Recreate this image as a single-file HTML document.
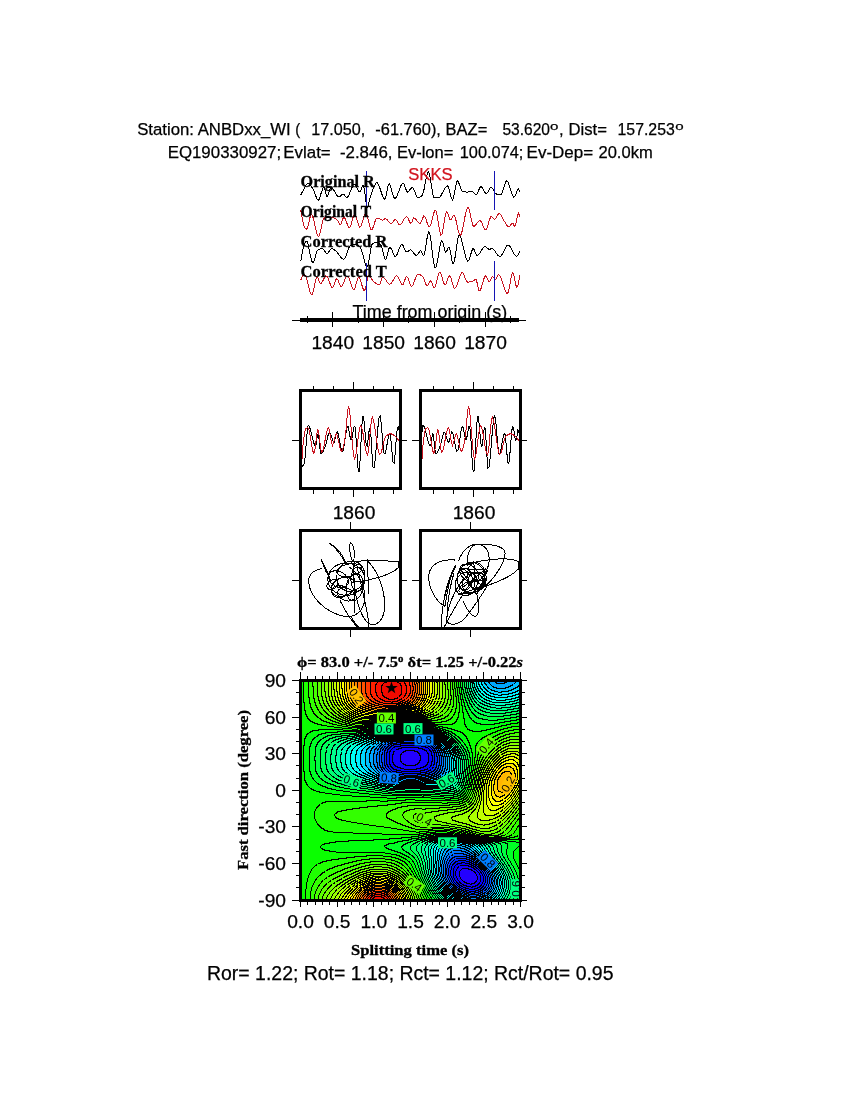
<!DOCTYPE html>
<html><head><meta charset="utf-8"><title>Shear-wave splitting ANBDxx_WI</title>
<style>html,body{margin:0;padding:0;background:#fff}body{width:850px;height:1100px;overflow:hidden}svg{display:block}</style></head>
<body>
<svg width="850" height="1100" viewBox="0 0 850 1100">
<rect width="850" height="1100" fill="#fff"/>
<g font-family="'Liberation Sans',Arial,Helvetica,sans-serif" fill="#000" stroke="#000" stroke-width="0.25">
<text xml:space="preserve" x="137.15" y="134.6" font-size="16.67" textLength="153.56" lengthAdjust="spacingAndGlyphs">Station: ANBDxx_WI</text>
<text xml:space="preserve" x="295.31" y="134.6" font-size="16.67" textLength="4.93" lengthAdjust="spacingAndGlyphs">(</text>
<text xml:space="preserve" x="311.19" y="134.6" font-size="16.67" textLength="54.01" lengthAdjust="spacingAndGlyphs">17.050,</text>
<text xml:space="preserve" x="375.34" y="134.6" font-size="16.67" textLength="65.59" lengthAdjust="spacingAndGlyphs">-61.760),</text>
<text xml:space="preserve" x="445.58" y="134.6" font-size="16.67" textLength="41.73" lengthAdjust="spacingAndGlyphs">BAZ=</text>
<text xml:space="preserve" x="502.38" y="134.6" font-size="16.67" textLength="47.65" lengthAdjust="spacingAndGlyphs">53.620</text>
<text xml:space="preserve" x="568.46" y="134.6" font-size="16.67" textLength="38.49" lengthAdjust="spacingAndGlyphs">Dist=</text>
<text xml:space="preserve" x="617.51" y="134.6" font-size="16.67" textLength="57.32" lengthAdjust="spacingAndGlyphs">157.253</text>
<text x="559" y="134.6" font-size="16.67">,</text>
<text xml:space="preserve" x="549.99" y="129.8" font-size="11.70" textLength="8.43" lengthAdjust="spacingAndGlyphs">o</text>
<text xml:space="preserve" x="675.19" y="129.8" font-size="11.70" textLength="8.43" lengthAdjust="spacingAndGlyphs">o</text>
<text xml:space="preserve" x="167.65" y="157.8" font-size="16.67" textLength="113.44" lengthAdjust="spacingAndGlyphs">EQ190330927;</text>
<text xml:space="preserve" x="283.35" y="157.8" font-size="16.67" textLength="47.35" lengthAdjust="spacingAndGlyphs">Evlat=</text>
<text xml:space="preserve" x="339.92" y="157.8" font-size="16.67" textLength="52.57" lengthAdjust="spacingAndGlyphs">-2.846,</text>
<text xml:space="preserve" x="396.88" y="157.8" font-size="16.67" textLength="56.53" lengthAdjust="spacingAndGlyphs">Ev-lon=</text>
<text xml:space="preserve" x="459.77" y="157.8" font-size="16.67" textLength="63.66" lengthAdjust="spacingAndGlyphs">100.074;</text>
<text xml:space="preserve" x="526.54" y="157.8" font-size="16.67" textLength="66.69" lengthAdjust="spacingAndGlyphs">Ev-Dep=</text>
<text xml:space="preserve" x="598.47" y="157.8" font-size="16.67" textLength="54.19" lengthAdjust="spacingAndGlyphs">20.0km</text>
</g>
<g fill="none" stroke-width="1" shape-rendering="crispEdges">
<polyline stroke="#000" points="300.5,195.5 301.5,193.5 302.5,191.6 303.5,189.8 304.5,188.1 305.5,186.1 306.5,184.3 307.5,183.2 308.5,183.1 309.5,183.8 310.5,185.1 311.5,186.6 312.5,188.2 313.5,189.9 314.5,192.3 315.5,195.1 316.5,197.7 317.5,199.7 318.5,200.5 319.5,198.8 320.5,195.2 321.5,192.0 322.5,189.4 323.5,187.3 324.5,187.7 325.5,192.0 326.5,196.3 327.5,196.6 328.5,194.0 329.5,190.5 330.5,187.9 331.5,187.6 332.5,188.4 333.5,189.7 334.5,191.4 335.5,193.1 336.5,194.8 337.5,196.1 338.5,196.9 339.5,196.9 340.5,196.1 341.5,194.9 342.5,194.1 343.5,194.2 344.5,195.1 345.5,196.4 346.5,197.3 347.5,197.3 348.5,195.8 349.5,193.5 350.5,191.1 351.5,188.9 352.5,186.3 353.5,184.3 354.5,184.2 355.5,185.2 356.5,187.0 357.5,189.0 358.5,190.8 359.5,191.8 360.5,191.5 361.5,188.5 362.5,185.5 363.5,185.8 364.5,190.0 365.5,197.9 366.5,206.5 367.5,207.5 368.5,204.1 369.5,199.8 370.5,196.5 371.5,193.4 372.5,190.6 373.5,188.1 374.5,185.9 375.5,183.9 376.5,182.6 377.5,182.9 378.5,184.4 379.5,186.9 380.5,189.9 381.5,193.0 382.5,195.9 383.5,198.0 384.5,199.1 385.5,198.0 386.5,193.6 387.5,188.1 388.5,184.2 389.5,183.9 390.5,186.2 391.5,189.7 392.5,193.6 393.5,196.8 394.5,198.4 395.5,198.1 396.5,196.7 397.5,194.6 398.5,192.0 399.5,189.3 400.5,186.7 401.5,184.6 402.5,183.3 403.5,183.1 404.5,185.1 405.5,188.1 406.5,190.9 407.5,192.0 408.5,191.4 409.5,190.2 410.5,188.9 411.5,187.8 412.5,187.5 413.5,188.7 414.5,191.0 415.5,193.7 416.5,196.2 417.5,197.6 418.5,197.7 419.5,197.4 420.5,196.9 421.5,196.1 422.5,195.0 423.5,191.9 424.5,187.2 425.5,181.8 426.5,176.8 427.5,173.1 428.5,171.6 429.5,173.8 430.5,179.2 431.5,186.1 432.5,192.6 433.5,197.0 434.5,197.8 435.5,197.8 436.5,197.8 437.5,197.8 438.5,197.8 439.5,197.3 440.5,196.2 441.5,194.6 442.5,192.7 443.5,190.7 444.5,188.9 445.5,187.3 446.5,186.2 447.5,185.8 448.5,187.3 449.5,190.8 450.5,194.9 451.5,198.4 452.5,199.9 453.5,197.8 454.5,193.0 455.5,187.2 456.5,182.5 457.5,180.8 458.5,182.1 459.5,184.7 460.5,187.8 461.5,190.3 462.5,191.4 463.5,191.7 464.5,191.9 465.5,192.0 466.5,192.1 467.5,192.1 468.5,192.0 469.5,191.7 470.5,191.5 471.5,191.4 472.5,191.8 473.5,192.6 474.5,193.7 475.5,194.5 476.5,194.9 477.5,193.7 478.5,191.0 479.5,188.2 480.5,186.6 481.5,186.9 482.5,188.2 483.5,189.9 484.5,191.7 485.5,193.0 486.5,193.5 487.5,192.7 488.5,191.0 489.5,189.1 490.5,187.6 491.5,187.2 492.5,188.3 493.5,190.3 494.5,192.3 495.5,193.5 496.5,194.0 497.5,194.3 498.5,194.6 499.5,194.8 500.5,194.9 501.5,193.9 502.5,191.5 503.5,188.4 504.5,185.1 505.5,182.4 506.5,180.9 507.5,181.2 508.5,183.2 509.5,186.1 510.5,189.5 511.5,192.8 512.5,195.4 513.5,197.0 514.5,196.7 515.5,195.0 516.5,192.5 517.5,190.1 518.5,188.7 519.5,190.6 519.8,192.0"/>
<polyline stroke="#c81420" points="300.8,210.2 301.8,216.4 302.8,221.3 303.8,225.1 304.8,227.6 305.8,229.0 306.8,229.1 307.8,226.7 308.8,222.6 309.8,218.2 310.8,215.1 311.8,214.7 312.8,216.7 313.8,220.3 314.8,224.8 315.8,229.3 316.8,233.2 317.8,235.8 318.8,236.2 319.8,233.9 320.8,229.7 321.8,224.9 322.8,220.6 323.8,218.2 324.8,217.9 325.8,217.8 326.8,217.6 327.8,217.6 328.8,217.5 329.8,217.5 330.8,217.5 331.8,217.6 332.8,217.8 333.8,218.0 334.8,218.3 335.8,218.6 336.8,219.4 337.8,221.0 338.8,222.8 339.8,224.1 340.8,224.1 341.8,221.9 342.8,219.0 343.8,217.3 344.8,218.0 345.8,220.1 346.8,222.9 347.8,225.6 348.8,227.4 349.8,227.8 350.8,225.7 351.8,222.0 352.8,218.1 353.8,215.2 354.8,214.6 355.8,216.2 356.8,219.2 357.8,222.5 358.8,225.5 359.8,227.1 360.8,226.6 361.8,224.2 362.8,220.7 363.8,217.0 364.8,214.2 365.8,213.0 366.8,214.4 367.8,218.0 368.8,222.4 369.8,226.6 370.8,229.5 371.8,229.8 372.8,228.1 373.8,225.3 374.8,222.1 375.8,219.4 376.8,218.0 377.8,218.1 378.8,218.5 379.8,219.0 380.8,219.6 381.8,220.0 382.8,220.1 383.8,219.6 384.8,218.9 385.8,218.7 386.8,219.3 387.8,220.4 388.8,221.7 389.8,222.9 390.8,223.5 391.8,223.4 392.8,222.2 393.8,220.8 394.8,219.6 395.8,219.5 396.8,220.9 397.8,222.8 398.8,224.5 399.8,225.0 400.8,224.4 401.8,223.1 402.8,221.4 403.8,219.7 404.8,218.1 405.8,217.0 406.8,216.6 407.8,217.7 408.8,220.0 409.8,222.3 410.8,223.6 411.8,222.3 412.8,219.2 413.8,217.9 414.8,218.4 415.8,219.4 416.8,220.7 417.8,222.0 418.8,223.0 419.8,223.5 420.8,222.8 421.8,220.5 422.8,217.8 423.8,216.0 424.8,216.2 425.8,218.5 426.8,221.8 427.8,224.9 428.8,226.9 429.8,226.7 430.8,224.4 431.8,220.8 432.8,216.8 433.8,213.1 434.8,210.7 435.8,210.3 436.8,213.5 437.8,219.2 438.8,225.8 439.8,231.7 440.8,235.1 441.8,234.7 442.8,230.7 443.8,224.8 444.8,218.5 445.8,213.5 446.8,211.5 447.8,213.1 448.8,216.5 449.8,219.4 450.8,219.8 451.8,218.3 452.8,216.2 453.8,215.1 454.8,216.2 455.8,219.5 456.8,224.1 457.8,228.9 458.8,232.9 459.8,235.3 460.8,235.0 461.8,232.4 462.8,228.2 463.8,223.0 464.8,217.6 465.8,212.8 466.8,209.1 467.8,207.4 468.8,208.3 469.8,211.8 470.8,216.6 471.8,221.4 472.8,225.1 473.8,226.4 474.8,225.9 475.8,224.9 476.8,223.6 477.8,222.3 478.8,221.2 479.8,220.7 480.8,221.2 481.8,222.9 482.8,225.2 483.8,227.5 484.8,229.3 485.8,229.9 486.8,228.6 487.8,225.7 488.8,222.1 489.8,218.9 490.8,216.8 491.8,216.7 492.8,217.6 493.8,218.7 494.8,219.3 495.8,218.5 496.8,216.7 497.8,214.8 498.8,213.7 499.8,213.9 500.8,215.0 501.8,216.8 502.8,218.7 503.8,220.4 504.8,221.9 505.8,223.6 506.8,225.3 507.8,226.5 508.8,227.1 509.8,226.4 510.8,224.8 511.8,223.2 512.8,223.0 513.8,225.2 514.8,226.3 515.8,223.7 516.8,219.2 517.8,214.8 518.8,212.9 519.8,216.5"/>
<polyline stroke="#000" points="300.8,261.3 301.8,255.1 302.8,250.0 303.8,246.1 304.8,243.5 305.8,241.5 306.8,241.1 307.8,243.4 308.8,247.6 309.8,252.6 310.8,257.5 311.8,261.2 312.8,262.7 313.8,261.5 314.8,258.5 315.8,254.8 316.8,251.6 317.8,250.0 318.8,249.5 319.8,249.1 320.8,248.8 321.8,248.7 322.8,248.6 323.8,249.4 324.8,251.1 325.8,252.7 326.8,253.5 327.8,253.1 328.8,251.9 329.8,250.5 330.8,249.2 331.8,248.6 332.8,248.8 333.8,249.4 334.8,250.2 335.8,251.0 336.8,252.0 337.8,253.2 338.8,254.6 339.8,255.9 340.8,257.2 341.8,258.2 342.8,258.9 343.8,259.2 344.8,258.5 345.8,256.5 346.8,253.6 347.8,250.6 348.8,247.9 349.8,246.1 350.8,245.5 351.8,245.1 352.8,244.8 353.8,244.6 354.8,244.5 355.8,244.6 356.8,244.9 357.8,245.5 358.8,246.1 359.8,246.9 360.8,248.2 361.8,250.9 362.8,254.5 363.8,258.4 364.8,262.1 365.8,265.1 366.8,266.7 367.8,266.0 368.8,261.5 369.8,255.1 370.8,248.9 371.8,244.8 372.8,243.9 373.8,243.3 374.8,242.8 375.8,242.6 376.8,242.5 377.8,242.8 378.8,243.4 379.8,244.2 380.8,245.2 381.8,246.8 382.8,250.6 383.8,255.3 384.8,259.0 385.8,259.7 386.8,257.1 387.8,252.9 388.8,248.9 389.8,247.2 390.8,248.0 391.8,249.9 392.8,252.3 393.8,254.6 394.8,256.1 395.8,256.3 396.8,254.9 397.8,252.6 398.8,249.8 399.8,247.2 400.8,245.2 401.8,244.4 402.8,245.2 403.8,247.2 404.8,249.5 405.8,251.4 406.8,252.1 407.8,251.6 408.8,250.8 409.8,250.0 410.8,249.8 411.8,250.5 412.8,251.7 413.8,253.1 414.8,254.5 415.8,255.4 416.8,255.5 417.8,254.5 418.8,252.8 419.8,251.3 420.8,250.7 421.8,252.4 422.8,254.8 423.8,255.4 424.8,252.1 425.8,246.2 426.8,239.7 427.8,234.2 428.8,231.6 429.8,233.6 430.8,239.6 431.8,247.7 432.8,256.2 433.8,263.5 434.8,267.7 435.8,267.5 436.8,264.2 437.8,259.0 438.8,252.9 439.8,247.2 440.8,242.8 441.8,240.8 442.8,242.3 443.8,246.2 444.8,250.3 445.8,252.1 446.8,250.9 447.8,248.6 448.8,247.2 449.8,249.1 450.8,254.2 451.8,259.9 452.8,263.7 453.8,263.3 454.8,258.9 455.8,252.2 456.8,245.0 457.8,238.8 458.8,235.4 459.8,235.7 460.8,237.7 461.8,240.9 462.8,245.0 463.8,249.3 464.8,253.6 465.8,257.3 466.8,260.0 467.8,261.3 468.8,260.5 469.8,257.8 470.8,254.2 471.8,250.9 472.8,248.8 473.8,249.0 474.8,251.1 475.8,253.6 476.8,255.4 477.8,255.4 478.8,254.6 479.8,253.2 480.8,251.5 481.8,249.7 482.8,248.2 483.8,247.0 484.8,246.5 485.8,246.8 486.8,247.7 487.8,248.6 488.8,249.2 489.8,249.2 490.8,248.9 491.8,248.6 492.8,248.8 493.8,249.7 494.8,250.9 495.8,252.4 496.8,253.8 497.8,255.1 498.8,256.0 499.8,256.4 500.8,256.0 501.8,254.8 502.8,253.1 503.8,251.2 504.8,249.2 505.8,247.3 506.8,245.9 507.8,245.2 508.8,245.3 509.8,246.2 510.8,247.6 511.8,249.5 512.8,251.4 513.8,253.4 514.8,255.0 515.8,256.0 516.8,256.4 517.8,255.6 518.8,253.7 519.8,251.4"/>
<polyline stroke="#c81420" points="300.8,280.0 301.8,277.4 302.8,275.6 303.8,274.6 304.8,274.6 305.8,276.3 306.8,279.4 307.8,283.4 308.8,287.5 309.8,291.1 310.8,293.8 311.8,294.8 312.8,293.2 313.8,289.2 314.8,284.3 315.8,279.9 316.8,277.4 317.8,277.9 318.8,280.2 319.8,282.7 320.8,283.5 321.8,282.6 322.8,280.9 323.8,278.8 324.8,277.0 325.8,275.9 326.8,276.1 327.8,277.7 328.8,280.1 329.8,282.9 330.8,285.5 331.8,287.3 332.8,287.7 333.8,286.0 334.8,282.9 335.8,279.9 336.8,278.6 337.8,279.7 338.8,282.1 339.8,284.7 340.8,286.3 341.8,286.0 342.8,284.5 343.8,282.2 344.8,279.7 345.8,277.5 346.8,276.1 347.8,276.0 348.8,277.5 349.8,280.3 350.8,283.5 351.8,286.6 352.8,289.0 353.8,289.9 354.8,288.5 355.8,285.3 356.8,281.4 357.8,278.3 358.8,277.2 359.8,278.5 360.8,281.3 361.8,284.8 362.8,288.0 363.8,290.2 364.8,290.2 365.8,286.8 366.8,281.6 367.8,277.2 368.8,275.8 369.8,276.5 370.8,277.7 371.8,279.3 372.8,280.7 373.8,281.6 374.8,282.5 375.8,283.3 376.8,284.0 377.8,284.6 378.8,284.9 379.8,284.3 380.8,281.5 381.8,278.5 382.8,277.2 383.8,277.7 384.8,278.7 385.8,280.0 386.8,281.5 387.8,282.8 388.8,283.8 389.8,284.2 390.8,283.7 391.8,282.5 392.8,280.9 393.8,279.1 394.8,277.5 395.8,276.3 396.8,275.8 397.8,276.5 398.8,278.4 399.8,280.7 400.8,283.0 401.8,284.5 402.8,284.8 403.8,283.0 404.8,280.1 405.8,277.5 406.8,276.5 407.8,277.8 408.8,280.5 409.8,283.6 410.8,285.8 411.8,286.3 412.8,285.1 413.8,282.9 414.8,280.1 415.8,277.4 416.8,275.3 417.8,274.4 418.8,274.5 419.8,274.7 420.8,275.1 421.8,275.6 422.8,276.6 423.8,278.8 424.8,281.6 425.8,284.1 426.8,285.5 427.8,285.1 428.8,283.3 429.8,281.4 430.8,280.8 431.8,282.6 432.8,285.6 433.8,287.7 434.8,287.2 435.8,284.5 436.8,280.6 437.8,276.6 438.8,273.5 439.8,272.2 440.8,273.4 441.8,276.4 442.8,280.0 443.8,283.2 444.8,284.8 445.8,284.2 446.8,281.8 447.8,278.9 448.8,276.5 449.8,275.9 450.8,277.6 451.8,281.0 452.8,284.7 453.8,287.6 454.8,288.5 455.8,287.5 456.8,285.3 457.8,282.5 458.8,279.4 459.8,276.4 460.8,274.0 461.8,272.5 462.8,272.4 463.8,274.2 464.8,277.0 465.8,279.9 466.8,281.8 467.8,282.1 468.8,282.0 469.8,281.9 470.8,281.6 471.8,281.4 472.8,281.0 473.8,280.7 474.8,279.7 475.8,279.0 476.8,281.4 477.8,286.5 478.8,290.6 479.8,291.0 480.8,289.1 481.8,286.1 482.8,282.5 483.8,279.1 484.8,276.6 485.8,275.8 486.8,277.3 487.8,279.9 488.8,281.9 489.8,281.7 490.8,279.7 491.8,277.4 492.8,276.5 493.8,277.7 494.8,279.5 495.8,279.8 496.8,277.6 497.8,275.0 498.8,274.5 499.8,275.6 500.8,277.7 501.8,280.4 502.8,283.4 503.8,286.5 504.8,289.4 505.8,291.7 506.8,293.1 507.8,293.2 508.8,290.2 509.8,284.9 510.8,279.0 511.8,274.2 512.8,272.2 513.8,274.6 514.8,279.9 515.8,285.1 516.8,287.1 517.8,285.5 518.8,281.4 519.8,275.1"/>
<path stroke="#1414b4" d="M366.5,171V208M494.5,171V210M366.5,262.5V300.5M494.5,261V300.5"/>
</g>
<g font-family="'Liberation Serif','Times New Roman',Times,serif" font-weight="bold" font-size="16" fill="#000" stroke="#000" stroke-width="0.3">
<text x="300.6" y="187.0" textLength="74.2" lengthAdjust="spacingAndGlyphs">Original R</text>
<text x="300.6" y="217.0" textLength="70.6" lengthAdjust="spacingAndGlyphs">Original T</text>
<text x="300.6" y="247.0" textLength="86.8" lengthAdjust="spacingAndGlyphs">Corrected R</text>
<text x="300.6" y="277.0" textLength="86.2" lengthAdjust="spacingAndGlyphs">Corrected T</text>
</g>
<text x="408.3" y="179.6" font-family="'Liberation Sans',Arial,Helvetica,sans-serif" font-size="16.67" fill="#d2141e" stroke="#d2141e" stroke-width="0.25" textLength="44.2" lengthAdjust="spacingAndGlyphs">SKKS</text>
<text x="352.6" y="317.6" font-family="'Liberation Sans',Arial,Helvetica,sans-serif" font-size="18.2" fill="#000" stroke="#000" stroke-width="0.25" textLength="154.5" lengthAdjust="spacingAndGlyphs">Time from origin (s)</text>
<g stroke="#000" shape-rendering="crispEdges">
<line x1="292" y1="320.5" x2="526" y2="320.5" stroke-width="1"/>
<rect x="300" y="318" width="219" height="4" fill="#000" stroke="none"/>
<path d="M307.5,316V323M332.5,312V327M358.5,316V323M383.5,312V327M408.5,316V323M434.5,312V327M459.5,316V323M485.5,312V327M510.5,316V323" stroke-width="1" fill="none"/>
</g>
<g font-family="'Liberation Sans',Arial,Helvetica,sans-serif" font-size="19.2" fill="#000" stroke="#000" stroke-width="0.25" text-anchor="middle">
<text x="332.8" y="349">1840</text>
<text x="383.7" y="349">1850</text>
<text x="434.6" y="349">1860</text>
<text x="485.5" y="349">1870</text>
<text x="354" y="518.5">1860</text><text x="474" y="518.5">1860</text>
</g>
<defs><clipPath id="c1"><rect x="300.5" y="390.5" width="100" height="98"/></clipPath><clipPath id="c2"><rect x="420.5" y="390.5" width="100" height="98"/></clipPath></defs>
<g fill="none" stroke-width="1" shape-rendering="crispEdges">
<g clip-path="url(#c1)"><polyline stroke="#000" points="301.1,466.8 302.1,466.4 303.1,465.3 304.1,463.8 305.1,457.7 306.1,445.4 307.1,432.7 308.1,425.7 309.1,426.2 310.1,428.6 311.1,432.2 312.1,436.4 313.1,440.5 314.1,443.8 315.1,445.8 316.1,444.7 317.1,437.0 318.1,433.3 319.1,439.9 320.1,449.6 321.1,453.8 322.1,453.0 323.1,451.3 324.1,449.0 325.1,446.5 326.1,443.7 327.1,439.5 328.1,435.1 329.1,432.5 330.1,433.0 331.1,435.5 332.1,438.6 333.1,441.3 334.1,442.3 335.1,439.1 336.1,434.0 337.1,431.6 338.1,433.6 339.1,438.1 340.1,443.6 341.1,448.5 342.1,451.3 343.1,450.3 344.1,445.4 345.1,438.7 346.1,432.0 347.1,427.3 348.1,426.7 349.1,431.1 350.1,437.0 351.1,440.0 352.1,437.2 353.1,431.3 354.1,426.4 355.1,427.2 356.1,439.2 357.1,456.0 358.1,469.6 359.1,471.9 360.1,459.6 361.1,440.3 362.1,422.7 363.1,415.6 364.1,421.4 365.1,433.0 366.1,443.6 367.1,446.6 368.1,439.8 369.1,430.6 370.1,427.3 371.1,437.9 372.1,455.3 373.1,467.9 374.1,467.5 375.1,460.2 376.1,449.2 377.1,436.8 378.1,425.5 379.1,417.7 380.1,415.8 381.1,422.4 382.1,434.2 383.1,446.3 384.1,453.9 385.1,453.7 386.1,449.7 387.1,444.0 388.1,438.3 389.1,434.2 390.1,433.6 391.1,441.4 392.1,453.4 393.1,462.8 394.1,463.2 395.1,454.1 396.1,441.1 397.1,429.9 398.1,426.4 399.1,430.7 400.1,437.2 401.1,440.8 402.1,436.4 403.1,429.9 404.1,431.9 404.9,440.8"/><polyline stroke="#c81420" points="301.5,467.1 302.5,450.9 303.5,440.4 304.5,433.2 305.5,428.7 306.5,428.1 307.5,427.8 308.5,428.4 309.5,432.1 310.5,437.7 311.5,444.0 312.5,449.6 313.5,453.2 314.5,452.8 315.5,445.8 316.5,436.4 317.5,429.9 318.5,431.0 319.5,438.3 320.5,447.0 321.5,452.1 322.5,451.3 323.5,448.1 324.5,443.3 325.5,438.0 326.5,433.1 327.5,429.4 328.5,427.8 329.5,430.4 330.5,436.7 331.5,442.9 332.5,445.3 333.5,443.0 334.5,438.8 335.5,435.0 336.5,434.0 337.5,436.4 338.5,440.7 339.5,445.6 340.5,449.6 341.5,451.5 342.5,450.2 343.5,446.5 344.5,441.3 345.5,435.5 346.5,424.7 347.5,412.1 348.5,406.4 349.5,410.4 350.5,420.1 351.5,432.5 352.5,445.0 353.5,454.8 354.5,459.1 355.5,457.0 356.5,451.2 357.5,443.4 358.5,435.3 359.5,428.8 360.5,425.6 361.5,426.6 362.5,430.6 363.5,436.3 364.5,442.8 365.5,448.8 366.5,453.3 367.5,455.3 368.5,451.3 369.5,440.8 370.5,428.5 371.5,419.2 372.5,417.3 373.5,420.1 374.5,425.4 375.5,432.2 376.5,439.5 377.5,446.3 378.5,451.6 379.5,454.4 380.5,453.9 381.5,451.4 382.5,447.6 383.5,443.3 384.5,439.4 385.5,436.7 386.5,435.7 387.5,435.0 388.5,434.4 389.5,434.0 390.5,433.9 391.5,434.0 392.5,434.4 393.5,435.0 394.5,435.7 395.5,436.5 396.5,437.5 397.5,438.8 398.5,440.3 399.5,442.0 399.7,442.3"/></g>
<g clip-path="url(#c2)"><polyline stroke="#000" points="415.9,466.8 416.9,466.4 417.9,465.3 418.9,463.8 419.9,457.7 420.9,445.4 421.9,432.7 422.9,425.7 423.9,426.2 424.9,428.6 425.9,432.2 426.9,436.4 427.9,440.5 428.9,443.8 429.9,445.8 430.9,444.7 431.9,437.0 432.9,433.3 433.9,439.9 434.9,449.6 435.9,453.8 436.9,453.0 437.9,451.3 438.9,449.0 439.9,446.5 440.9,443.7 441.9,439.5 442.9,435.1 443.9,432.5 444.9,433.0 445.9,435.5 446.9,438.6 447.9,441.3 448.9,442.3 449.9,439.1 450.9,434.0 451.9,431.6 452.9,433.6 453.9,438.1 454.9,443.6 455.9,448.5 456.9,451.3 457.9,450.3 458.9,445.4 459.9,438.7 460.9,432.0 461.9,427.3 462.9,426.7 463.9,431.1 464.9,437.0 465.9,440.0 466.9,437.2 467.9,431.3 468.9,426.4 469.9,427.2 470.9,439.2 471.9,456.0 472.9,469.6 473.9,471.9 474.9,459.6 475.9,440.3 476.9,422.7 477.9,415.6 478.9,421.4 479.9,433.0 480.9,443.6 481.9,446.6 482.9,439.8 483.9,430.6 484.9,427.3 485.9,437.9 486.9,455.3 487.9,467.9 488.9,467.5 489.9,460.2 490.9,449.2 491.9,436.8 492.9,425.5 493.9,417.7 494.9,415.8 495.9,422.4 496.9,434.2 497.9,446.3 498.9,453.9 499.9,453.7 500.9,449.7 501.9,444.0 502.9,438.3 503.9,434.2 504.9,433.6 505.9,441.4 506.9,453.4 507.9,462.8 508.9,463.2 509.9,454.1 510.9,441.1 511.9,429.9 512.9,426.4 513.9,430.7 514.9,437.2 515.9,440.8 516.9,436.4 517.9,429.9 518.9,431.9 519.7,440.8"/><polyline stroke="#c81420" points="421.5,467.1 422.5,450.9 423.5,440.4 424.5,433.2 425.5,428.7 426.5,428.1 427.5,427.8 428.5,428.4 429.5,432.1 430.5,437.7 431.5,444.0 432.5,449.6 433.5,453.2 434.5,452.8 435.5,445.8 436.5,436.4 437.5,429.9 438.5,431.0 439.5,438.3 440.5,447.0 441.5,452.1 442.5,451.3 443.5,448.1 444.5,443.3 445.5,438.0 446.5,433.1 447.5,429.4 448.5,427.8 449.5,430.4 450.5,436.7 451.5,442.9 452.5,445.3 453.5,443.0 454.5,438.8 455.5,435.0 456.5,434.0 457.5,436.4 458.5,440.7 459.5,445.6 460.5,449.6 461.5,451.5 462.5,450.2 463.5,446.5 464.5,441.3 465.5,435.5 466.5,424.7 467.5,412.1 468.5,406.4 469.5,410.4 470.5,420.1 471.5,432.5 472.5,445.0 473.5,454.8 474.5,459.1 475.5,457.0 476.5,451.2 477.5,443.4 478.5,435.3 479.5,428.8 480.5,425.6 481.5,426.6 482.5,430.6 483.5,436.3 484.5,442.8 485.5,448.8 486.5,453.3 487.5,455.3 488.5,451.3 489.5,440.8 490.5,428.5 491.5,419.2 492.5,417.3 493.5,420.1 494.5,425.4 495.5,432.2 496.5,439.5 497.5,446.3 498.5,451.6 499.5,454.4 500.5,453.9 501.5,451.4 502.5,447.6 503.5,443.3 504.5,439.4 505.5,436.7 506.5,435.7 507.5,435.0 508.5,434.4 509.5,434.0 510.5,433.9 511.5,434.0 512.5,434.4 513.5,435.0 514.5,435.7 515.5,436.5 516.5,437.5 517.5,438.8 518.5,440.3 519.5,442.0 519.7,442.3"/></g>
</g>
<g shape-rendering="crispEdges">
<rect x="300.5" y="390.5" width="100.2" height="98.3" fill="none" stroke="#000" stroke-width="3"/>
<rect x="300.5" y="530.5" width="100.2" height="98.3" fill="none" stroke="#000" stroke-width="3"/>
<rect x="420.5" y="390.5" width="100.2" height="98.3" fill="none" stroke="#000" stroke-width="3"/>
<rect x="420.5" y="530.5" width="100.2" height="98.3" fill="none" stroke="#000" stroke-width="3"/>
<path d="M313.5,385.5V389M313.5,490V493.5M333.5,385.5V389M333.5,490V493.5M353.5,382V389M353.5,490V497M373.5,385.5V389M373.5,490V493.5M393.5,385.5V389M393.5,490V493.5M292.0,440.5H299.0M402.0,440.5H407.0M350.5,522V529M350.5,630V637M292.0,580.5H299.0M402.0,580.5H407.0M433.5,385.5V389M433.5,490V493.5M453.5,385.5V389M453.5,490V493.5M473.5,382V389M473.5,490V497M493.5,385.5V389M493.5,490V493.5M513.5,385.5V389M513.5,490V493.5M412.0,440.5H419.0M522.0,440.5H527.0M470.5,522V529M470.5,630V637M412.0,580.5H419.0M522.0,580.5H527.0" stroke="#000" stroke-width="1" fill="none"/>
</g>
<g fill="none" stroke="#000" stroke-width="1" shape-rendering="crispEdges">
<path d="M 321.7,568.5 C 312.5,570.1 307.9,576.2 308.7,582.3 C 309.5,594.5 323.2,612.9 346.2,616.7 C 358.4,617.5 366.1,606.8 364.5,594.5 C 363.8,583.8 358.4,573.1 349.2,567.0"/>
<path d="M 367.6,560.9 C 379.8,573.1 385.9,594.5 384.4,609.8 C 382.9,622.1 375.2,626.7 369.1,623.6 C 361.5,619.0 355.4,600.7 353.8,579.2 C 353.1,573.1 353.8,565.5 355.4,560.9"/>
<path d="M 352.3,582.3 C 370.7,580.8 392.1,574.7 398.9,567.0 L 398.9,561.7 C 389.0,560.9 376.8,560.6 367.6,560.9 C 358.4,560.9 352.3,561.7 350.8,562.4"/>
<path d="M 328.6,542.5 C 337.0,547.1 344.7,556.3 346.2,565.5 C 343.1,557.8 337.0,548.6 328.6,542.5"/>
<path d="M 350.8,542.5 C 348.5,545.6 350.0,554.8 352.3,560.9 C 354.6,560.9 356.1,548.6 350.8,542.5"/>
<path d="M 320.9,558.6 C 323.2,565.5 326.3,573.1 330.9,580.8 C 327.8,573.1 324.8,565.5 320.9,558.6"/>
<path d="M 353.8,565.5 L 354.6,612.9 M 350.8,615.9 C 353.8,622.1 358.4,627.4 361.5,628.9 M 356.9,565.5 C 361.5,588.4 369.1,614.4 369.1,628.9 M 367.6,559.4 L 368.4,594.5 M 340.1,600.7 C 346.2,612.9 350.8,620.5 358.4,628.2"/>
<ellipse cx="346.2" cy="579.2" rx="18.4" ry="16.1" transform="rotate(0 346.2 579.2)"/>
<ellipse cx="350.8" cy="576.2" rx="13.8" ry="15.3" transform="rotate(20 350.8 576.2)"/>
<ellipse cx="343.1" cy="586.9" rx="12.2" ry="9.2" transform="rotate(-20 343.1 586.9)"/>
<ellipse cx="354.6" cy="586.9" rx="8.4" ry="13.8" transform="rotate(10 354.6 586.9)"/>
<ellipse cx="338.5" cy="579.2" rx="10.7" ry="7.6" transform="rotate(30 338.5 579.2)"/>
<ellipse cx="349.2" cy="570.1" rx="13.0" ry="6.1" transform="rotate(-10 349.2 570.1)"/>
<ellipse cx="357.7" cy="579.2" rx="6.9" ry="12.2" transform="rotate(0 357.7 579.2)"/>
<ellipse cx="339.3" cy="591.5" rx="7.6" ry="6.1" transform="rotate(0 339.3 591.5)"/>
<ellipse cx="346.2" cy="594.5" rx="9.2" ry="6.1" transform="rotate(20 346.2 594.5)"/>
<ellipse cx="332.4" cy="584.6" rx="6.1" ry="4.3" transform="rotate(-35 332.4 584.6)"/>
<path d="M 455.5,560.1 C 443.2,558.6 431.0,562.4 428.7,574.7 C 427.9,586.9 435.6,600.7 443.2,605.2 C 444.8,591.5 449.4,576.2 455.5,565.5"/>
<path d="M 458.5,560.9 C 463.1,548.6 470.8,544.1 478.4,544.1 C 490.7,544.1 504.4,545.6 505.2,553.2 C 504.4,563.9 493.7,579.2 484.5,586.9"/>
<path d="M 467.7,565.5 C 466.2,553.2 470.8,544.8 478.4,544.1 C 487.6,545.6 490.7,554.8 488.4,565.5 C 486.1,573.1 481.5,579.2 476.9,582.3"/>
<path d="M 463.1,565.5 C 481.5,559.4 509.0,556.3 518.9,561.7 L 518.9,568.5 C 512.1,576.2 496.8,582.3 487.6,585.4 C 476.9,588.4 466.2,591.5 458.5,594.5"/>
<path d="M 455.5,567.0 C 446.3,583.8 441.7,606.8 440.9,628.9 M 443.2,628.9 C 450.9,614.4 463.1,591.5 473.8,579.2 M 446.3,620.5 C 449.4,626.7 461.6,625.1 467.7,614.4 C 473.8,606.8 478.4,600.7 487.6,585.4 M 446.3,620.5 C 447.8,606.8 453.9,591.5 463.1,579.2 M 463.1,600.7 C 466.2,609.8 472.3,617.5 476.1,615.9 C 479.9,612.9 479.2,603.7 476.9,594.5"/>
<path d="M 450.9,576.2 C 447.8,588.4 446.3,597.6 444.8,606.8 M 453.9,573.1 C 449.4,588.4 447.8,600.7 447.1,612.9 M 463.1,568.5 L 484.5,588.4 M 461.6,588.4 L 486.1,568.5 M 473.8,560.9 L 475.4,594.5 M 460.1,568.5 L 476.9,594.5 L 487.6,570.1 Z"/>
<ellipse cx="470.8" cy="577.7" rx="13.8" ry="15.3" transform="rotate(15 470.8 577.7)"/>
<ellipse cx="473.8" cy="582.3" rx="12.2" ry="9.2" transform="rotate(-30 473.8 582.3)"/>
<ellipse cx="466.2" cy="583.8" rx="10.7" ry="12.2" transform="rotate(30 466.2 583.8)"/>
<ellipse cx="476.9" cy="576.2" rx="9.2" ry="13.8" transform="rotate(-10 476.9 576.2)"/>
<ellipse cx="469.2" cy="573.1" rx="10.7" ry="7.6" transform="rotate(40 469.2 573.1)"/>
<ellipse cx="472.3" cy="586.9" rx="13.8" ry="6.1" transform="rotate(-15 472.3 586.9)"/>
<ellipse cx="464.7" cy="579.2" rx="7.6" ry="10.7" transform="rotate(0 464.7 579.2)"/>
<ellipse cx="475.4" cy="580.8" rx="7.6" ry="7.6" transform="rotate(0 475.4 580.8)"/>
</g>
<defs><clipPath id="cc"><rect x="300.5" y="680.5" width="220.0" height="219.5"/></clipPath></defs>
<g clip-path="url(#cc)" stroke="#000" stroke-width="1" stroke-linejoin="round" shape-rendering="crispEdges">
<rect x="300.5" y="680.5" width="220.0" height="219.5" fill="#e30100" stroke="none"/>
<path d="M300.5,680.5 302.5,680.5 304.5,680.5 306.5,680.5 308.5,680.5 310.5,680.5 312.5,680.5 314.5,680.5 316.5,680.5 318.5,680.5 320.5,680.5 322.5,680.5 324.5,680.5 326.5,680.5 328.5,680.5 330.5,680.5 332.5,680.5 334.5,680.5 336.5,680.5 338.5,680.5 340.5,680.5 342.5,680.5 344.5,680.5 346.5,680.5 348.5,680.5 350.5,680.5 352.5,680.5 354.5,680.5 356.5,680.5 358.5,680.5 360.5,680.5 362.5,680.5 364.5,680.5 366.5,680.5 368.5,680.5 370.5,680.5 372.5,680.5 374.5,680.5 376.5,680.5 378.5,680.5 380.5,680.5 382.5,680.5 384.5,680.5 386.5,680.5 388.5,680.5 390.5,680.5 392.5,680.5 394.5,680.5 396.5,680.5 398.5,680.5 400.5,680.5 402.5,680.5 404.5,680.5 406.5,680.5 408.5,680.5 410.5,680.5 412.5,680.5 414.5,680.5 416.5,680.5 418.5,680.5 420.5,680.5 422.5,680.5 424.5,680.5 426.5,680.5 428.5,680.5 430.5,680.5 432.5,680.5 434.5,680.5 436.5,680.5 438.5,680.5 440.5,680.5 442.5,680.5 444.5,680.5 446.5,680.5 448.5,680.5 450.5,680.5 452.5,680.5 454.5,680.5 456.5,680.5 458.5,680.5 460.5,680.5 462.5,680.5 464.5,680.5 466.5,680.5 468.5,680.5 470.5,680.5 472.5,680.5 474.5,680.5 476.5,680.5 478.5,680.5 480.5,680.5 482.5,680.5 484.5,680.5 486.5,680.5 488.5,680.5 490.5,680.5 492.5,680.5 494.5,680.5 496.5,680.5 498.5,680.5 500.5,680.5 502.5,680.5 504.5,680.5 506.5,680.5 508.5,680.5 510.5,680.5 512.5,680.5 514.5,680.5 516.5,680.5 518.5,680.5 520.5,680.5 520.5,682.5 520.5,684.5 520.5,686.5 520.5,688.5 520.5,690.5 520.5,692.5 520.5,694.5 520.5,696.5 520.5,698.5 520.5,700.5 520.5,702.5 520.5,704.5 520.5,706.5 520.5,708.5 520.5,710.5 520.5,712.5 520.5,714.5 520.5,716.5 520.5,718.5 520.5,720.5 520.5,722.5 520.5,724.5 520.5,726.5 520.5,728.5 520.5,730.5 520.5,732.5 520.5,734.5 520.5,736.5 520.5,738.5 520.5,740.5 520.5,742.5 520.5,744.5 520.5,746.5 520.5,748.5 520.5,750.5 520.5,752.5 520.5,754.5 520.5,756.5 520.5,758.5 520.5,760.5 520.5,762.5 520.5,764.5 520.5,766.5 520.5,768.5 520.5,770.5 520.5,772.5 520.5,774.5 520.5,776.5 520.5,778.5 520.5,780.5 520.5,782.5 520.5,784.5 520.5,786.5 520.5,788.5 520.5,790 520.5,792 520.5,794 520.5,796 520.5,798 520.5,800 520.5,802 520.5,804 520.5,806 520.5,808 520.5,810 520.5,812 520.5,814 520.5,816 520.5,818 520.5,820 520.5,822 520.5,824 520.5,826 520.5,828 520.5,830 520.5,832 520.5,834 520.5,836 520.5,838 520.5,840 520.5,842 520.5,844 520.5,846 520.5,848 520.5,850 520.5,852 520.5,854 520.5,856 520.5,858 520.5,860 520.5,862 520.5,864 520.5,866 520.5,868 520.5,870 520.5,872 520.5,874 520.5,876 520.5,878 520.5,880 520.5,882 520.5,884 520.5,886 520.5,888 520.5,890 520.5,892 520.5,894 520.5,896 520.5,898 520.5,900 518.5,900 516.5,900 514.5,900 512.5,900 510.5,900 508.5,900 506.5,900 504.5,900 502.5,900 500.5,900 498.5,900 496.5,900 494.5,900 492.5,900 490.5,900 488.5,900 486.5,900 484.5,900 482.5,900 480.5,900 478.5,900 476.5,900 474.5,900 472.5,900 470.5,900 468.5,900 466.5,900 464.5,900 462.5,900 460.5,900 458.5,900 456.5,900 454.5,900 452.5,900 450.5,900 448.5,900 446.5,900 444.5,900 442.5,900 440.5,900 438.5,900 436.5,900 434.5,900 432.5,900 430.5,900 428.5,900 426.5,900 424.5,900 422.5,900 420.5,900 418.5,900 416.5,900 414.5,900 412.5,900 410.5,900 408.5,900 406.5,900 404.5,900 402.5,900 400.5,900 398.5,900 396.5,900 394.5,900 392.5,900 390.5,900 388.5,900 386.5,900 384.5,900 382.5,900 381,900 379.5,899.5 378.5,899 377,899 375.5,899.5 374.5,900 372.5,900 370.5,900 368.5,900 366.5,900 364.5,900 362.5,900 360.5,900 358.5,900 356.5,900 354.5,900 352.5,900 350.5,900 348.5,900 346.5,900 344.5,900 342.5,900 340.5,900 338.5,900 336.5,900 334.5,900 332.5,900 330.5,900 328.5,900 326.5,900 324.5,900 322.5,900 320.5,900 318.5,900 316.5,900 314.5,900 312.5,900 310.5,900 308.5,900 306.5,900 304.5,900 302.5,900 300.5,900 300.5,898 300.5,896 300.5,894 300.5,892 300.5,890 300.5,888 300.5,886 300.5,884 300.5,882 300.5,880 300.5,878 300.5,876 300.5,874 300.5,872 300.5,870 300.5,868 300.5,866 300.5,864 300.5,862 300.5,860 300.5,858 300.5,856 300.5,854 300.5,852 300.5,850 300.5,848 300.5,846 300.5,844 300.5,842 300.5,840 300.5,838 300.5,836 300.5,834 300.5,832 300.5,830 300.5,828 300.5,826 300.5,824 300.5,822 300.5,820 300.5,818 300.5,816 300.5,814 300.5,812 300.5,810 300.5,808 300.5,806 300.5,804 300.5,802 300.5,800 300.5,798 300.5,796 300.5,794 300.5,792 300.5,790 300.5,788.5 300.5,786.5 300.5,784.5 300.5,782.5 300.5,780.5 300.5,778.5 300.5,776.5 300.5,774.5 300.5,772.5 300.5,770.5 300.5,768.5 300.5,766.5 300.5,764.5 300.5,762.5 300.5,760.5 300.5,758.5 300.5,756.5 300.5,754.5 300.5,752.5 300.5,750.5 300.5,748.5 300.5,746.5 300.5,744.5 300.5,742.5 300.5,740.5 300.5,738.5 300.5,736.5 300.5,734.5 300.5,732.5 300.5,730.5 300.5,728.5 300.5,726.5 300.5,724.5 300.5,722.5 300.5,720.5 300.5,718.5 300.5,716.5 300.5,714.5 300.5,712.5 300.5,710.5 300.5,708.5 300.5,706.5 300.5,704.5 300.5,702.5 300.5,700.5 300.5,698.5 300.5,696.5 300.5,694.5 300.5,692.5 300.5,690.5 300.5,688.5 300.5,686.5 300.5,684.5 300.5,682.5 300.5,680.5Z" fill="#f00a00"/>
<path d="M300.5,680.5 302.5,680.5 304.5,680.5 306.5,680.5 308.5,680.5 310.5,680.5 312.5,680.5 314.5,680.5 316.5,680.5 318.5,680.5 320.5,680.5 322.5,680.5 324.5,680.5 326.5,680.5 328.5,680.5 330.5,680.5 332.5,680.5 334.5,680.5 336.5,680.5 338.5,680.5 340.5,680.5 342.5,680.5 344.5,680.5 346.5,680.5 348.5,680.5 350.5,680.5 352.5,680.5 354.5,680.5 356.5,680.5 358.5,680.5 360.5,680.5 362.5,680.5 364.5,680.5 366.5,680.5 368.5,680.5 370.5,680.5 372.5,680.5 374.5,680.5 376.5,680.5 378.5,680.5 380.5,680.5 382.5,680.5 384.5,680.5 386.5,680.5 388.5,680.5 390.5,680.5 392.5,680.5 394.5,680.5 396.5,680.5 398.5,680.5 400.5,680.5 402.5,680.5 404.5,680.5 406.5,680.5 408.5,680.5 410.5,680.5 412.5,680.5 414.5,680.5 416.5,680.5 418.5,680.5 420.5,680.5 422.5,680.5 424.5,680.5 426.5,680.5 428.5,680.5 430.5,680.5 432.5,680.5 434.5,680.5 436.5,680.5 438.5,680.5 440.5,680.5 442.5,680.5 444.5,680.5 446.5,680.5 448.5,680.5 450.5,680.5 452.5,680.5 454.5,680.5 456.5,680.5 458.5,680.5 460.5,680.5 462.5,680.5 464.5,680.5 466.5,680.5 468.5,680.5 470.5,680.5 472.5,680.5 474.5,680.5 476.5,680.5 478.5,680.5 480.5,680.5 482.5,680.5 484.5,680.5 486.5,680.5 488.5,680.5 490.5,680.5 492.5,680.5 494.5,680.5 496.5,680.5 498.5,680.5 500.5,680.5 502.5,680.5 504.5,680.5 506.5,680.5 508.5,680.5 510.5,680.5 512.5,680.5 514.5,680.5 516.5,680.5 518.5,680.5 520.5,680.5 520.5,682.5 520.5,684.5 520.5,686.5 520.5,688.5 520.5,690.5 520.5,692.5 520.5,694.5 520.5,696.5 520.5,698.5 520.5,700.5 520.5,702.5 520.5,704.5 520.5,706.5 520.5,708.5 520.5,710.5 520.5,712.5 520.5,714.5 520.5,716.5 520.5,718.5 520.5,720.5 520.5,722.5 520.5,724.5 520.5,726.5 520.5,728.5 520.5,730.5 520.5,732.5 520.5,734.5 520.5,736.5 520.5,738.5 520.5,740.5 520.5,742.5 520.5,744.5 520.5,746.5 520.5,748.5 520.5,750.5 520.5,752.5 520.5,754.5 520.5,756.5 520.5,758.5 520.5,760.5 520.5,762.5 520.5,764.5 520.5,766.5 520.5,768.5 520.5,770.5 520.5,772.5 520.5,774.5 520.5,776.5 520.5,778.5 520.5,780.5 520.5,782.5 520.5,784.5 520.5,786.5 520.5,788.5 520.5,790 520.5,792 520.5,794 520.5,796 520.5,798 520.5,800 520.5,802 520.5,804 520.5,806 520.5,808 520.5,810 520.5,812 520.5,814 520.5,816 520.5,818 520.5,820 520.5,822 520.5,824 520.5,826 520.5,828 520.5,830 520.5,832 520.5,834 520.5,836 520.5,838 520.5,840 520.5,842 520.5,844 520.5,846 520.5,848 520.5,850 520.5,852 520.5,854 520.5,856 520.5,858 520.5,860 520.5,862 520.5,864 520.5,866 520.5,868 520.5,870 520.5,872 520.5,874 520.5,876 520.5,878 520.5,880 520.5,882 520.5,884 520.5,886 520.5,888 520.5,890 520.5,892 520.5,894 520.5,896 520.5,898 520.5,900 518.5,900 516.5,900 514.5,900 512.5,900 510.5,900 508.5,900 506.5,900 504.5,900 502.5,900 500.5,900 498.5,900 496.5,900 494.5,900 492.5,900 490.5,900 488.5,900 486.5,900 484.5,900 482.5,900 480.5,900 478.5,900 476.5,900 474.5,900 472.5,900 470.5,900 468.5,900 466.5,900 464.5,900 462.5,900 460.5,900 458.5,900 456.5,900 454.5,900 452.5,900 450.5,900 448.5,900 446.5,900 444.5,900 442.5,900 440.5,900 438.5,900 436.5,900 434.5,900 432.5,900 430.5,900 428.5,900 426.5,900 424.5,900 422.5,900 420.5,900 418.5,900 416.5,900 414.5,900 412.5,900 410.5,900 408.5,900 406.5,900 404.5,900 402.5,900 400.5,900 398.5,900 396.5,900 394.5,900 392.5,900 390.5,900 388.5,900 386.5,900 385.5,899.5 384.5,899 383.5,898 382.5,897.5 381.5,897 379.5,896.5 377.5,896.5 375.5,896.5 374.5,897 373.5,898 372.5,899 371.5,900 369.5,900 367.5,900 365.5,900 363.5,900 361.5,900 359.5,900 357.5,900 355.5,900 353.5,900 351.5,900 349.5,900 347.5,900 345.5,900 343.5,900 341.5,900 339.5,900 337.5,900 335.5,900 333.5,900 331.5,900 329.5,900 327.5,900 325.5,900 323.5,900 321.5,900 319.5,900 317.5,900 315.5,900 313.5,900 311.5,900 309.5,900 307.5,900 305.5,900 303.5,900 301.5,900 300.5,899 300.5,897 300.5,895 300.5,893 300.5,891 300.5,889 300.5,887 300.5,885 300.5,883 300.5,881 300.5,879 300.5,877 300.5,875 300.5,873 300.5,871 300.5,869 300.5,867 300.5,865 300.5,863 300.5,861 300.5,859 300.5,857 300.5,855 300.5,853 300.5,851 300.5,849 300.5,847 300.5,845 300.5,843 300.5,841 300.5,839 300.5,837 300.5,835 300.5,833 300.5,831 300.5,829 300.5,827 300.5,825 300.5,823 300.5,821 300.5,819 300.5,817 300.5,815 300.5,813 300.5,811 300.5,809 300.5,807 300.5,805 300.5,803 300.5,801 300.5,799 300.5,797 300.5,795 300.5,793 300.5,791 300.5,789.5 300.5,787.5 300.5,785.5 300.5,783.5 300.5,781.5 300.5,779.5 300.5,777.5 300.5,775.5 300.5,773.5 300.5,771.5 300.5,769.5 300.5,767.5 300.5,765.5 300.5,763.5 300.5,761.5 300.5,759.5 300.5,757.5 300.5,755.5 300.5,753.5 300.5,751.5 300.5,749.5 300.5,747.5 300.5,745.5 300.5,743.5 300.5,741.5 300.5,739.5 300.5,737.5 300.5,735.5 300.5,733.5 300.5,731.5 300.5,729.5 300.5,727.5 300.5,725.5 300.5,723.5 300.5,721.5 300.5,719.5 300.5,717.5 300.5,715.5 300.5,713.5 300.5,711.5 300.5,709.5 300.5,707.5 300.5,705.5 300.5,703.5 300.5,701.5 300.5,699.5 300.5,697.5 300.5,695.5 300.5,693.5 300.5,691.5 300.5,689.5 300.5,687.5 300.5,685.5 300.5,683.5 300.5,681.5ZM387.5,681.5 386.5,682 385,682.5 383.5,683.5 382.5,684.5 382,685.5 381.5,687.5 381.5,689.5 381.5,691.5 382,692.5 382.5,694.5 383,695.5 384,696.5 385,697.5 386.5,698 387.5,698.5 388.5,699 390.5,699.5 392.5,699.5 394.5,699 396.5,698.5 397.5,698 398.5,697.5 399.5,696.5 400,695.5 401,694.5 401.5,692.5 401.5,690.5 401.5,688.5 401.5,686.5 401,685.5 400.5,684.5 400,683.5 398.5,682.5 397.5,682 396.5,681.5 395.5,681 393.5,681 391.5,681 389.5,681 387.5,681.5Z" fill="#fa1100"/>
<path d="M300.5,680.5 302.5,680.5 304.5,680.5 306.5,680.5 308.5,680.5 310.5,680.5 312.5,680.5 314.5,680.5 316.5,680.5 318.5,680.5 320.5,680.5 322.5,680.5 324.5,680.5 326.5,680.5 328.5,680.5 330.5,680.5 332.5,680.5 334.5,680.5 336.5,680.5 338.5,680.5 340.5,680.5 342.5,680.5 344.5,680.5 346.5,680.5 348.5,680.5 350.5,680.5 352.5,680.5 354.5,680.5 356.5,680.5 358.5,680.5 360.5,680.5 362.5,680.5 364.5,680.5 366.5,680.5 368.5,680.5 370.5,680.5 372.5,680.5 374.5,680.5 376.5,680.5 378.5,680.5 380.5,680.5 379.5,681 378.5,681.5 377.5,682.5 376.5,683.5 376,684.5 375.5,685.5 375.5,687.5 375.5,689.5 375.5,691.5 376,692.5 376.5,694.5 377,695.5 377.5,696.5 378.5,697.5 379.5,698.5 380.5,699 381.5,699.5 382.5,700 383.5,700.5 384.5,701 386.5,701.5 388.5,701.5 390.5,702 392.5,702 394.5,701.5 396,701.5 397.5,701 398.5,700.5 399.5,700 400.5,699.5 401.5,699 402.5,698.5 403.5,697.5 404.5,696.5 405,695.5 405.5,694.5 406,693.5 406,691.5 406,689.5 406,687.5 406,685.5 405.5,684.5 404.5,682.5 403.5,681.5 402.5,680.5 404.5,680.5 406.5,680.5 408.5,680.5 410.5,680.5 412.5,680.5 414.5,680.5 416.5,680.5 418.5,680.5 420.5,680.5 422.5,680.5 424.5,680.5 426.5,680.5 428.5,680.5 430.5,680.5 432.5,680.5 434.5,680.5 436.5,680.5 438.5,680.5 440.5,680.5 442.5,680.5 444.5,680.5 446.5,680.5 448.5,680.5 450.5,680.5 452.5,680.5 454.5,680.5 456.5,680.5 458.5,680.5 460.5,680.5 462.5,680.5 464.5,680.5 466.5,680.5 468.5,680.5 470.5,680.5 472.5,680.5 474.5,680.5 476.5,680.5 478.5,680.5 480.5,680.5 482.5,680.5 484.5,680.5 486.5,680.5 488.5,680.5 490.5,680.5 492.5,680.5 494.5,680.5 496.5,680.5 498.5,680.5 500.5,680.5 502.5,680.5 504.5,680.5 506.5,680.5 508.5,680.5 510.5,680.5 512.5,680.5 514.5,680.5 516.5,680.5 518.5,680.5 520.5,680.5 520.5,682.5 520.5,684.5 520.5,686.5 520.5,688.5 520.5,690.5 520.5,692.5 520.5,694.5 520.5,696.5 520.5,698.5 520.5,700.5 520.5,702.5 520.5,704.5 520.5,706.5 520.5,708.5 520.5,710.5 520.5,712.5 520.5,714.5 520.5,716.5 520.5,718.5 520.5,720.5 520.5,722.5 520.5,724.5 520.5,726.5 520.5,728.5 520.5,730.5 520.5,732.5 520.5,734.5 520.5,736.5 520.5,738.5 520.5,740.5 520.5,742.5 520.5,744.5 520.5,746.5 520.5,748.5 520.5,750.5 520.5,752.5 520.5,754.5 520.5,756.5 520.5,758.5 520.5,760.5 520.5,762.5 520.5,764.5 520.5,766.5 520.5,768.5 520.5,770.5 520.5,772.5 520.5,774.5 520.5,776.5 520.5,778.5 520.5,780.5 520.5,782.5 520.5,784.5 520.5,786.5 520.5,788.5 520.5,790 520.5,792 520.5,794 520.5,796 520.5,798 520.5,800 520.5,802 520.5,804 520.5,806 520.5,808 520.5,810 520.5,812 520.5,814 520.5,816 520.5,818 520.5,820 520.5,822 520.5,824 520.5,826 520.5,828 520.5,830 520.5,832 520.5,834 520.5,836 520.5,838 520.5,840 520.5,842 520.5,844 520.5,846 520.5,848 520.5,850 520.5,852 520.5,854 520.5,856 520.5,858 520.5,860 520.5,862 520.5,864 520.5,866 520.5,868 520.5,870 520.5,872 520.5,874 520.5,876 520.5,878 520.5,880 520.5,882 520.5,884 520.5,886 520.5,888 520.5,890 520.5,892 520.5,894 520.5,896 520.5,898 520.5,900 518.5,900 516.5,900 514.5,900 512.5,900 510.5,900 508.5,900 506.5,900 504.5,900 502.5,900 500.5,900 498.5,900 496.5,900 494.5,900 492.5,900 490.5,900 488.5,900 486.5,900 484.5,900 482.5,900 480.5,900 478.5,900 476.5,900 474.5,900 472.5,900 470.5,900 468.5,900 466.5,900 464.5,900 462.5,900 460.5,900 458.5,900 456.5,900 454.5,900 452.5,900 450.5,900 448.5,900 446.5,900 444.5,900 442.5,900 440.5,900 438.5,900 436.5,900 434.5,900 432.5,900 430.5,900 428.5,900 426.5,900 424.5,900 422.5,900 420.5,900 418.5,900 416.5,900 414.5,900 412.5,900 410.5,900 408.5,900 406.5,900 404.5,900 402.5,900 400.5,900 398.5,900 396.5,900 394.5,900 392.5,900 390.5,900 388.5,900 387.5,899 387,898 386,897 384.5,896 383.5,895.5 381.5,895 380.5,894.5 378.5,894.5 376.5,894.5 374.5,895 373.5,895.5 372.5,896 371.5,897 370.5,898 370,899 369,900 367.5,900 365.5,900 363.5,900 361.5,900 359.5,900 357.5,900 355.5,900 353.5,900 351.5,900 349.5,900 347.5,900 345.5,900 343.5,900 341.5,900 339.5,900 337.5,900 335.5,900 333.5,900 331.5,900 329.5,900 327.5,900 325.5,900 323.5,900 321.5,900 319.5,900 317.5,900 315.5,900 313.5,900 311.5,900 309.5,900 307.5,900 305.5,900 303.5,900 301.5,900 300.5,899 300.5,897 300.5,895 300.5,893 300.5,891 300.5,889 300.5,887 300.5,885 300.5,883 300.5,881 300.5,879 300.5,877 300.5,875 300.5,873 300.5,871 300.5,869 300.5,867 300.5,865 300.5,863 300.5,861 300.5,859 300.5,857 300.5,855 300.5,853 300.5,851 300.5,849 300.5,847 300.5,845 300.5,843 300.5,841 300.5,839 300.5,837 300.5,835 300.5,833 300.5,831 300.5,829 300.5,827 300.5,825 300.5,823 300.5,821 300.5,819 300.5,817 300.5,815 300.5,813 300.5,811 300.5,809 300.5,807 300.5,805 300.5,803 300.5,801 300.5,799 300.5,797 300.5,795 300.5,793 300.5,791 300.5,789.5 300.5,787.5 300.5,785.5 300.5,783.5 300.5,781.5 300.5,779.5 300.5,777.5 300.5,775.5 300.5,773.5 300.5,771.5 300.5,769.5 300.5,767.5 300.5,765.5 300.5,763.5 300.5,761.5 300.5,759.5 300.5,757.5 300.5,755.5 300.5,753.5 300.5,751.5 300.5,749.5 300.5,747.5 300.5,745.5 300.5,743.5 300.5,741.5 300.5,739.5 300.5,737.5 300.5,735.5 300.5,733.5 300.5,731.5 300.5,729.5 300.5,727.5 300.5,725.5 300.5,723.5 300.5,721.5 300.5,719.5 300.5,717.5 300.5,715.5 300.5,713.5 300.5,711.5 300.5,709.5 300.5,707.5 300.5,705.5 300.5,703.5 300.5,701.5 300.5,699.5 300.5,697.5 300.5,695.5 300.5,693.5 300.5,691.5 300.5,689.5 300.5,687.5 300.5,685.5 300.5,683.5 300.5,681.5Z" fill="#ff2000"/>
<path d="M300.5,680.5 302.5,680.5 304.5,680.5 306.5,680.5 308.5,680.5 310.5,680.5 312.5,680.5 314.5,680.5 316.5,680.5 318.5,680.5 320.5,680.5 322.5,680.5 324.5,680.5 326.5,680.5 328.5,680.5 330.5,680.5 332.5,680.5 334.5,680.5 336.5,680.5 338.5,680.5 340.5,680.5 342.5,680.5 344.5,680.5 346.5,680.5 348.5,680.5 350.5,680.5 352.5,680.5 354.5,680.5 356.5,680.5 358.5,680.5 360.5,680.5 362.5,680.5 364.5,680.5 366.5,680.5 368.5,680.5 370.5,680.5 372.5,680.5 371.5,681.5 370.5,682.5 370,684.5 370,686.5 370,688.5 370,690.5 370,692.5 370.5,693.5 371,694.5 371.5,695.5 372,696.5 372.5,697.5 373.5,698.5 374.5,699 375.5,700 376.5,700.5 377.5,701 378.5,701.5 379.5,702 380.5,702.5 382.5,703 384.5,703 385.5,703.5 387.5,703.5 389.5,703.5 391.5,703.5 393.5,703.5 395,703.5 396.5,703 398.5,703 399.5,702.5 400.5,702 401.5,701.5 402.5,701 403.5,700.5 404.5,700 405.5,699.5 406.5,698.5 407.5,697.5 408.5,696.5 409,695.5 409.5,694.5 410,693.5 410,691.5 410,689.5 410,687.5 410,685.5 409.5,683.5 409,681.5 408,680.5 409.5,680.5 411.5,680.5 413.5,680.5 415.5,680.5 417.5,680.5 419.5,680.5 421.5,680.5 423.5,680.5 425.5,680.5 427.5,680.5 429.5,680.5 431.5,680.5 433.5,680.5 435.5,680.5 437.5,680.5 439.5,680.5 441.5,680.5 443.5,680.5 445.5,680.5 447.5,680.5 449.5,680.5 451.5,680.5 453.5,680.5 455.5,680.5 457.5,680.5 459.5,680.5 461.5,680.5 463.5,680.5 465.5,680.5 467.5,680.5 469.5,680.5 471.5,680.5 473.5,680.5 475.5,680.5 477.5,680.5 479.5,680.5 481.5,680.5 483.5,680.5 485.5,680.5 487.5,680.5 489.5,680.5 491.5,680.5 493.5,680.5 495.5,680.5 497.5,680.5 499.5,680.5 501.5,680.5 503.5,680.5 505.5,680.5 507.5,680.5 509.5,680.5 511.5,680.5 513.5,680.5 515.5,680.5 517.5,680.5 519.5,680.5 520.5,681.5 520.5,683.5 520.5,685.5 520.5,687.5 520.5,689.5 520.5,691.5 520.5,693.5 520.5,695.5 520.5,697.5 520.5,699.5 520.5,701.5 520.5,703.5 520.5,705.5 520.5,707.5 520.5,709.5 520.5,711.5 520.5,713.5 520.5,715.5 520.5,717.5 520.5,719.5 520.5,721.5 520.5,723.5 520.5,725.5 520.5,727.5 520.5,729.5 520.5,731.5 520.5,733.5 520.5,735.5 520.5,737.5 520.5,739.5 520.5,741.5 520.5,743.5 520.5,745.5 520.5,747.5 520.5,749.5 520.5,751.5 520.5,753.5 520.5,755.5 520.5,757.5 520.5,759.5 520.5,761.5 520.5,763.5 520.5,765.5 520.5,767.5 520.5,769.5 520.5,771.5 520.5,773.5 520.5,775.5 520.5,777.5 520.5,779.5 520.5,781.5 520.5,783.5 520.5,785.5 520.5,787.5 520.5,789.5 520.5,791 520.5,793 520.5,795 520.5,797 520.5,799 520.5,801 520.5,803 520.5,805 520.5,807 520.5,809 520.5,811 520.5,813 520.5,815 520.5,817 520.5,819 520.5,821 520.5,823 520.5,825 520.5,827 520.5,829 520.5,831 520.5,833 520.5,835 520.5,837 520.5,839 520.5,841 520.5,843 520.5,845 520.5,847 520.5,849 520.5,851 520.5,853 520.5,855 520.5,857 520.5,859 520.5,861 520.5,863 520.5,865 520.5,867 520.5,869 520.5,871 520.5,873 520.5,875 520.5,877 520.5,879 520.5,881 520.5,883 520.5,885 520.5,887 520.5,889 520.5,891 520.5,893 520.5,895 520.5,897 520.5,899 519.5,900 517.5,900 515.5,900 513.5,900 511.5,900 509.5,900 507.5,900 505.5,900 503.5,900 501.5,900 499.5,900 497.5,900 495.5,900 493.5,900 491.5,900 489.5,900 487.5,900 485.5,900 483.5,900 481.5,900 479.5,900 477.5,900 475.5,900 473.5,900 471.5,900 469.5,900 467.5,900 465.5,900 463.5,900 461.5,900 459.5,900 457.5,900 455.5,900 453.5,900 451.5,900 449.5,900 447.5,900 445.5,900 443.5,900 441.5,900 439.5,900 437.5,900 435.5,900 433.5,900 431.5,900 429.5,900 427.5,900 425.5,900 423.5,900 421.5,900 419.5,900 417.5,900 415.5,900 413.5,900 411.5,900 409.5,900 407.5,900 405.5,900 403.5,900 401.5,900 399.5,900 397.5,900 395.5,900 393.5,900 391.5,900 390,899 389,898 388.5,897 387.5,896 386.5,895 385.5,894.5 384.5,894 383.5,893.5 381.5,893 379.5,892.5 377.5,892.5 375.5,893 373.5,893.5 372.5,894 371.5,895 370.5,895.5 369.5,896.5 368.5,897.5 367.5,899 367,900 365.5,900 363.5,900 361.5,900 359.5,900 357.5,900 355.5,900 353.5,900 351.5,900 349.5,900 347.5,900 345.5,900 343.5,900 341.5,900 339.5,900 337.5,900 335.5,900 333.5,900 331.5,900 329.5,900 327.5,900 325.5,900 323.5,900 321.5,900 319.5,900 317.5,900 315.5,900 313.5,900 311.5,900 309.5,900 307.5,900 305.5,900 303.5,900 301.5,900 300.5,899 300.5,897 300.5,895 300.5,893 300.5,891 300.5,889 300.5,887 300.5,885 300.5,883 300.5,881 300.5,879 300.5,877 300.5,875 300.5,873 300.5,871 300.5,869 300.5,867 300.5,865 300.5,863 300.5,861 300.5,859 300.5,857 300.5,855 300.5,853 300.5,851 300.5,849 300.5,847 300.5,845 300.5,843 300.5,841 300.5,839 300.5,837 300.5,835 300.5,833 300.5,831 300.5,829 300.5,827 300.5,825 300.5,823 300.5,821 300.5,819 300.5,817 300.5,815 300.5,813 300.5,811 300.5,809 300.5,807 300.5,805 300.5,803 300.5,801 300.5,799 300.5,797 300.5,795 300.5,793 300.5,791 300.5,789.5 300.5,787.5 300.5,785.5 300.5,783.5 300.5,781.5 300.5,779.5 300.5,777.5 300.5,775.5 300.5,773.5 300.5,771.5 300.5,769.5 300.5,767.5 300.5,765.5 300.5,763.5 300.5,761.5 300.5,759.5 300.5,757.5 300.5,755.5 300.5,753.5 300.5,751.5 300.5,749.5 300.5,747.5 300.5,745.5 300.5,743.5 300.5,741.5 300.5,739.5 300.5,737.5 300.5,735.5 300.5,733.5 300.5,731.5 300.5,729.5 300.5,727.5 300.5,725.5 300.5,723.5 300.5,721.5 300.5,719.5 300.5,717.5 300.5,715.5 300.5,713.5 300.5,711.5 300.5,709.5 300.5,707.5 300.5,705.5 300.5,703.5 300.5,701.5 300.5,699.5 300.5,697.5 300.5,695.5 300.5,693.5 300.5,691.5 300.5,689.5 300.5,687.5 300.5,685.5 300.5,683.5 300.5,681.5Z" fill="#ff3900"/>
<path d="M300.5,680.5 302.5,680.5 304.5,680.5 306.5,680.5 308.5,680.5 310.5,680.5 312.5,680.5 314.5,680.5 316.5,680.5 318.5,680.5 320.5,680.5 322.5,680.5 324.5,680.5 326.5,680.5 328.5,680.5 330.5,680.5 332.5,680.5 334.5,680.5 336.5,680.5 338.5,680.5 340.5,680.5 342.5,680.5 344.5,680.5 346.5,680.5 348.5,680.5 350.5,680.5 352.5,680.5 354.5,680.5 356.5,680.5 358.5,680.5 360.5,680.5 362.5,680.5 364.5,680.5 366.5,680.5 366,681.5 365.5,682.5 365.5,684.5 365.5,686.5 365.5,688.5 365.5,690.5 365.5,692.5 366,693.5 366.5,695 367,696.5 368,697.5 368.5,698.5 369.5,699.5 370.5,700 371.5,701 372.5,701.5 373.5,702 374.5,702.5 375.5,703 376.5,703.5 378.5,704 380.5,704.5 382.5,705 384.5,705 386.5,705 388.5,705 390.5,705 392.5,705 394.5,705 396.5,705 397.5,704.5 399.5,704 401.5,703.5 402.5,703 404.5,702.5 405.5,702 406.5,701.5 407.5,701 408.5,700 409.5,699.5 410.5,698.5 411,697.5 411.5,696.5 412,695.5 412.5,694.5 412.5,692.5 413,690.5 413,688.5 413,686.5 412.5,684.5 412.5,683 412,681.5 411.5,680.5 413.5,680.5 415.5,680.5 417.5,680.5 419.5,680.5 421.5,680.5 423.5,680.5 425.5,680.5 427.5,680.5 429.5,680.5 431.5,680.5 433.5,680.5 435.5,680.5 437.5,680.5 439.5,680.5 441.5,680.5 443.5,680.5 445.5,680.5 447.5,680.5 449.5,680.5 451.5,680.5 453.5,680.5 455.5,680.5 457.5,680.5 459.5,680.5 461.5,680.5 463.5,680.5 465.5,680.5 467.5,680.5 469.5,680.5 471.5,680.5 473.5,680.5 475.5,680.5 477.5,680.5 479.5,680.5 481.5,680.5 483.5,680.5 485.5,680.5 487.5,680.5 489.5,680.5 491.5,680.5 493.5,680.5 495.5,680.5 497.5,680.5 499.5,680.5 501.5,680.5 503.5,680.5 505.5,680.5 507.5,680.5 509.5,680.5 511.5,680.5 513.5,680.5 515.5,680.5 517.5,680.5 519.5,680.5 520.5,681.5 520.5,683.5 520.5,685.5 520.5,687.5 520.5,689.5 520.5,691.5 520.5,693.5 520.5,695.5 520.5,697.5 520.5,699.5 520.5,701.5 520.5,703.5 520.5,705.5 520.5,707.5 520.5,709.5 520.5,711.5 520.5,713.5 520.5,715.5 520.5,717.5 520.5,719.5 520.5,721.5 520.5,723.5 520.5,725.5 520.5,727.5 520.5,729.5 520.5,731.5 520.5,733.5 520.5,735.5 520.5,737.5 520.5,739.5 520.5,741.5 520.5,743.5 520.5,745.5 520.5,747.5 520.5,749.5 520.5,751.5 520.5,753.5 520.5,755.5 520.5,757.5 520.5,759.5 520.5,761.5 520.5,763.5 520.5,765.5 520.5,767.5 520.5,769.5 520.5,771.5 520.5,773.5 520.5,775.5 520.5,777.5 520.5,779.5 520.5,781.5 520.5,783.5 520.5,785.5 520.5,787.5 520.5,789.5 520.5,791 520.5,793 520.5,795 520.5,797 520.5,799 520.5,801 520.5,803 520.5,805 520.5,807 520.5,809 520.5,811 520.5,813 520.5,815 520.5,817 520.5,819 520.5,821 520.5,823 520.5,825 520.5,827 520.5,829 520.5,831 520.5,833 520.5,835 520.5,837 520.5,839 520.5,841 520.5,843 520.5,845 520.5,847 520.5,849 520.5,851 520.5,853 520.5,855 520.5,857 520.5,859 520.5,861 520.5,863 520.5,865 520.5,867 520.5,869 520.5,871 520.5,873 520.5,875 520.5,877 520.5,879 520.5,881 520.5,883 520.5,885 520.5,887 520.5,889 520.5,891 520.5,893 520.5,895 520.5,897 520.5,899 519.5,900 517.5,900 515.5,900 513.5,900 511.5,900 509.5,900 507.5,900 505.5,900 503.5,900 501.5,900 499.5,900 497.5,900 495.5,900 493.5,900 491.5,900 489.5,900 487.5,900 485.5,900 483.5,900 481.5,900 479.5,900 477.5,900 475.5,900 473.5,900 471.5,900 469.5,900 467.5,900 465.5,900 463.5,900 461.5,900 459.5,900 457.5,900 455.5,900 453.5,900 451.5,900 449.5,900 447.5,900 445.5,900 443.5,900 441.5,900 439.5,900 437.5,900 435.5,900 433.5,900 431.5,900 429.5,900 427.5,900 425.5,900 423.5,900 421.5,900 419.5,900 417.5,900 415.5,900 413.5,900 411.5,900 409.5,900 407.5,900 405.5,900 403.5,900 401.5,900 399.5,900 397.5,900 395.5,900 393.5,900 392,899 391,898 390.5,897 389.5,896 389,895 387.5,894 386.5,893 385.5,892.5 384.5,892 382.5,891.5 380.5,891 378.5,891 376.5,891 374.5,891.5 373,892 371.5,893 370.5,893.5 369.5,894 368.5,895 367.5,896 366.5,897 366,898 365,899 364.5,900 362.5,900 360.5,900 358.5,900 356.5,900 354.5,900 352.5,900 350.5,900 348.5,900 346.5,900 344.5,900 342.5,900 340.5,900 338.5,900 336.5,900 334.5,900 332.5,900 330.5,900 328.5,900 326.5,900 324.5,900 322.5,900 320.5,900 318.5,900 316.5,900 314.5,900 312.5,900 310.5,900 308.5,900 306.5,900 304.5,900 302.5,900 300.5,900 300.5,898 300.5,896 300.5,894 300.5,892 300.5,890 300.5,888 300.5,886 300.5,884 300.5,882 300.5,880 300.5,878 300.5,876 300.5,874 300.5,872 300.5,870 300.5,868 300.5,866 300.5,864 300.5,862 300.5,860 300.5,858 300.5,856 300.5,854 300.5,852 300.5,850 300.5,848 300.5,846 300.5,844 300.5,842 300.5,840 300.5,838 300.5,836 300.5,834 300.5,832 300.5,830 300.5,828 300.5,826 300.5,824 300.5,822 300.5,820 300.5,818 300.5,816 300.5,814 300.5,812 300.5,810 300.5,808 300.5,806 300.5,804 300.5,802 300.5,800 300.5,798 300.5,796 300.5,794 300.5,792 300.5,790 300.5,788.5 300.5,786.5 300.5,784.5 300.5,782.5 300.5,780.5 300.5,778.5 300.5,776.5 300.5,774.5 300.5,772.5 300.5,770.5 300.5,768.5 300.5,766.5 300.5,764.5 300.5,762.5 300.5,760.5 300.5,758.5 300.5,756.5 300.5,754.5 300.5,752.5 300.5,750.5 300.5,748.5 300.5,746.5 300.5,744.5 300.5,742.5 300.5,740.5 300.5,738.5 300.5,736.5 300.5,734.5 300.5,732.5 300.5,730.5 300.5,728.5 300.5,726.5 300.5,724.5 300.5,722.5 300.5,720.5 300.5,718.5 300.5,716.5 300.5,714.5 300.5,712.5 300.5,710.5 300.5,708.5 300.5,706.5 300.5,704.5 300.5,702.5 300.5,700.5 300.5,698.5 300.5,696.5 300.5,694.5 300.5,692.5 300.5,690.5 300.5,688.5 300.5,686.5 300.5,684.5 300.5,682.5 300.5,680.5Z" fill="#ff5200"/>
<path d="M300.5,680.5 302.5,680.5 304.5,680.5 306.5,680.5 308.5,680.5 310.5,680.5 312.5,680.5 314.5,680.5 316.5,680.5 318.5,680.5 320.5,680.5 322.5,680.5 324.5,680.5 326.5,680.5 328.5,680.5 330.5,680.5 332.5,680.5 334.5,680.5 336.5,680.5 338.5,680.5 340.5,680.5 342.5,680.5 344.5,680.5 346.5,680.5 348.5,680.5 350.5,680.5 352.5,680.5 354.5,680.5 356.5,680.5 358.5,680.5 360.5,680.5 362,680.5 361.5,681.5 361.5,683.5 361,684.5 361,686.5 361,688.5 361.5,689.5 361.5,691.5 362,693.5 362.5,695.5 363,696.5 363.5,697.5 364,698.5 365,699.5 366,700.5 367.5,701.5 368.5,702.5 369.5,703 370.5,703.5 371.5,704 373,704.5 374.5,705 376.5,705.5 378.5,706 380.5,706 381.5,706.5 383.5,706.5 385.5,706.5 387.5,706.5 389.5,706.5 391.5,706.5 393.5,706.5 395.5,706.5 396.5,706 398.5,706 399.5,705.5 401.5,705 403.5,704.5 404.5,704 406.5,703.5 407.5,703 408.5,702.5 409.5,702 410.5,701 411.5,700.5 412.5,699.5 413,698.5 413.5,697.5 414,696.5 414.5,695.5 414.5,693.5 415,692.5 415,690.5 415,688.5 415,686.5 415,684.5 414.5,682.5 414,680.5 415.5,680.5 417.5,680.5 419.5,680.5 421.5,680.5 423.5,680.5 425.5,680.5 427.5,680.5 429.5,680.5 431.5,680.5 433.5,680.5 435.5,680.5 437.5,680.5 439.5,680.5 441.5,680.5 443.5,680.5 445.5,680.5 447.5,680.5 449.5,680.5 451.5,680.5 453.5,680.5 455.5,680.5 457.5,680.5 459.5,680.5 461.5,680.5 463.5,680.5 465.5,680.5 467.5,680.5 469.5,680.5 471.5,680.5 473.5,680.5 475.5,680.5 477.5,680.5 479.5,680.5 481.5,680.5 483.5,680.5 485.5,680.5 487.5,680.5 489.5,680.5 491.5,680.5 493.5,680.5 495.5,680.5 497.5,680.5 499.5,680.5 501.5,680.5 503.5,680.5 505.5,680.5 507.5,680.5 509.5,680.5 511.5,680.5 513.5,680.5 515.5,680.5 517.5,680.5 519.5,680.5 520.5,681.5 520.5,683.5 520.5,685.5 520.5,687.5 520.5,689.5 520.5,691.5 520.5,693.5 520.5,695.5 520.5,697.5 520.5,699.5 520.5,701.5 520.5,703.5 520.5,705.5 520.5,707.5 520.5,709.5 520.5,711.5 520.5,713.5 520.5,715.5 520.5,717.5 520.5,719.5 520.5,721.5 520.5,723.5 520.5,725.5 520.5,727.5 520.5,729.5 520.5,731.5 520.5,733.5 520.5,735.5 520.5,737.5 520.5,739.5 520.5,741.5 520.5,743.5 520.5,745.5 520.5,747.5 520.5,749.5 520.5,751.5 520.5,753.5 520.5,755.5 520.5,757.5 520.5,759.5 520.5,761.5 520.5,763.5 520.5,765.5 520.5,767.5 520.5,769.5 520.5,771.5 520.5,773.5 520.5,775.5 520.5,777.5 520.5,779.5 520.5,781.5 520.5,783.5 520.5,785.5 520.5,787.5 520.5,789.5 520.5,791 520.5,793 520.5,795 520.5,797 520.5,799 520.5,801 520.5,803 520.5,805 520.5,807 520.5,809 520.5,811 520.5,813 520.5,815 520.5,817 520.5,819 520.5,821 520.5,823 520.5,825 520.5,827 520.5,829 520.5,831 520.5,833 520.5,835 520.5,837 520.5,839 520.5,841 520.5,843 520.5,845 520.5,847 520.5,849 520.5,851 520.5,853 520.5,855 520.5,857 520.5,859 520.5,861 520.5,863 520.5,865 520.5,867 520.5,869 520.5,871 520.5,873 520.5,875 520.5,877 520.5,879 520.5,881 520.5,883 520.5,885 520.5,887 520.5,889 520.5,891 520.5,893 520.5,895 520.5,897 520.5,899 519.5,900 517.5,900 515.5,900 513.5,900 511.5,900 509.5,900 507.5,900 505.5,900 503.5,900 501.5,900 499.5,900 497.5,900 495.5,900 493.5,900 491.5,900 489.5,900 487.5,900 485.5,900 483.5,900 481.5,900 479.5,900 477.5,900 475.5,900 473.5,900 471.5,900 469.5,900 467.5,900 465.5,900 463.5,900 461.5,900 459.5,900 457.5,900 455.5,900 453.5,900 451.5,900 449.5,900 447.5,900 445.5,900 443.5,900 441.5,900 439.5,900 437.5,900 435.5,900 433.5,900 431.5,900 429.5,900 427.5,900 425.5,900 423.5,900 421.5,900 419.5,900 417.5,900 415.5,900 413.5,900 411.5,900 409.5,900 407.5,900 405.5,900 403.5,900 401.5,900 399.5,900 397.5,900 395.5,900 394,900 393.5,899 393,898 392.5,897 392,896 391,895 390,894 389,893 387.5,892 386.5,891.5 385.5,891 384.5,890.5 383.5,890 381.5,890 380.5,889.5 378.5,889.5 376.5,889.5 374.5,890 372.5,890.5 371.5,891 370.5,891.5 369.5,892.5 368.5,893 367.5,894 366.5,894.5 365.5,895.5 364.5,896.5 363.5,898 363,899 362.5,900 360.5,900 358.5,900 356.5,900 354.5,900 352.5,900 350.5,900 348.5,900 346.5,900 344.5,900 342.5,900 340.5,900 338.5,900 336.5,900 334.5,900 332.5,900 330.5,900 328.5,900 326.5,900 324.5,900 322.5,900 320.5,900 318.5,900 316.5,900 314.5,900 312.5,900 310.5,900 308.5,900 306.5,900 304.5,900 302.5,900 300.5,900 300.5,898 300.5,896 300.5,894 300.5,892 300.5,890 300.5,888 300.5,886 300.5,884 300.5,882 300.5,880 300.5,878 300.5,876 300.5,874 300.5,872 300.5,870 300.5,868 300.5,866 300.5,864 300.5,862 300.5,860 300.5,858 300.5,856 300.5,854 300.5,852 300.5,850 300.5,848 300.5,846 300.5,844 300.5,842 300.5,840 300.5,838 300.5,836 300.5,834 300.5,832 300.5,830 300.5,828 300.5,826 300.5,824 300.5,822 300.5,820 300.5,818 300.5,816 300.5,814 300.5,812 300.5,810 300.5,808 300.5,806 300.5,804 300.5,802 300.5,800 300.5,798 300.5,796 300.5,794 300.5,792 300.5,790 300.5,788.5 300.5,786.5 300.5,784.5 300.5,782.5 300.5,780.5 300.5,778.5 300.5,776.5 300.5,774.5 300.5,772.5 300.5,770.5 300.5,768.5 300.5,766.5 300.5,764.5 300.5,762.5 300.5,760.5 300.5,758.5 300.5,756.5 300.5,754.5 300.5,752.5 300.5,750.5 300.5,748.5 300.5,746.5 300.5,744.5 300.5,742.5 300.5,740.5 300.5,738.5 300.5,736.5 300.5,734.5 300.5,732.5 300.5,730.5 300.5,728.5 300.5,726.5 300.5,724.5 300.5,722.5 300.5,720.5 300.5,718.5 300.5,716.5 300.5,714.5 300.5,712.5 300.5,710.5 300.5,708.5 300.5,706.5 300.5,704.5 300.5,702.5 300.5,700.5 300.5,698.5 300.5,696.5 300.5,694.5 300.5,692.5 300.5,690.5 300.5,688.5 300.5,686.5 300.5,684.5 300.5,682.5 300.5,680.5Z" fill="#ff6b00"/>
<path d="M300.5,680.5 302.5,680.5 304.5,680.5 306.5,680.5 308.5,680.5 310.5,680.5 312.5,680.5 314.5,680.5 316.5,680.5 318.5,680.5 320.5,680.5 322.5,680.5 324.5,680.5 326.5,680.5 328.5,680.5 330.5,680.5 332.5,680.5 334.5,680.5 336.5,680.5 338.5,680.5 340.5,680.5 342.5,680.5 344.5,680.5 346.5,680.5 348.5,680.5 350.5,680.5 352.5,680.5 354.5,680.5 356.5,680.5 358,680.5 357.5,681.5 357.5,683.5 357.5,685.5 357.5,687.5 357.5,689.5 358,691.5 358,693.5 358.5,694.5 359,695.5 359.5,697 360.5,698.5 361,699.5 362,700.5 363,701.5 364,702.5 365.5,703.5 366.5,704 367.5,704.5 368.5,705 369.5,705.5 371.5,706 372.5,706.5 374.5,707 376.5,707 377.5,707.5 379.5,707.5 381.5,708 383.5,708 385.5,708 387.5,707.5 389.5,707.5 391.5,707.5 393.5,707.5 395.5,707.5 397.5,707 399.5,707 400.5,706.5 402.5,706 404.5,705.5 406.5,705 407.5,704.5 408.5,704 410.5,703.5 411.5,702.5 412.5,702 413.5,701 414.5,700 415.5,698.5 416,697.5 416.5,695.5 417,693.5 417,691.5 417,689.5 417,687.5 417,685.5 417,683.5 416.5,681.5 417.5,680.5 419.5,680.5 421.5,680.5 423.5,680.5 425.5,680.5 427.5,680.5 429.5,680.5 431.5,680.5 433.5,680.5 435.5,680.5 437.5,680.5 439.5,680.5 441.5,680.5 443.5,680.5 445.5,680.5 447.5,680.5 449.5,680.5 451.5,680.5 453.5,680.5 455.5,680.5 457.5,680.5 459.5,680.5 461.5,680.5 463.5,680.5 465.5,680.5 467.5,680.5 469.5,680.5 471.5,680.5 473.5,680.5 475.5,680.5 477.5,680.5 479.5,680.5 481.5,680.5 483.5,680.5 485.5,680.5 487.5,680.5 489.5,680.5 491.5,680.5 493.5,680.5 495.5,680.5 497.5,680.5 499.5,680.5 501.5,680.5 503.5,680.5 505.5,680.5 507.5,680.5 509.5,680.5 511.5,680.5 513.5,680.5 515.5,680.5 517.5,680.5 519.5,680.5 520.5,681.5 520.5,683.5 520.5,685.5 520.5,687.5 520.5,689.5 520.5,691.5 520.5,693.5 520.5,695.5 520.5,697.5 520.5,699.5 520.5,701.5 520.5,703.5 520.5,705.5 520.5,707.5 520.5,709.5 520.5,711.5 520.5,713.5 520.5,715.5 520.5,717.5 520.5,719.5 520.5,721.5 520.5,723.5 520.5,725.5 520.5,727.5 520.5,729.5 520.5,731.5 520.5,733.5 520.5,735.5 520.5,737.5 520.5,739.5 520.5,741.5 520.5,743.5 520.5,745.5 520.5,747.5 520.5,749.5 520.5,751.5 520.5,753.5 520.5,755.5 520.5,757.5 520.5,759.5 520.5,761.5 520.5,763.5 520.5,765.5 520.5,767.5 520.5,769.5 520.5,771.5 520.5,773.5 520.5,775.5 520.5,777.5 520.5,779.5 520.5,781.5 520.5,783.5 520.5,785.5 520.5,787.5 520.5,789.5 520.5,791 520.5,793 520.5,795 520.5,797 520.5,799 520.5,801 520.5,803 520.5,805 520.5,807 520.5,809 520.5,811 520.5,813 520.5,815 520.5,817 520.5,819 520.5,821 520.5,823 520.5,825 520.5,827 520.5,829 520.5,831 520.5,833 520.5,835 520.5,837 520.5,839 520.5,841 520.5,843 520.5,845 520.5,847 520.5,849 520.5,851 520.5,853 520.5,855 520.5,857 520.5,859 520.5,861 520.5,863 520.5,865 520.5,867 520.5,869 520.5,871 520.5,873 520.5,875 520.5,877 520.5,879 520.5,881 520.5,883 520.5,885 520.5,887 520.5,889 520.5,891 520.5,893 520.5,895 520.5,897 520.5,899 519.5,900 517.5,900 515.5,900 513.5,900 511.5,900 509.5,900 507.5,900 505.5,900 503.5,900 501.5,900 499.5,900 497.5,900 495.5,900 493.5,900 491.5,900 489.5,900 487.5,900 485.5,900 483.5,900 481.5,900 479.5,900 477.5,900 475.5,900 473.5,900 471.5,900 469.5,900 467.5,900 465.5,900 463.5,900 461.5,900 459.5,900 457.5,900 455.5,900 453.5,900 451.5,900 449.5,900 447.5,900 445.5,900 443.5,900 441.5,900 439.5,900 437.5,900 435.5,900 433.5,900 431.5,900 429.5,900 427.5,900 425.5,900 423.5,900 421.5,900 419.5,900 417.5,900 415.5,900 413.5,900 411.5,900 409.5,900 407.5,900 405.5,900 403.5,900 401.5,900 399.5,900 397.5,900 395.5,900 395,898 394.5,897 394,896 393,895 392,894 391,893 390,892 388.5,891 387.5,890 386.5,889.5 385.5,889 383.5,888.5 381.5,888 379.5,888 377.5,888 375.5,888 373.5,888.5 372.5,889 371.5,889.5 370.5,890 369.5,890.5 368.5,891 367.5,892 366.5,892.5 365.5,893 364.5,894 363.5,895 362.5,896 362,897 361,898 360.5,899 359.5,900 357.5,900 355.5,900 353.5,900 351.5,900 349.5,900 347.5,900 345.5,900 343.5,900 341.5,900 339.5,900 337.5,900 335.5,900 333.5,900 331.5,900 329.5,900 327.5,900 325.5,900 323.5,900 321.5,900 319.5,900 317.5,900 315.5,900 313.5,900 311.5,900 309.5,900 307.5,900 305.5,900 303.5,900 301.5,900 300.5,899 300.5,897 300.5,895 300.5,893 300.5,891 300.5,889 300.5,887 300.5,885 300.5,883 300.5,881 300.5,879 300.5,877 300.5,875 300.5,873 300.5,871 300.5,869 300.5,867 300.5,865 300.5,863 300.5,861 300.5,859 300.5,857 300.5,855 300.5,853 300.5,851 300.5,849 300.5,847 300.5,845 300.5,843 300.5,841 300.5,839 300.5,837 300.5,835 300.5,833 300.5,831 300.5,829 300.5,827 300.5,825 300.5,823 300.5,821 300.5,819 300.5,817 300.5,815 300.5,813 300.5,811 300.5,809 300.5,807 300.5,805 300.5,803 300.5,801 300.5,799 300.5,797 300.5,795 300.5,793 300.5,791 300.5,789.5 300.5,787.5 300.5,785.5 300.5,783.5 300.5,781.5 300.5,779.5 300.5,777.5 300.5,775.5 300.5,773.5 300.5,771.5 300.5,769.5 300.5,767.5 300.5,765.5 300.5,763.5 300.5,761.5 300.5,759.5 300.5,757.5 300.5,755.5 300.5,753.5 300.5,751.5 300.5,749.5 300.5,747.5 300.5,745.5 300.5,743.5 300.5,741.5 300.5,739.5 300.5,737.5 300.5,735.5 300.5,733.5 300.5,731.5 300.5,729.5 300.5,727.5 300.5,725.5 300.5,723.5 300.5,721.5 300.5,719.5 300.5,717.5 300.5,715.5 300.5,713.5 300.5,711.5 300.5,709.5 300.5,707.5 300.5,705.5 300.5,703.5 300.5,701.5 300.5,699.5 300.5,697.5 300.5,695.5 300.5,693.5 300.5,691.5 300.5,689.5 300.5,687.5 300.5,685.5 300.5,683.5 300.5,681.5Z" fill="#ff8300"/>
<path d="M300.5,680.5 302.5,680.5 304.5,680.5 306.5,680.5 308.5,680.5 310.5,680.5 312.5,680.5 314.5,680.5 316.5,680.5 318.5,680.5 320.5,680.5 322.5,680.5 324.5,680.5 326.5,680.5 328.5,680.5 330.5,680.5 332.5,680.5 334.5,680.5 336.5,680.5 338.5,680.5 340.5,680.5 342.5,680.5 344.5,680.5 346.5,680.5 348.5,680.5 350.5,680.5 352.5,680.5 354.5,680.5 354.5,682.5 354.5,684.5 354.5,686.5 354.5,688.5 354.5,690.5 354.5,692.5 355,693.5 355.5,695.5 356,697.5 356.5,698.5 357.5,699.5 358,700.5 359,701.5 360,702.5 361,703.5 362.5,704.5 363.5,705 364.5,705.5 365.5,706 366.5,706.5 368.5,707 369.5,707.5 371.5,708 373.5,708.5 375.5,708.5 376.5,709 378.5,709 380.5,709 382.5,709 384.5,709 386.5,709 388.5,709 390.5,708.5 392.5,708.5 394.5,708.5 396.5,708.5 398.5,708 400.5,708 401.5,707.5 403.5,707 405.5,706.5 407.5,706 409.5,705.5 410.5,705 411.5,704.5 412.5,704 413.5,703.5 414.5,702.5 415.5,701.5 416.5,700.5 417,699.5 417.5,698.5 418,697.5 418.5,696.5 419,694.5 419,692.5 419,690.5 419,688.5 419,686.5 419,684.5 419,682.5 418.5,680.5 420.5,680.5 422.5,680.5 424.5,680.5 426.5,680.5 428.5,680.5 430.5,680.5 432.5,680.5 434.5,680.5 436.5,680.5 438.5,680.5 440.5,680.5 442.5,680.5 444.5,680.5 446.5,680.5 448.5,680.5 450.5,680.5 452.5,680.5 454.5,680.5 456.5,680.5 458.5,680.5 460.5,680.5 462.5,680.5 464.5,680.5 466.5,680.5 468.5,680.5 470.5,680.5 472.5,680.5 474.5,680.5 476.5,680.5 478.5,680.5 480.5,680.5 482.5,680.5 484.5,680.5 486.5,680.5 488.5,680.5 490.5,680.5 492.5,680.5 494.5,680.5 496.5,680.5 498.5,680.5 500.5,680.5 502.5,680.5 504.5,680.5 506.5,680.5 508.5,680.5 510.5,680.5 512.5,680.5 514.5,680.5 516.5,680.5 518.5,680.5 520.5,680.5 520.5,682.5 520.5,684.5 520.5,686.5 520.5,688.5 520.5,690.5 520.5,692.5 520.5,694.5 520.5,696.5 520.5,698.5 520.5,700.5 520.5,702.5 520.5,704.5 520.5,706.5 520.5,708.5 520.5,710.5 520.5,712.5 520.5,714.5 520.5,716.5 520.5,718.5 520.5,720.5 520.5,722.5 520.5,724.5 520.5,726.5 520.5,728.5 520.5,730.5 520.5,732.5 520.5,734.5 520.5,736.5 520.5,738.5 520.5,740.5 520.5,742.5 520.5,744.5 520.5,746.5 520.5,748.5 520.5,750.5 520.5,752.5 520.5,754.5 520.5,756.5 520.5,758.5 520.5,760.5 520.5,762.5 520.5,764.5 520.5,766.5 520.5,768.5 520.5,770.5 520.5,772.5 520.5,774.5 520.5,776.5 520.5,778.5 520.5,780.5 520.5,782.5 520.5,784.5 520.5,786.5 520.5,788.5 520.5,790 520.5,792 520.5,794 520.5,796 520.5,798 520.5,800 520.5,802 520.5,804 520.5,806 520.5,808 520.5,810 520.5,812 520.5,814 520.5,816 520.5,818 520.5,820 520.5,822 520.5,824 520.5,826 520.5,828 520.5,830 520.5,832 520.5,834 520.5,836 520.5,838 520.5,840 520.5,842 520.5,844 520.5,846 520.5,848 520.5,850 520.5,852 520.5,854 520.5,856 520.5,858 520.5,860 520.5,862 520.5,864 520.5,866 520.5,868 520.5,870 520.5,872 520.5,874 520.5,876 520.5,878 520.5,880 520.5,882 520.5,884 520.5,886 520.5,888 520.5,890 520.5,892 520.5,894 520.5,896 520.5,898 520.5,900 518.5,900 516.5,900 514.5,900 512.5,900 510.5,900 508.5,900 506.5,900 504.5,900 502.5,900 500.5,900 498.5,900 496.5,900 494.5,900 492.5,900 490.5,900 488.5,900 486.5,900 484.5,900 482.5,900 480.5,900 478.5,900 476.5,900 474.5,900 472.5,900 470.5,900 468.5,900 466.5,900 464.5,900 462.5,900 460.5,900 458.5,900 456.5,900 454.5,900 452.5,900 450.5,900 448.5,900 446.5,900 444.5,900 442.5,900 440.5,900 438.5,900 436.5,900 434.5,900 432.5,900 430.5,900 428.5,900 426.5,900 424.5,900 422.5,900 420.5,900 418.5,900 416.5,900 414.5,900 412.5,900 410.5,900 408.5,900 406.5,900 404.5,900 402.5,900 400.5,900 398.5,900 397,899 396.5,898 396,897 395.5,896 395,895 394,894 393.5,893 392.5,892 391.5,891.5 390.5,890.5 389.5,890 388.5,889 387.5,888.5 386.5,888 385.5,887.5 383.5,887 381.5,887 380.5,886.5 378.5,886.5 376.5,886.5 374.5,887 372.5,887.5 371.5,888 370.5,888.5 369.5,889 368.5,889.5 367.5,890 366.5,890.5 365.5,891 364.5,892 363.5,892.5 362.5,893.5 361.5,894.5 360.5,896 360,897 359.5,898 359,899 358.5,900 356.5,900 354.5,900 352.5,900 350.5,900 348.5,900 346.5,900 344.5,900 342.5,900 340.5,900 338.5,900 336.5,900 334.5,900 332.5,900 330.5,900 328.5,900 326.5,900 324.5,900 322.5,900 320.5,900 318.5,900 316.5,900 314.5,900 312.5,900 310.5,900 308.5,900 306.5,900 304.5,900 302.5,900 300.5,900 300.5,898 300.5,896 300.5,894 300.5,892 300.5,890 300.5,888 300.5,886 300.5,884 300.5,882 300.5,880 300.5,878 300.5,876 300.5,874 300.5,872 300.5,870 300.5,868 300.5,866 300.5,864 300.5,862 300.5,860 300.5,858 300.5,856 300.5,854 300.5,852 300.5,850 300.5,848 300.5,846 300.5,844 300.5,842 300.5,840 300.5,838 300.5,836 300.5,834 300.5,832 300.5,830 300.5,828 300.5,826 300.5,824 300.5,822 300.5,820 300.5,818 300.5,816 300.5,814 300.5,812 300.5,810 300.5,808 300.5,806 300.5,804 300.5,802 300.5,800 300.5,798 300.5,796 300.5,794 300.5,792 300.5,790 300.5,788.5 300.5,786.5 300.5,784.5 300.5,782.5 300.5,780.5 300.5,778.5 300.5,776.5 300.5,774.5 300.5,772.5 300.5,770.5 300.5,768.5 300.5,766.5 300.5,764.5 300.5,762.5 300.5,760.5 300.5,758.5 300.5,756.5 300.5,754.5 300.5,752.5 300.5,750.5 300.5,748.5 300.5,746.5 300.5,744.5 300.5,742.5 300.5,740.5 300.5,738.5 300.5,736.5 300.5,734.5 300.5,732.5 300.5,730.5 300.5,728.5 300.5,726.5 300.5,724.5 300.5,722.5 300.5,720.5 300.5,718.5 300.5,716.5 300.5,714.5 300.5,712.5 300.5,710.5 300.5,708.5 300.5,706.5 300.5,704.5 300.5,702.5 300.5,700.5 300.5,698.5 300.5,696.5 300.5,694.5 300.5,692.5 300.5,690.5 300.5,688.5 300.5,686.5 300.5,684.5 300.5,682.5 300.5,680.5Z" fill="#ff9c00"/>
<path d="M300.5,680.5 302.5,680.5 304.5,680.5 306.5,680.5 308.5,680.5 310.5,680.5 312.5,680.5 314.5,680.5 316.5,680.5 318.5,680.5 320.5,680.5 322.5,680.5 324.5,680.5 326.5,680.5 328.5,680.5 330.5,680.5 332.5,680.5 334.5,680.5 336.5,680.5 338.5,680.5 340.5,680.5 342.5,680.5 344.5,680.5 346.5,680.5 348.5,680.5 350.5,680.5 351.5,681.5 351.5,683.5 351.5,685.5 351.5,687.5 351.5,689.5 352,691.5 352,693.5 352.5,694.5 353,696.5 353.5,698.5 354,699.5 354.5,700.5 355.5,701.5 356,702.5 357.5,703.5 358.5,704.5 359.5,705 360.5,706 361.5,706.5 362.5,707 363.5,707.5 365.5,708 366.5,708.5 368.5,709 370.5,709.5 372.5,709.5 373.5,710 375.5,710 377.5,710.5 379.5,710.5 381.5,710.5 383.5,710 385.5,710 387.5,710 389.5,710 391.5,709.5 393.5,709.5 395.5,709.5 397.5,709.5 399.5,709 401.5,709 402.5,708.5 404.5,708 406.5,707.5 408.5,707 410.5,706.5 411.5,706 412.5,705.5 414.5,704.5 415.5,704 416.5,703 417.5,702 418.5,700.5 419,699.5 419.5,698.5 420,697.5 420.5,696.5 421,694.5 421,692.5 421.5,690.5 421.5,688.5 421.5,686.5 421.5,684.5 421,682.5 421,680.5 422.5,680.5 424.5,680.5 426.5,680.5 428.5,680.5 430.5,680.5 432.5,680.5 434.5,680.5 436.5,680.5 438.5,680.5 440.5,680.5 442.5,680.5 444.5,680.5 446.5,680.5 448.5,680.5 450.5,680.5 452.5,680.5 454.5,680.5 456.5,680.5 458.5,680.5 460.5,680.5 462.5,680.5 464.5,680.5 466.5,680.5 468.5,680.5 470.5,680.5 472.5,680.5 474.5,680.5 476.5,680.5 478.5,680.5 480.5,680.5 482.5,680.5 484.5,680.5 486.5,680.5 488.5,680.5 490.5,680.5 492.5,680.5 494.5,680.5 496.5,680.5 498.5,680.5 500.5,680.5 502.5,680.5 504.5,680.5 506.5,680.5 508.5,680.5 510.5,680.5 512.5,680.5 514.5,680.5 516.5,680.5 518.5,680.5 520.5,680.5 520.5,682.5 520.5,684.5 520.5,686.5 520.5,688.5 520.5,690.5 520.5,692.5 520.5,694.5 520.5,696.5 520.5,698.5 520.5,700.5 520.5,702.5 520.5,704.5 520.5,706.5 520.5,708.5 520.5,710.5 520.5,712.5 520.5,714.5 520.5,716.5 520.5,718.5 520.5,720.5 520.5,722.5 520.5,724.5 520.5,726.5 520.5,728.5 520.5,730.5 520.5,732.5 520.5,734.5 520.5,736.5 520.5,738.5 520.5,740.5 520.5,742.5 520.5,744.5 520.5,746.5 520.5,748.5 520.5,750.5 520.5,752.5 520.5,754.5 520.5,756.5 520.5,758.5 520.5,760.5 520.5,762.5 520.5,764.5 520.5,766.5 520.5,768.5 520.5,770.5 520.5,772.5 520.5,774.5 520.5,776.5 520.5,778.5 520.5,780.5 520.5,782.5 520.5,784.5 520.5,786.5 520.5,788.5 520.5,790 520.5,792 520.5,794 520.5,796 520.5,798 520.5,800 520.5,802 520.5,804 520.5,806 520.5,808 520.5,810 520.5,812 520.5,814 520.5,816 520.5,818 520.5,820 520.5,822 520.5,824 520.5,826 520.5,828 520.5,830 520.5,832 520.5,834 520.5,836 520.5,838 520.5,840 520.5,842 520.5,844 520.5,846 520.5,848 520.5,850 520.5,852 520.5,854 520.5,856 520.5,858 520.5,860 520.5,862 520.5,864 520.5,866 520.5,868 520.5,870 520.5,872 520.5,874 520.5,876 520.5,878 520.5,880 520.5,882 520.5,884 520.5,886 520.5,888 520.5,890 520.5,892 520.5,894 520.5,896 520.5,898 520.5,900 518.5,900 516.5,900 514.5,900 512.5,900 510.5,900 508.5,900 506.5,900 504.5,900 502.5,900 500.5,900 498.5,900 496.5,900 494.5,900 492.5,900 490.5,900 488.5,900 486.5,900 484.5,900 482.5,900 480.5,900 478.5,900 476.5,900 474.5,900 472.5,900 470.5,900 468.5,900 466.5,900 464.5,900 462.5,900 460.5,900 458.5,900 456.5,900 454.5,900 452.5,900 450.5,900 448.5,900 446.5,900 444.5,900 442.5,900 440.5,900 438.5,900 436.5,900 434.5,900 432.5,900 430.5,900 428.5,900 426.5,900 424.5,900 422.5,900 420.5,900 418.5,900 416.5,900 414.5,900 412.5,900 410.5,900 408.5,900 406.5,900 404.5,900 402.5,900 400.5,900 399,900 398.5,899 398,898 397.5,896.5 396.5,895 396,894 395.5,893 394.5,892 393.5,891 392.5,890 391.5,889.5 390.5,888.5 389.5,888 388.5,887.5 387.5,887 386.5,886.5 385.5,886 383.5,885.5 381.5,885.5 380.5,885 378.5,885 376.5,885 374.5,885.5 372.5,886 371.5,886.5 370,887 368.5,887.5 367.5,888 366.5,889 365.5,889.5 364.5,890 363.5,890.5 362.5,891.5 361.5,892.5 360.5,893.5 359.5,894.5 358.5,896 358,897 357.5,898 357,899 356.5,900 354.5,900 352.5,900 350.5,900 348.5,900 346.5,900 344.5,900 342.5,900 340.5,900 338.5,900 336.5,900 334.5,900 332.5,900 330.5,900 328.5,900 326.5,900 324.5,900 322.5,900 320.5,900 318.5,900 316.5,900 314.5,900 312.5,900 310.5,900 308.5,900 306.5,900 304.5,900 302.5,900 300.5,900 300.5,898 300.5,896 300.5,894 300.5,892 300.5,890 300.5,888 300.5,886 300.5,884 300.5,882 300.5,880 300.5,878 300.5,876 300.5,874 300.5,872 300.5,870 300.5,868 300.5,866 300.5,864 300.5,862 300.5,860 300.5,858 300.5,856 300.5,854 300.5,852 300.5,850 300.5,848 300.5,846 300.5,844 300.5,842 300.5,840 300.5,838 300.5,836 300.5,834 300.5,832 300.5,830 300.5,828 300.5,826 300.5,824 300.5,822 300.5,820 300.5,818 300.5,816 300.5,814 300.5,812 300.5,810 300.5,808 300.5,806 300.5,804 300.5,802 300.5,800 300.5,798 300.5,796 300.5,794 300.5,792 300.5,790 300.5,788.5 300.5,786.5 300.5,784.5 300.5,782.5 300.5,780.5 300.5,778.5 300.5,776.5 300.5,774.5 300.5,772.5 300.5,770.5 300.5,768.5 300.5,766.5 300.5,764.5 300.5,762.5 300.5,760.5 300.5,758.5 300.5,756.5 300.5,754.5 300.5,752.5 300.5,750.5 300.5,748.5 300.5,746.5 300.5,744.5 300.5,742.5 300.5,740.5 300.5,738.5 300.5,736.5 300.5,734.5 300.5,732.5 300.5,730.5 300.5,728.5 300.5,726.5 300.5,724.5 300.5,722.5 300.5,720.5 300.5,718.5 300.5,716.5 300.5,714.5 300.5,712.5 300.5,710.5 300.5,708.5 300.5,706.5 300.5,704.5 300.5,702.5 300.5,700.5 300.5,698.5 300.5,696.5 300.5,694.5 300.5,692.5 300.5,690.5 300.5,688.5 300.5,686.5 300.5,684.5 300.5,682.5 300.5,680.5Z" fill="#ffb500"/>
<path d="M300.5,680.5 302.5,680.5 304.5,680.5 306.5,680.5 308.5,680.5 310.5,680.5 312.5,680.5 314.5,680.5 316.5,680.5 318.5,680.5 320.5,680.5 322.5,680.5 324.5,680.5 326.5,680.5 328.5,680.5 330.5,680.5 332.5,680.5 334.5,680.5 336.5,680.5 338.5,680.5 340.5,680.5 342.5,680.5 344.5,680.5 346.5,680.5 348.5,680.5 349,681.5 349,683.5 349,685.5 349,687.5 349,689.5 349,691.5 349.5,692.5 349.5,694.5 350,695.5 350.5,697.5 351,698.5 351.5,699.5 352,700.5 352.5,701.5 353,702.5 354,703.5 355,704.5 356,705.5 357.5,706.5 358.5,707 359.5,707.5 360.5,708 361.5,708.5 362.5,709 363.5,709.5 365.5,710 367.5,710.5 369.5,710.5 370.5,711 372.5,711 374.5,711.5 376.5,711.5 378.5,711.5 380.5,711.5 382.5,711.5 384.5,711.5 385.5,711 387.5,711 389.5,711 390.5,710.5 392.5,710.5 394.5,710.5 396.5,710.5 398.5,710.5 399.5,710 401.5,710 402.5,709.5 404,709.5 405.5,709 407.5,708.5 409.5,708 411.5,707.5 413.5,707 414.5,706.5 415.5,706 416.5,705.5 417.5,704.5 418.5,703.5 419.5,702.5 420.5,701.5 421,700.5 421.5,699.5 422,698.5 422.5,696.5 423,694.5 423,692.5 423.5,690.5 423.5,688.5 423.5,686.5 423.5,684.5 423,683.5 423,681.5 423.5,680.5 425.5,680.5 427.5,680.5 429.5,680.5 431.5,680.5 433.5,680.5 435.5,680.5 437.5,680.5 439.5,680.5 441.5,680.5 443.5,680.5 445.5,680.5 447.5,680.5 449.5,680.5 451.5,680.5 453.5,680.5 455.5,680.5 457.5,680.5 459.5,680.5 461.5,680.5 463.5,680.5 465.5,680.5 467.5,680.5 469.5,680.5 471.5,680.5 473.5,680.5 475.5,680.5 477.5,680.5 479.5,680.5 481.5,680.5 483.5,680.5 485.5,680.5 487.5,680.5 489.5,680.5 491.5,680.5 493.5,680.5 495.5,680.5 497.5,680.5 499.5,680.5 501.5,680.5 503.5,680.5 505.5,680.5 507.5,680.5 509.5,680.5 511.5,680.5 513.5,680.5 515.5,680.5 517.5,680.5 519.5,680.5 520.5,681.5 520.5,683.5 520.5,685.5 520.5,687.5 520.5,689.5 520.5,691.5 520.5,693.5 520.5,695.5 520.5,697.5 520.5,699.5 520.5,701.5 520.5,703.5 520.5,705.5 520.5,707.5 520.5,709.5 520.5,711.5 520.5,713.5 520.5,715.5 520.5,717.5 520.5,719.5 520.5,721.5 520.5,723.5 520.5,725.5 520.5,727.5 520.5,729.5 520.5,731.5 520.5,733.5 520.5,735.5 520.5,737.5 520.5,739.5 520.5,741.5 520.5,743.5 520.5,745.5 520.5,747.5 520.5,749.5 520.5,751.5 520.5,753.5 520.5,755.5 520.5,757.5 520.5,759.5 520.5,761.5 520.5,763.5 520.5,765.5 520.5,767.5 520.5,769.5 520.5,771.5 520.5,773.5 520.5,775.5 520.5,777.5 520.5,779.5 520.5,781.5 520.5,783.5 520.5,785.5 520.5,787.5 520.5,789.5 520.5,791 520.5,793 520.5,795 520.5,797 520.5,799 520.5,801 520.5,803 520.5,805 520.5,807 520.5,809 520.5,811 520.5,813 520.5,815 520.5,817 520.5,819 520.5,821 520.5,823 520.5,825 520.5,827 520.5,829 520.5,831 520.5,833 520.5,835 520.5,837 520.5,839 520.5,841 520.5,843 520.5,845 520.5,847 520.5,849 520.5,851 520.5,853 520.5,855 520.5,857 520.5,859 520.5,861 520.5,863 520.5,865 520.5,867 520.5,869 520.5,871 520.5,873 520.5,875 520.5,877 520.5,879 520.5,881 520.5,883 520.5,885 520.5,887 520.5,889 520.5,891 520.5,893 520.5,895 520.5,897 520.5,899 519.5,900 517.5,900 515.5,900 513.5,900 511.5,900 509.5,900 507.5,900 505.5,900 503.5,900 501.5,900 499.5,900 497.5,900 495.5,900 493.5,900 491.5,900 489.5,900 487.5,900 485.5,900 483.5,900 481.5,900 479.5,900 477.5,900 475.5,900 473.5,900 471.5,900 469.5,900 467.5,900 465.5,900 463.5,900 461.5,900 459.5,900 457.5,900 455.5,900 453.5,900 451.5,900 449.5,900 447.5,900 445.5,900 443.5,900 441.5,900 439.5,900 437.5,900 435.5,900 433.5,900 431.5,900 429.5,900 427.5,900 425.5,900 423.5,900 421.5,900 419.5,900 417.5,900 415.5,900 413.5,900 411.5,900 409.5,900 407.5,900 405.5,900 403.5,900 401.5,900 400,899 399.5,897 399,896 398.5,895 398,894 397,893 396.5,892 395.5,891 394.5,890 393.5,889 392.5,888.5 391.5,887.5 390.5,887 389.5,886.5 388.5,886 387.5,885.5 386.5,885 385.5,884.5 383.5,884 381.5,884 380.5,883.5 378.5,883.5 376.5,883.5 374.5,884 372.5,884.5 371.5,885 369.5,885.5 368.5,886 367.5,886.5 366.5,887 365.5,887.5 364.5,888 363.5,888.5 362.5,889.5 361.5,890 360.5,891 359.5,892 358.5,893 358,894 357,895 356.5,896 356,897 355.5,898 355,899 354.5,900 352.5,900 350.5,900 348.5,900 346.5,900 344.5,900 342.5,900 340.5,900 338.5,900 336.5,900 334.5,900 332.5,900 330.5,900 328.5,900 326.5,900 324.5,900 322.5,900 320.5,900 318.5,900 316.5,900 314.5,900 312.5,900 310.5,900 308.5,900 306.5,900 304.5,900 302.5,900 300.5,900 300.5,898 300.5,896 300.5,894 300.5,892 300.5,890 300.5,888 300.5,886 300.5,884 300.5,882 300.5,880 300.5,878 300.5,876 300.5,874 300.5,872 300.5,870 300.5,868 300.5,866 300.5,864 300.5,862 300.5,860 300.5,858 300.5,856 300.5,854 300.5,852 300.5,850 300.5,848 300.5,846 300.5,844 300.5,842 300.5,840 300.5,838 300.5,836 300.5,834 300.5,832 300.5,830 300.5,828 300.5,826 300.5,824 300.5,822 300.5,820 300.5,818 300.5,816 300.5,814 300.5,812 300.5,810 300.5,808 300.5,806 300.5,804 300.5,802 300.5,800 300.5,798 300.5,796 300.5,794 300.5,792 300.5,790 300.5,788.5 300.5,786.5 300.5,784.5 300.5,782.5 300.5,780.5 300.5,778.5 300.5,776.5 300.5,774.5 300.5,772.5 300.5,770.5 300.5,768.5 300.5,766.5 300.5,764.5 300.5,762.5 300.5,760.5 300.5,758.5 300.5,756.5 300.5,754.5 300.5,752.5 300.5,750.5 300.5,748.5 300.5,746.5 300.5,744.5 300.5,742.5 300.5,740.5 300.5,738.5 300.5,736.5 300.5,734.5 300.5,732.5 300.5,730.5 300.5,728.5 300.5,726.5 300.5,724.5 300.5,722.5 300.5,720.5 300.5,718.5 300.5,716.5 300.5,714.5 300.5,712.5 300.5,710.5 300.5,708.5 300.5,706.5 300.5,704.5 300.5,702.5 300.5,700.5 300.5,698.5 300.5,696.5 300.5,694.5 300.5,692.5 300.5,690.5 300.5,688.5 300.5,686.5 300.5,684.5 300.5,682.5 300.5,680.5ZM506.5,771 505.5,771.5 504.5,772 503.5,772.5 502.5,773 501.5,774 500.5,775.5 500,776.5 499,777.5 498.5,778.5 498,779.5 497.5,781 497,782.5 497,784.5 497,786.5 497,788.5 497.5,789.5 498.5,791 499.5,791.5 500.5,792 502.5,792 503.5,791.5 504.5,791 505.5,790 506.5,789.5 507.5,788.5 508,787.5 509,786.5 509.5,785.5 510,784.5 510.5,783.5 511,782.5 511.5,780.5 511.5,778.5 512,777.5 511.5,776.5 511.5,774.5 511,773.5 510.5,772.5 509.5,771.5 508.5,771 506.5,771Z" fill="#ffce00"/>
<path d="M300.5,680.5 302.5,680.5 304.5,680.5 306.5,680.5 308.5,680.5 310.5,680.5 312.5,680.5 314.5,680.5 316.5,680.5 318.5,680.5 320.5,680.5 322.5,680.5 324.5,680.5 326.5,680.5 328.5,680.5 330.5,680.5 332.5,680.5 334.5,680.5 336.5,680.5 338.5,680.5 340.5,680.5 342.5,680.5 344.5,680.5 346.5,680.5 346.5,682.5 346.5,684.5 346.5,686.5 346.5,688.5 346.5,690.5 347,691.5 347,693.5 347.5,695.5 348,697.5 348.5,698.5 349,700.5 349.5,701.5 350.5,702.5 351,703.5 352,704.5 352.5,705.5 353.5,706 354.5,707 355.5,707.5 356.5,708.5 357.5,709 358.5,709.5 359.5,710 361.5,710.5 362.5,711 364.5,711.5 366.5,711.5 367.5,712 369.5,712 370.5,712.5 372,712.5 373.5,712.5 375.5,712.5 376.5,713 378.5,713 379.5,712.5 381.5,712.5 383.5,712.5 385.5,712 387.5,712 389.5,712 390.5,711.5 392.5,711.5 394.5,711.5 396.5,711.5 398.5,711.5 399.5,711 401.5,711 403.5,710.5 405.5,710 407.5,710 408.5,709.5 410.5,709 412.5,708.5 414.5,708 415.5,707.5 416.5,707 417.5,706.5 418.5,706 419.5,705 420.5,704 421.5,703 422.5,701.5 423,700.5 423.5,699.5 424,698.5 424.5,696.5 425,694.5 425,692.5 425,690.5 425,688.5 425,686.5 425,684.5 425,682.5 425,680.5 426.5,680.5 428.5,680.5 430.5,680.5 432.5,680.5 434.5,680.5 436.5,680.5 438.5,680.5 440.5,680.5 442.5,680.5 444.5,680.5 446.5,680.5 448.5,680.5 450.5,680.5 452.5,680.5 454.5,680.5 456.5,680.5 458.5,680.5 460.5,680.5 462.5,680.5 464.5,680.5 466.5,680.5 468.5,680.5 470.5,680.5 472.5,680.5 474.5,680.5 476.5,680.5 478.5,680.5 480.5,680.5 482.5,680.5 484.5,680.5 486.5,680.5 488.5,680.5 490.5,680.5 492.5,680.5 494.5,680.5 496.5,680.5 498.5,680.5 500.5,680.5 502.5,680.5 504.5,680.5 506.5,680.5 508.5,680.5 510.5,680.5 512.5,680.5 514.5,680.5 516.5,680.5 518.5,680.5 520.5,680.5 520.5,682.5 520.5,684.5 520.5,686.5 520.5,688.5 520.5,690.5 520.5,692.5 520.5,694.5 520.5,696.5 520.5,698.5 520.5,700.5 520.5,702.5 520.5,704.5 520.5,706.5 520.5,708.5 520.5,710.5 520.5,712.5 520.5,714.5 520.5,716.5 520.5,718.5 520.5,720.5 520.5,722.5 520.5,724.5 520.5,726.5 520.5,728.5 520.5,730.5 520.5,732.5 520.5,734.5 520.5,736.5 520.5,738.5 520.5,740.5 520.5,742.5 520.5,744.5 520.5,746.5 520.5,748.5 520.5,750.5 520.5,752.5 520.5,754.5 520.5,756.5 520.5,758.5 520.5,760.5 520.5,762.5 520.5,764.5 520.5,766.5 520.5,768.5 520.5,770.5 520.5,772.5 520.5,774.5 520.5,776.5 520.5,778.5 520.5,780.5 520.5,782.5 520.5,784.5 520.5,786.5 520.5,788.5 520.5,790 520.5,792 520.5,794 520.5,796 520.5,798 520.5,800 520.5,802 520.5,804 520.5,806 520.5,808 520.5,810 520.5,812 520.5,814 520.5,816 520.5,818 520.5,820 520.5,822 520.5,824 520.5,826 520.5,828 520.5,830 520.5,832 520.5,834 520.5,836 520.5,838 520.5,840 520.5,842 520.5,844 520.5,846 520.5,848 520.5,850 520.5,852 520.5,854 520.5,856 520.5,858 520.5,860 520.5,862 520.5,864 520.5,866 520.5,868 520.5,870 520.5,872 520.5,874 520.5,876 520.5,878 520.5,880 520.5,882 520.5,884 520.5,886 520.5,888 520.5,890 520.5,892 520.5,894 520.5,896 520.5,898 520.5,900 518.5,900 516.5,900 514.5,900 512.5,900 510.5,900 508.5,900 506.5,900 504.5,900 502.5,900 500.5,900 498.5,900 496.5,900 494.5,900 492.5,900 490.5,900 488.5,900 486.5,900 484.5,900 482.5,900 480.5,900 478.5,900 476.5,900 474.5,900 472.5,900 470.5,900 468.5,900 466.5,900 464.5,900 462.5,900 460.5,900 458.5,900 456.5,900 454.5,900 452.5,900 450.5,900 448.5,900 446.5,900 444.5,900 442.5,900 440.5,900 438.5,900 436.5,900 434.5,900 432.5,900 430.5,900 428.5,900 426.5,900 424.5,900 422.5,900 420.5,900 418.5,900 416.5,900 414.5,900 412.5,900 410.5,900 408.5,900 406.5,900 404.5,900 402.5,900 402,899 401.5,898 401,897 400.5,896 400,895 399.5,894 399,893 398,892 397.5,891 396.5,890 395.5,889 394.5,888 393.5,887.5 392.5,886.5 391.5,886 390.5,885.5 389.5,885 388.5,884.5 387.5,884 386.5,883.5 385.5,883 383.5,883 382.5,882.5 380.5,882.5 379.5,882 377.5,882 375.5,882.5 373.5,882.5 372.5,883 371.5,883.5 369.5,884 368.5,884.5 367.5,885 366.5,885.5 365.5,886 364.5,886.5 363.5,887 362.5,887.5 361.5,888 360.5,889 359.5,890 358.5,890.5 357.5,892 356.5,893 355.5,894 355,895 354,896 353.5,897 353,898 352.5,899 352,900 350.5,900 348.5,900 346.5,900 344.5,900 342.5,900 340.5,900 338.5,900 336.5,900 334.5,900 332.5,900 330.5,900 328.5,900 326.5,900 324.5,900 322.5,900 320.5,900 318.5,900 316.5,900 314.5,900 312.5,900 310.5,900 308.5,900 306.5,900 304.5,900 302.5,900 300.5,900 300.5,898 300.5,896 300.5,894 300.5,892 300.5,890 300.5,888 300.5,886 300.5,884 300.5,882 300.5,880 300.5,878 300.5,876 300.5,874 300.5,872 300.5,870 300.5,868 300.5,866 300.5,864 300.5,862 300.5,860 300.5,858 300.5,856 300.5,854 300.5,852 300.5,850 300.5,848 300.5,846 300.5,844 300.5,842 300.5,840 300.5,838 300.5,836 300.5,834 300.5,832 300.5,830 300.5,828 300.5,826 300.5,824 300.5,822 300.5,820 300.5,818 300.5,816 300.5,814 300.5,812 300.5,810 300.5,808 300.5,806 300.5,804 300.5,802 300.5,800 300.5,798 300.5,796 300.5,794 300.5,792 300.5,790 300.5,788.5 300.5,786.5 300.5,784.5 300.5,782.5 300.5,780.5 300.5,778.5 300.5,776.5 300.5,774.5 300.5,772.5 300.5,770.5 300.5,768.5 300.5,766.5 300.5,764.5 300.5,762.5 300.5,760.5 300.5,758.5 300.5,756.5 300.5,754.5 300.5,752.5 300.5,750.5 300.5,748.5 300.5,746.5 300.5,744.5 300.5,742.5 300.5,740.5 300.5,738.5 300.5,736.5 300.5,734.5 300.5,732.5 300.5,730.5 300.5,728.5 300.5,726.5 300.5,724.5 300.5,722.5 300.5,720.5 300.5,718.5 300.5,716.5 300.5,714.5 300.5,712.5 300.5,710.5 300.5,708.5 300.5,706.5 300.5,704.5 300.5,702.5 300.5,700.5 300.5,698.5 300.5,696.5 300.5,694.5 300.5,692.5 300.5,690.5 300.5,688.5 300.5,686.5 300.5,684.5 300.5,682.5 300.5,680.5ZM505.5,767 504.5,767.5 503.5,768 502.5,769 501.5,769.5 501,770.5 500,771.5 499,772.5 498.5,773.5 497.5,774.5 497,775.5 496.5,776.5 496,777.5 495.5,778.5 495,779.5 494.5,780.5 494,782.5 494,784.5 493.5,785.5 493.5,787 493.5,788.5 493.5,790 494,791 494.5,793 495,794 495.5,795 496.5,796 497.5,796.5 498.5,797 500.5,797 501.5,796.5 502.5,796 504.5,795 505.5,794.5 506.5,793.5 507.5,792.5 508.5,791.5 509.5,790.5 510,789.5 511,788.5 511.5,787.5 512,786.5 512.5,785.5 513,784.5 513.5,783.5 514,781.5 514.5,780.5 514.5,778.5 515,777.5 515,775.5 515,773.5 514.5,772.5 514,770.5 513.5,769.5 513,768.5 511.5,767.5 510.5,767 509.5,766.5 507.5,766.5 506.5,767Z" fill="#ffe600"/>
<path d="M300.5,680.5 302.5,680.5 304.5,680.5 306.5,680.5 308.5,680.5 310.5,680.5 312.5,680.5 314.5,680.5 316.5,680.5 318.5,680.5 320.5,680.5 322.5,680.5 324.5,680.5 326.5,680.5 328.5,680.5 330.5,680.5 332.5,680.5 334.5,680.5 336.5,680.5 338.5,680.5 340.5,680.5 342.5,680.5 344,680.5 344,682.5 344,684.5 344,686.5 344,688.5 344.5,690.5 344.5,692.5 345,694.5 345,696.5 345.5,697.5 346,698.5 346.5,700 347,701.5 347.5,702.5 348.5,703.5 349,704.5 350,705.5 351,706.5 352,707.5 353,708.5 354.5,709.5 355.5,710 356.5,710.5 357.5,711 358.5,711.5 360.5,712 361.5,712.5 363.5,712.5 364.5,713 366.5,713 367.5,713.5 369.5,713.5 371.5,713.5 372.5,714 374.5,714 376.5,714 378.5,714 380.5,714 381.5,713.5 383.5,713.5 385.5,713 387.5,713 389.5,712.5 391.5,712.5 393.5,712.5 395.5,712.5 397.5,712.5 399.5,712 401.5,712 403.5,711.5 405.5,711.5 406.5,711 408.5,710.5 410,710.5 411.5,710 413.5,709.5 415.5,709 417.5,708.5 418.5,708 419.5,707 420.5,706.5 421.5,705.5 422.5,704.5 423.5,703.5 424,702.5 424.5,701.5 425,700.5 425.5,699.5 426,698.5 426.5,697.5 426.5,695.5 427,694.5 427,692.5 427.5,690.5 427.5,688.5 427.5,686.5 427.5,684.5 427,682.5 427,680.5 428.5,680.5 430.5,680.5 432.5,680.5 434.5,680.5 436.5,680.5 438.5,680.5 440.5,680.5 442.5,680.5 444.5,680.5 446.5,680.5 448.5,680.5 450.5,680.5 452.5,680.5 454.5,680.5 456.5,680.5 458.5,680.5 460.5,680.5 462.5,680.5 464.5,680.5 466.5,680.5 468.5,680.5 470.5,680.5 472.5,680.5 474.5,680.5 476.5,680.5 478.5,680.5 480.5,680.5 482.5,680.5 484.5,680.5 486.5,680.5 488.5,680.5 490.5,680.5 492.5,680.5 494.5,680.5 496.5,680.5 498.5,680.5 500.5,680.5 502.5,680.5 504.5,680.5 506.5,680.5 508.5,680.5 510.5,680.5 512.5,680.5 514.5,680.5 516.5,680.5 518.5,680.5 520.5,680.5 520.5,682.5 520.5,684.5 520.5,686.5 520.5,688.5 520.5,690.5 520.5,692.5 520.5,694.5 520.5,696.5 520.5,698.5 520.5,700.5 520.5,702.5 520.5,704.5 520.5,706.5 520.5,708.5 520.5,710.5 520.5,712.5 520.5,714.5 520.5,716.5 520.5,718.5 520.5,720.5 520.5,722.5 520.5,724.5 520.5,726.5 520.5,728.5 520.5,730.5 520.5,732.5 520.5,734.5 520.5,736.5 520.5,738.5 520.5,740.5 520.5,742.5 520.5,744.5 520.5,746.5 520.5,748.5 520.5,750.5 520.5,752.5 520.5,754.5 520.5,756.5 520.5,758.5 520.5,760.5 520.5,762.5 520.5,764.5 520.5,766.5 520.5,768.5 520.5,770.5 520.5,772.5 520.5,774.5 520.5,776.5 520.5,778.5 520.5,780.5 520.5,782.5 520.5,784.5 520.5,786.5 520.5,788.5 520.5,790 520.5,792 520.5,794 520.5,796 520.5,798 520.5,800 520.5,802 520.5,804 520.5,806 520.5,808 520.5,810 520.5,812 520.5,814 520.5,816 520.5,818 520.5,820 520.5,822 520.5,824 520.5,826 520.5,828 520.5,830 520.5,832 520.5,834 520.5,836 520.5,838 520.5,840 520.5,842 520.5,844 520.5,846 520.5,848 520.5,850 520.5,852 520.5,854 520.5,856 520.5,858 520.5,860 520.5,862 520.5,864 520.5,866 520.5,868 520.5,870 520.5,872 520.5,874 520.5,876 520.5,878 520.5,880 520.5,882 520.5,884 520.5,886 520.5,888 520.5,890 520.5,892 520.5,894 520.5,896 520.5,898 520.5,900 518.5,900 516.5,900 514.5,900 512.5,900 510.5,900 508.5,900 506.5,900 504.5,900 502.5,900 500.5,900 498.5,900 496.5,900 494.5,900 492.5,900 490.5,900 488.5,900 486.5,900 484.5,900 482.5,900 480.5,900 478.5,900 476.5,900 474.5,900 472.5,900 470.5,900 468.5,900 466.5,900 464.5,900 462.5,900 460.5,900 458.5,900 456.5,900 454.5,900 452.5,900 450.5,900 448.5,900 446.5,900 444.5,900 442.5,900 440.5,900 438.5,900 436.5,900 434.5,900 432.5,900 430.5,900 428.5,900 426.5,900 424.5,900 422.5,900 420.5,900 418.5,900 416.5,900 414.5,900 412.5,900 410.5,900 408.5,900 406.5,900 404.5,900 403.5,899.5 403,898 402.5,897 402,895 401.5,894 400.5,893 400,892 399.5,891 398.5,890 397.5,889 396.5,888 395.5,887 394.5,886 393.5,885.5 392.5,885 391.5,884 390.5,883.5 389.5,883 387.5,882.5 386.5,882 385.5,881.5 383.5,881.5 382.5,881 380.5,881 378.5,880.5 376.5,880.5 375.5,881 374,881 372.5,881.5 371.5,882 369.5,882.5 368.5,883 367.5,883.5 366,884 364.5,884.5 363.5,885 362.5,885.5 361.5,886.5 360.5,887 359.5,887.5 358.5,888.5 357.5,889.5 356.5,890.5 355.5,891.5 354.5,892.5 353.5,893.5 352.5,895 352,896 351,897 350.5,898 350,899 349.5,900 347.5,900 345.5,900 343.5,900 341.5,900 339.5,900 337.5,900 335.5,900 333.5,900 331.5,900 329.5,900 327.5,900 325.5,900 323.5,900 321.5,900 319.5,900 317.5,900 315.5,900 313.5,900 311.5,900 309.5,900 307.5,900 305.5,900 303.5,900 301.5,900 300.5,899 300.5,897 300.5,895 300.5,893 300.5,891 300.5,889 300.5,887 300.5,885 300.5,883 300.5,881 300.5,879 300.5,877 300.5,875 300.5,873 300.5,871 300.5,869 300.5,867 300.5,865 300.5,863 300.5,861 300.5,859 300.5,857 300.5,855 300.5,853 300.5,851 300.5,849 300.5,847 300.5,845 300.5,843 300.5,841 300.5,839 300.5,837 300.5,835 300.5,833 300.5,831 300.5,829 300.5,827 300.5,825 300.5,823 300.5,821 300.5,819 300.5,817 300.5,815 300.5,813 300.5,811 300.5,809 300.5,807 300.5,805 300.5,803 300.5,801 300.5,799 300.5,797 300.5,795 300.5,793 300.5,791 300.5,789.5 300.5,787.5 300.5,785.5 300.5,783.5 300.5,781.5 300.5,779.5 300.5,777.5 300.5,775.5 300.5,773.5 300.5,771.5 300.5,769.5 300.5,767.5 300.5,765.5 300.5,763.5 300.5,761.5 300.5,759.5 300.5,757.5 300.5,755.5 300.5,753.5 300.5,751.5 300.5,749.5 300.5,747.5 300.5,745.5 300.5,743.5 300.5,741.5 300.5,739.5 300.5,737.5 300.5,735.5 300.5,733.5 300.5,731.5 300.5,729.5 300.5,727.5 300.5,725.5 300.5,723.5 300.5,721.5 300.5,719.5 300.5,717.5 300.5,715.5 300.5,713.5 300.5,711.5 300.5,709.5 300.5,707.5 300.5,705.5 300.5,703.5 300.5,701.5 300.5,699.5 300.5,697.5 300.5,695.5 300.5,693.5 300.5,691.5 300.5,689.5 300.5,687.5 300.5,685.5 300.5,683.5 300.5,681.5ZM507.5,763 506.5,763.5 505.5,764 504.5,764.5 503.5,765 502.5,765.5 501.5,766 500.5,767 499.5,768 498.5,769 497.5,770.5 496.5,771.5 496,772.5 495.5,773.5 495,774.5 494.5,775.5 494,776.5 493.5,777.5 493,778.5 492.5,779.5 492,780.5 491.5,782.5 491,784.5 491,786.5 491,788.5 491,790 491,792 491,794 491.5,795 492,796 492.5,798 493.5,799 494.5,800 495.5,801 497.5,801.5 499,801 500.5,801 501.5,800.5 502.5,800 503.5,799.5 504.5,798.5 505.5,798 506.5,797 507.5,796 508.5,795 509.5,794 510,793 511,792 511.5,791 512.5,790 513.5,788.5 514,787.5 514.5,786.5 515,785.5 515.5,784.5 516,782.5 516.5,781.5 517,779.5 517.5,777.5 517.5,775.5 517.5,773.5 517.5,772 517.5,770.5 517,769.5 516.5,768.5 516,766.5 515,765.5 514.5,764.5 513.5,764 512.5,763.5 511.5,763 509.5,763 507.5,763Z" fill="#ffff00"/>
<path d="M300.5,680.5 302.5,680.5 304.5,680.5 306.5,680.5 308.5,680.5 310.5,680.5 312.5,680.5 314.5,680.5 316.5,680.5 318.5,680.5 320.5,680.5 322.5,680.5 324.5,680.5 326.5,680.5 328.5,680.5 330.5,680.5 332.5,680.5 334.5,680.5 336.5,680.5 338.5,680.5 340.5,680.5 341.5,681.5 341.5,683.5 341.5,685.5 341.5,687.5 342,688.5 342,690.5 342,692.5 342.5,694.5 343,696.5 343.5,698.5 344,699.5 344.5,701 345,702.5 346,703.5 346.5,704.5 347,705.5 348,706.5 349,707.5 350,708.5 351,709.5 352.5,710.5 353.5,711 354.5,711.5 355.5,712 356.5,712.5 357.5,713 359.5,713.5 361.5,714 363.5,714.5 365.5,714.5 367.5,714.5 368.5,715 370.5,715 372.5,715 374.5,715 376.5,715 378.5,715 380.5,715 381.5,714.5 383.5,714.5 385.5,714 387.5,714 388.5,713.5 390.5,713.5 392.5,713.5 394.5,713.5 396.5,713.5 398.5,713 400.5,713 402.5,713 403.5,712.5 405,712.5 406.5,712 408.5,712 409.5,711.5 411,711.5 412.5,711 414.5,711 415.5,710.5 417.5,710 418.5,709.5 419.5,709 420.5,708.5 421.5,708 422.5,707 423.5,706 424.5,705 425.5,704 426.5,702.5 427,701.5 427.5,700.5 428,699.5 428.5,698.5 429,696.5 429,694.5 429.5,693.5 429.5,691.5 429.5,689.5 429.5,687.5 429.5,685.5 429.5,683.5 429.5,681.5 430.5,680.5 432.5,680.5 434.5,680.5 436.5,680.5 438.5,680.5 440.5,680.5 442.5,680.5 444.5,680.5 446.5,680.5 448.5,680.5 450.5,680.5 452.5,680.5 454.5,680.5 456.5,680.5 458.5,680.5 460.5,680.5 462.5,680.5 464.5,680.5 466.5,680.5 468.5,680.5 470.5,680.5 472.5,680.5 474.5,680.5 476.5,680.5 478.5,680.5 480.5,680.5 482.5,680.5 484.5,680.5 486.5,680.5 488.5,680.5 490.5,680.5 492.5,680.5 494.5,680.5 496.5,680.5 498.5,680.5 500.5,680.5 502.5,680.5 504.5,680.5 506.5,680.5 508.5,680.5 510.5,680.5 512.5,680.5 514.5,680.5 516.5,680.5 518.5,680.5 520.5,680.5 520.5,682.5 520.5,684.5 520.5,686.5 520.5,688.5 520.5,690.5 520.5,692.5 520.5,694.5 520.5,696.5 520.5,698.5 520.5,700.5 520.5,702.5 520.5,704.5 520.5,706.5 520.5,708.5 520.5,710.5 520.5,712.5 520.5,714.5 520.5,716.5 520.5,718.5 520.5,720.5 520.5,722.5 520.5,724.5 520.5,726.5 520.5,728.5 520.5,730.5 520.5,732.5 520.5,734.5 520.5,736.5 520.5,738.5 520.5,740.5 520.5,742.5 520.5,744.5 520.5,746.5 520.5,748.5 520.5,750.5 520.5,752.5 520.5,754.5 520.5,756.5 520.5,758.5 520.5,760.5 520.5,762.5 520.5,764.5 520.5,766.5 520.5,768.5 520.5,770.5 520.5,772.5 520.5,774.5 520.5,776.5 520.5,778.5 520.5,780.5 520.5,782.5 520.5,784.5 520.5,786.5 520.5,788.5 520.5,790 520.5,792 520.5,794 520.5,796 520.5,798 520.5,800 520.5,802 520.5,804 520.5,806 520.5,808 520.5,810 520.5,812 520.5,814 520.5,816 520.5,818 520.5,820 520.5,822 520.5,824 520.5,826 520.5,828 520.5,830 520.5,832 520.5,834 520.5,836 520.5,838 520.5,840 520.5,842 520.5,844 520.5,846 520.5,848 520.5,850 520.5,852 520.5,854 520.5,856 520.5,858 520.5,860 520.5,862 520.5,864 520.5,866 520.5,868 520.5,870 520.5,872 520.5,874 520.5,876 520.5,878 520.5,880 520.5,882 520.5,884 520.5,886 520.5,888 520.5,890 520.5,892 520.5,894 520.5,896 520.5,898 520.5,900 518.5,900 516.5,900 514.5,900 512.5,900 510.5,900 508.5,900 506.5,900 504.5,900 502.5,900 500.5,900 498.5,900 496.5,900 494.5,900 492.5,900 490.5,900 488.5,900 486.5,900 484.5,900 482.5,900 480.5,900 478.5,900 476.5,900 474.5,900 472.5,900 470.5,900 468.5,900 466.5,900 464.5,900 462.5,900 460.5,900 458.5,900 456.5,900 454.5,900 452.5,900 450.5,900 448.5,900 446.5,900 444.5,900 442.5,900 440.5,900 438.5,900 436.5,900 434.5,900 432.5,900 430.5,900 428.5,900 426.5,900 424.5,900 422.5,900 420.5,900 418.5,900 416.5,900 414.5,900 412.5,900 410.5,900 408.5,900 406.5,900 405,900 404.5,898 404,897 403.5,895 403,894 402.5,893 402,892 401,891 400.5,890 399.5,889 398.5,888 397.5,887 396.5,886 395.5,885 394.5,884.5 393.5,883.5 392.5,883 391.5,882.5 390.5,882 389.5,881.5 388.5,881 386.5,880.5 385.5,880 383.5,880 382.5,879.5 380.5,879.5 378.5,879 376.5,879.5 374.5,879.5 372.5,880 370.5,880.5 369.5,881 368.5,881.5 366.5,882 365.5,882.5 364.5,883 363.5,883.5 362.5,884 361.5,884.5 360.5,885 359.5,885.5 358.5,886.5 357.5,887 356.5,888 355.5,889 354.5,890 353.5,891 352.5,892 351.5,893 350.5,894 350,895 349,896 348.5,897 348,898 347.5,899 347,900 345.5,900 343.5,900 341.5,900 339.5,900 337.5,900 335.5,900 333.5,900 331.5,900 329.5,900 327.5,900 325.5,900 323.5,900 321.5,900 319.5,900 317.5,900 315.5,900 313.5,900 311.5,900 309.5,900 307.5,900 305.5,900 303.5,900 301.5,900 300.5,899 300.5,897 300.5,895 300.5,893 300.5,891 300.5,889 300.5,887 300.5,885 300.5,883 300.5,881 300.5,879 300.5,877 300.5,875 300.5,873 300.5,871 300.5,869 300.5,867 300.5,865 300.5,863 300.5,861 300.5,859 300.5,857 300.5,855 300.5,853 300.5,851 300.5,849 300.5,847 300.5,845 300.5,843 300.5,841 300.5,839 300.5,837 300.5,835 300.5,833 300.5,831 300.5,829 300.5,827 300.5,825 300.5,823 300.5,821 300.5,819 300.5,817 300.5,815 300.5,813 300.5,811 300.5,809 300.5,807 300.5,805 300.5,803 300.5,801 300.5,799 300.5,797 300.5,795 300.5,793 300.5,791 300.5,789.5 300.5,787.5 300.5,785.5 300.5,783.5 300.5,781.5 300.5,779.5 300.5,777.5 300.5,775.5 300.5,773.5 300.5,771.5 300.5,769.5 300.5,767.5 300.5,765.5 300.5,763.5 300.5,761.5 300.5,759.5 300.5,757.5 300.5,755.5 300.5,753.5 300.5,751.5 300.5,749.5 300.5,747.5 300.5,745.5 300.5,743.5 300.5,741.5 300.5,739.5 300.5,737.5 300.5,735.5 300.5,733.5 300.5,731.5 300.5,729.5 300.5,727.5 300.5,725.5 300.5,723.5 300.5,721.5 300.5,719.5 300.5,717.5 300.5,715.5 300.5,713.5 300.5,711.5 300.5,709.5 300.5,707.5 300.5,705.5 300.5,703.5 300.5,701.5 300.5,699.5 300.5,697.5 300.5,695.5 300.5,693.5 300.5,691.5 300.5,689.5 300.5,687.5 300.5,685.5 300.5,683.5 300.5,681.5ZM507.5,760 506.5,760.5 505.5,761 504.5,761.5 503.5,762 502.5,762.5 501.5,763 500.5,764 499.5,765 498.5,766 497.5,767 496.5,768 495.5,769.5 495,770.5 494,771.5 493.5,772.5 493,773.5 492.5,774.5 492,775.5 491.5,776.5 491,777.5 490.5,778.5 490,780.5 489.5,781.5 489,783.5 489,785.5 488.5,786.5 488.5,788.5 488.5,790 488,791 488.5,792 488.5,794 488.5,795.5 488.5,797 489,798 489.5,800 490,801 490.5,802 491,803 491.5,804 492.5,805 493.5,805.5 495.5,806 497.5,805.5 499,805 500.5,804.5 501.5,804 502.5,803.5 503.5,803 504,802 505.5,801 506.5,800.5 507.5,799.5 508.5,798.5 509.5,797.5 510.5,796 511.5,795 512,794 512.5,793 513.5,792 514,791 514.5,790 515.5,788.5 516,787.5 516.5,786.5 517,785.5 517.5,784.5 518,783.5 518.5,781.5 519,780.5 519.5,778.5 519.5,777 519.5,775.5 520,774.5 520,772.5 520,770.5 519.5,769.5 519.5,768 519,766.5 518.5,765.5 518,764.5 517.5,763.5 517,762.5 515.5,761.5 514.5,760.5 513.5,760 511.5,759.5 509.5,759.5 508.5,760Z" fill="#ebff00"/>
<path d="M300.5,680.5 302.5,680.5 304.5,680.5 306.5,680.5 308.5,680.5 310.5,680.5 312.5,680.5 314.5,680.5 316.5,680.5 318.5,680.5 320.5,680.5 322.5,680.5 324.5,680.5 326.5,680.5 328.5,680.5 330.5,680.5 332.5,680.5 334.5,680.5 336.5,680.5 338.5,680.5 339,681.5 339,683.5 339,685.5 339,687.5 339.5,688.5 339.5,690.5 339.5,692 339.5,693.5 340,694.5 340.5,696.5 341,698.5 341.5,700 342,701.5 342.5,702.5 343,703.5 344,704.5 344.5,705.5 345.5,706.5 346,707.5 347,708.5 348,709.5 349.5,710.5 350.5,711.5 351.5,712 352.5,712.5 353.5,713 354.5,713.5 355.5,714 356.5,714.5 358.5,715 360.5,715.5 362.5,715.5 363.5,716 365.5,716 367.5,716 369.5,716 371.5,716 373.5,716 375.5,716 377.5,716 379.5,716 381.5,715.5 383.5,715.5 385.5,715 387.5,715 388.5,714.5 390.5,714.5 392.5,714.5 394.5,714.5 396.5,714.5 397.5,714 399.5,714 401.5,714 402.5,713.5 404.5,713.5 406.5,713 408.5,713 409.5,712.5 411.5,712.5 413.5,712.5 414.5,712 416.5,711.5 418.5,711 419.5,710.5 421.5,710 422.5,709 423.5,708.5 424.5,707.5 425.5,706.5 426.5,705.5 427.5,704.5 428.5,703.5 429,702.5 429.5,701.5 430,700.5 430.5,699.5 431,697.5 431.5,696.5 431.5,694.5 432,693.5 432,691.5 432,689.5 432,687.5 432,685.5 432,683.5 432,681.5 431.5,680.5 433.5,680.5 435.5,680.5 437.5,680.5 439.5,680.5 441.5,680.5 443.5,680.5 445.5,680.5 447.5,680.5 449.5,680.5 451.5,680.5 453.5,680.5 455.5,680.5 457.5,680.5 459.5,680.5 461.5,680.5 463.5,680.5 465.5,680.5 467.5,680.5 469.5,680.5 471.5,680.5 473.5,680.5 475.5,680.5 477.5,680.5 479.5,680.5 481.5,680.5 483.5,680.5 485.5,680.5 487.5,680.5 489.5,680.5 491.5,680.5 493.5,680.5 495.5,680.5 497.5,680.5 499.5,680.5 501.5,680.5 503.5,680.5 505.5,680.5 507.5,680.5 509.5,680.5 511.5,680.5 513.5,680.5 515.5,680.5 517.5,680.5 519.5,680.5 520.5,681.5 520.5,683.5 520.5,685.5 520.5,687.5 520.5,689.5 520.5,691.5 520.5,693.5 520.5,695.5 520.5,697.5 520.5,699.5 520.5,701.5 520.5,703.5 520.5,705.5 520.5,707.5 520.5,709.5 520.5,711.5 520.5,713.5 520.5,715.5 520.5,717.5 520.5,719.5 520.5,721.5 520.5,723.5 520.5,725.5 520.5,727.5 520.5,729.5 520.5,731.5 520.5,733.5 520.5,735.5 520.5,737.5 520.5,739.5 520.5,741.5 520.5,743.5 520.5,745.5 520.5,747.5 520.5,749.5 520.5,751.5 520.5,753.5 520.5,755.5 520.5,757.5 520.5,759.5 520.5,761.5 519.5,761 518.5,759.5 517.5,758.5 516.5,758 515.5,757.5 514.5,757 512.5,756.5 510.5,756.5 508.5,757 507,757.5 505.5,758 504.5,758.5 503.5,759 502.5,759.5 501.5,760 500.5,761 499.5,762 498.5,762.5 498,763.5 497,764.5 496,765.5 495,766.5 494.5,767.5 493.5,768.5 493,769.5 492.5,770.5 492,771.5 491.5,772.5 490.5,773.5 490,774.5 489.5,776 489,777.5 488.5,778.5 488,779.5 487.5,781.5 487,783.5 486.5,785.5 486.5,787.5 486,788.5 486,790 486,792 486,794 486,796 486,798 486,800 486.5,802 486.5,803.5 487,805 487.5,806 488.5,808 489,809 490.5,810 491.5,810.5 493.5,810.5 495.5,810.5 496.5,810 497.5,809.5 498.5,809 499.5,808.5 500.5,808 501.5,807.5 502.5,807 503.5,806 504.5,805.5 505.5,804.5 506.5,803.5 507.5,802.5 508.5,801.5 509.5,800.5 510.5,799.5 511.5,798 512,797 513,796 513.5,795 514.5,794 515,793 515.5,792 516,791 517,790 517.5,789 518.5,787.5 519,785.5 519.5,784.5 520,783.5 520.5,781.5 520.5,783.5 520.5,785.5 520.5,787.5 520.5,789.5 520.5,791 520.5,793 520.5,795 520.5,797 520.5,799 520.5,801 520.5,803 520.5,805 520.5,807 520.5,809 520.5,811 520.5,813 520.5,815 520.5,817 520.5,819 520.5,821 520.5,823 520.5,825 520.5,827 520.5,829 520.5,831 520.5,833 520.5,835 520.5,837 520.5,839 520.5,841 520.5,843 520.5,845 520.5,847 520.5,849 520.5,851 520.5,853 520.5,855 520.5,857 520.5,859 520.5,861 520.5,863 520.5,865 520.5,867 520.5,869 520.5,871 520.5,873 520.5,875 520.5,877 520.5,879 520.5,881 520.5,883 520.5,885 520.5,887 520.5,889 520.5,891 520.5,893 520.5,895 520.5,897 520.5,899 519.5,900 517.5,900 515.5,900 513.5,900 511.5,900 509.5,900 507.5,900 505.5,900 503.5,900 501.5,900 499.5,900 497.5,900 495.5,900 493.5,900 491.5,900 489.5,900 487.5,900 485.5,900 483.5,900 481.5,900 479.5,900 477.5,900 475.5,900 473.5,900 471.5,900 469.5,900 467.5,900 465.5,900 463.5,900 461.5,900 459.5,900 457.5,900 455.5,900 453.5,900 451.5,900 449.5,900 447.5,900 445.5,900 443.5,900 441.5,900 439.5,900 437.5,900 435.5,900 433.5,900 431.5,900 429.5,900 427.5,900 425.5,900 423.5,900 421.5,900 419.5,900 417.5,900 415.5,900 413.5,900 411.5,900 409.5,900 407.5,900 406,899 405.5,897 405,895 404.5,894 404,893 403.5,892 403,891 402.5,890 401.5,889 401,888 400,887 399,886 397.5,885 396.5,884 395.5,883.5 394.5,882.5 393.5,882 392.5,881.5 391.5,881 390.5,880.5 389.5,880 388.5,879.5 387.5,879 385.5,878.5 383.5,878.5 382.5,878 380.5,878 378.5,877.5 376.5,877.5 375.5,878 374,878 372.5,878.5 370.5,879 369.5,879.5 367.5,880 366.5,880.5 365.5,881 363.5,881.5 362.5,882 361.5,882.5 360.5,883 359.5,883.5 358.5,884.5 357.5,885 356.5,886 355.5,886.5 354.5,887.5 353.5,888.5 352.5,889 351.5,890 350.5,891 349.5,892 348.5,893 347.5,894 347,895 346.5,896 345.5,897 345,898 344.5,899.5 343.5,900 341.5,900 339.5,900 337.5,900 335.5,900 333.5,900 331.5,900 329.5,900 327.5,900 325.5,900 323.5,900 321.5,900 319.5,900 317.5,900 315.5,900 313.5,900 311.5,900 309.5,900 307.5,900 305.5,900 303.5,900 301.5,900 300.5,899 300.5,897 300.5,895 300.5,893 300.5,891 300.5,889 300.5,887 300.5,885 300.5,883 300.5,881 300.5,879 300.5,877 300.5,875 300.5,873 300.5,871 300.5,869 300.5,867 300.5,865 300.5,863 300.5,861 300.5,859 300.5,857 300.5,855 300.5,853 300.5,851 300.5,849 300.5,847 300.5,845 300.5,843 300.5,841 300.5,839 300.5,837 300.5,835 300.5,833 300.5,831 300.5,829 300.5,827 300.5,825 300.5,823 300.5,821 300.5,819 300.5,817 300.5,815 300.5,813 300.5,811 300.5,809 300.5,807 300.5,805 300.5,803 300.5,801 300.5,799 300.5,797 300.5,795 300.5,793 300.5,791 300.5,789.5 300.5,787.5 300.5,785.5 300.5,783.5 300.5,781.5 300.5,779.5 300.5,777.5 300.5,775.5 300.5,773.5 300.5,771.5 300.5,769.5 300.5,767.5 300.5,765.5 300.5,763.5 300.5,761.5 300.5,759.5 300.5,757.5 300.5,755.5 300.5,753.5 300.5,751.5 300.5,749.5 300.5,747.5 300.5,745.5 300.5,743.5 300.5,741.5 300.5,739.5 300.5,737.5 300.5,735.5 300.5,733.5 300.5,731.5 300.5,729.5 300.5,727.5 300.5,725.5 300.5,723.5 300.5,721.5 300.5,719.5 300.5,717.5 300.5,715.5 300.5,713.5 300.5,711.5 300.5,709.5 300.5,707.5 300.5,705.5 300.5,703.5 300.5,701.5 300.5,699.5 300.5,697.5 300.5,695.5 300.5,693.5 300.5,691.5 300.5,689.5 300.5,687.5 300.5,685.5 300.5,683.5 300.5,681.5Z" fill="#d6ff00"/>
<path d="M300.5,680.5 302.5,680.5 304.5,680.5 306.5,680.5 308.5,680.5 310.5,680.5 312.5,680.5 314.5,680.5 316.5,680.5 318.5,680.5 320.5,680.5 322.5,680.5 324.5,680.5 326.5,680.5 328.5,680.5 330.5,680.5 332.5,680.5 334.5,680.5 336.5,680.5 336.5,682.5 336.5,684.5 336.5,686.5 336.5,688.5 336.5,690.5 337,691.5 337,693.5 337.5,695.5 338,697.5 338.5,699 339,700.5 339.5,701.5 340,702.5 340.5,703.5 341,704.5 342,705.5 342.5,706.5 343.5,707.5 344,708.5 345,709.5 346.5,710.5 347.5,711.5 348.5,712 349.5,713 350.5,713.5 351.5,714 352.5,714.5 353.5,715 354.5,715.5 355.5,716 357.5,716.5 359.5,716.5 360.5,717 362.5,717 364.5,717 365.5,717.5 367.5,717.5 369.5,717.5 371.5,717.5 373.5,717.5 375.5,717.5 377.5,717.5 378.5,717 380.5,717 381.5,716.5 383.5,716.5 384.5,716 386.5,716 387.5,715.5 389.5,715.5 391.5,715.5 393.5,715.5 394.5,715 396.5,715 398.5,715 400.5,715 402.5,714.5 404.5,714.5 406.5,714 408.5,714 410.5,713.5 412.5,713.5 414,713.5 415.5,713.5 416.5,713 418.5,712.5 420.5,712 421.5,711.5 422.5,711 423.5,710.5 424.5,710 425.5,709 426.5,708.5 427.5,707.5 428.5,706.5 429.5,705.5 430.5,704.5 431,703.5 431.5,702.5 432,701.5 432.5,700.5 433,699.5 433.5,698.5 434,696.5 434,694.5 434.5,693.5 434.5,691.5 434.5,689.5 434.5,687.5 434.5,685.5 434.5,683.5 434.5,681.5 434,680.5 435.5,680.5 437.5,680.5 439.5,680.5 441.5,680.5 443.5,680.5 445.5,680.5 447.5,680.5 449.5,680.5 451.5,680.5 453.5,680.5 455.5,680.5 457.5,680.5 459.5,680.5 461.5,680.5 463.5,680.5 465.5,680.5 467.5,680.5 469.5,680.5 471.5,680.5 473.5,680.5 475.5,680.5 477.5,680.5 479.5,680.5 481.5,680.5 483.5,680.5 485.5,680.5 487.5,680.5 489.5,680.5 491.5,680.5 493.5,680.5 495.5,680.5 497.5,680.5 499.5,680.5 501.5,680.5 503.5,680.5 505.5,680.5 507.5,680.5 509.5,680.5 511.5,680.5 513.5,680.5 515.5,680.5 517.5,680.5 519.5,680.5 520.5,681.5 520.5,683.5 520.5,685.5 520.5,687.5 520.5,689.5 520.5,691.5 520.5,693.5 520.5,695.5 520.5,697.5 520.5,699.5 520.5,701.5 520.5,703.5 520.5,705.5 520.5,707.5 520.5,709.5 520.5,711.5 520.5,713.5 520.5,715.5 520.5,717.5 520.5,719.5 520.5,721.5 520.5,723.5 520.5,725.5 520.5,727.5 520.5,729.5 520.5,731.5 520.5,733.5 520.5,735.5 520.5,737.5 520.5,739.5 520.5,741.5 520.5,743.5 520.5,745.5 520.5,747.5 520.5,749.5 520.5,751.5 520.5,753.5 520.5,755.5 520.5,757.5 519.5,756.5 518.5,755.5 517.5,755 516.5,754.5 515.5,754 513.5,753.5 511.5,753.5 510.5,754 508.5,754 507.5,754.5 506.5,755 505,755.5 503.5,756 502.5,757 501.5,757.5 500.5,758 499.5,759 498.5,760 497.5,760.5 497,761.5 496,762.5 495,763.5 494,764.5 493.5,765.5 492.5,766.5 492,767.5 491.5,768.5 491,769.5 490,770.5 489.5,771.5 489,772.5 488.5,773.5 488,774.5 487.5,775.5 487,777.5 486.5,778.5 486,779.5 485.5,781.5 485,783.5 484.5,785.5 484.5,787.5 484,788.5 484,790 483.5,792 483.5,794 483.5,796 483.5,798 483.5,800 483,802 483,804 483,806 483,808 483,810 483.5,812 484,813 484.5,814 485.5,815 487.5,815.5 489.5,815.5 491.5,815.5 493,815 494.5,815 495.5,814.5 496.5,814 497.5,813.5 498.5,813 499.5,812.5 500.5,811.5 501.5,811 502.5,810 503.5,809.5 504.5,808.5 505.5,807.5 506.5,806.5 507.5,805.5 508.5,804.5 509.5,803.5 510.5,802.5 511.5,801.5 512.5,800 513,799 514,798 514.5,797 515.5,796 516,795 516.5,794 517,793 517.5,792 518.5,791 519,790 519.5,789 520,787.5 520.5,786.5 520.5,788.5 520.5,790 520.5,792 520.5,794 520.5,796 520.5,798 520.5,800 520.5,802 520.5,804 520.5,806 520.5,808 520.5,810 520.5,812 520.5,814 520.5,816 520.5,818 520.5,820 520.5,822 520.5,824 520.5,826 520.5,828 520.5,830 520.5,832 520.5,834 520.5,836 520.5,838 520.5,840 520.5,842 520.5,844 520.5,846 520.5,848 520.5,850 520.5,852 520.5,854 520.5,856 520.5,858 520.5,860 520.5,862 520.5,864 520.5,866 520.5,868 520.5,870 520.5,872 520.5,874 520.5,876 520.5,878 520.5,880 520.5,882 520.5,884 520.5,886 520.5,888 520.5,890 520.5,892 520.5,894 520.5,896 520.5,898 520.5,900 518.5,900 516.5,900 514.5,900 512.5,900 510.5,900 508.5,900 506.5,900 504.5,900 502.5,900 500.5,900 498.5,900 496.5,900 494.5,900 492.5,900 490.5,900 488.5,900 486.5,900 484.5,900 482.5,900 480.5,900 478.5,900 476.5,900 474.5,900 472.5,900 470.5,900 468.5,900 466.5,900 464.5,900 462.5,900 460.5,900 458.5,900 456.5,900 454.5,900 452.5,900 450.5,900 448.5,900 446.5,900 444.5,900 442.5,900 440.5,900 438.5,900 436.5,900 434.5,900 432.5,900 430.5,900 428.5,900 426.5,900 424.5,900 422.5,900 420.5,900 418.5,900 416.5,900 414.5,900 412.5,900 410.5,900 408.5,900 408,899 407.5,898 407,897 406.5,895 406,894 405.5,893 405,892 404.5,891 404,890 403.5,889 402.5,888 402,887 401,886 400,885 399,884 398,883 396.5,882 395.5,881.5 394.5,880.5 393.5,880 392.5,879.5 391.5,879 390.5,878.5 389,878 387.5,877.5 385.5,877 383.5,876.5 381.5,876.5 379.5,876 377.5,876 375.5,876.5 373.5,876.5 372.5,877 370.5,877.5 368.5,878 367.5,878.5 365.5,879 364.5,879.5 363,880 361.5,880.5 360.5,881 359.5,882 358.5,882.5 357.5,883 356.5,883.5 355.5,884.5 354.5,885 353.5,886 352.5,886.5 351.5,887.5 350.5,888 349.5,889 348.5,890 347.5,891 346.5,892 345.5,893 344.5,894 344,895 343.5,896 342.5,897 342,898 341.5,899 340.5,900 338.5,900 336.5,900 334.5,900 332.5,900 330.5,900 328.5,900 326.5,900 324.5,900 322.5,900 320.5,900 318.5,900 316.5,900 314.5,900 312.5,900 310.5,900 308.5,900 306.5,900 304.5,900 302.5,900 300.5,900 300.5,898 300.5,896 300.5,894 300.5,892 300.5,890 300.5,888 300.5,886 300.5,884 300.5,882 300.5,880 300.5,878 300.5,876 300.5,874 300.5,872 300.5,870 300.5,868 300.5,866 300.5,864 300.5,862 300.5,860 300.5,858 300.5,856 300.5,854 300.5,852 300.5,850 300.5,848 300.5,846 300.5,844 300.5,842 300.5,840 300.5,838 300.5,836 300.5,834 300.5,832 300.5,830 300.5,828 300.5,826 300.5,824 300.5,822 300.5,820 300.5,818 300.5,816 300.5,814 300.5,812 300.5,810 300.5,808 300.5,806 300.5,804 300.5,802 300.5,800 300.5,798 300.5,796 300.5,794 300.5,792 300.5,790 300.5,788.5 300.5,786.5 300.5,784.5 300.5,782.5 300.5,780.5 300.5,778.5 300.5,776.5 300.5,774.5 300.5,772.5 300.5,770.5 300.5,768.5 300.5,766.5 300.5,764.5 300.5,762.5 300.5,760.5 300.5,758.5 300.5,756.5 300.5,754.5 300.5,752.5 300.5,750.5 300.5,748.5 300.5,746.5 300.5,744.5 300.5,742.5 300.5,740.5 300.5,738.5 300.5,736.5 300.5,734.5 300.5,732.5 300.5,730.5 300.5,728.5 300.5,726.5 300.5,724.5 300.5,722.5 300.5,720.5 300.5,718.5 300.5,716.5 300.5,714.5 300.5,712.5 300.5,710.5 300.5,708.5 300.5,706.5 300.5,704.5 300.5,702.5 300.5,700.5 300.5,698.5 300.5,696.5 300.5,694.5 300.5,692.5 300.5,690.5 300.5,688.5 300.5,686.5 300.5,684.5 300.5,682.5 300.5,680.5Z" fill="#c2ff00"/>
<path d="M300.5,680.5 302.5,680.5 304.5,680.5 306.5,680.5 308.5,680.5 310.5,680.5 312.5,680.5 314.5,680.5 316.5,680.5 318.5,680.5 320.5,680.5 322.5,680.5 324.5,680.5 326.5,680.5 328.5,680.5 330.5,680.5 332.5,680.5 333.5,681.5 333.5,683.5 333.5,685.5 333.5,687.5 334,689.5 334,691.5 334,693.5 334.5,694.5 335,696.5 335.5,698.5 336,700.5 336.5,701.5 337,702.5 337.5,703.5 338,704.5 339,705.5 339.5,706.5 340.5,707.5 341.5,708.5 342,709.5 343.5,710.5 344.5,711.5 345.5,712.5 346.5,713 347.5,713.5 348.5,714.5 349.5,715 350.5,715.5 351.5,716 352.5,716.5 353.5,717 355.5,717.5 357.5,718 359.5,718 360.5,718.5 362.5,718.5 364.5,718.5 366.5,718.5 368.5,718.5 370.5,718.5 372.5,718.5 374.5,718.5 376,718.5 377.5,718.5 378.5,718 380.5,718 381.5,717.5 383,717.5 384.5,717 386.5,717 387.5,716.5 389,716.5 390.5,716.5 391.5,716 393.5,716 395.5,716 397.5,716 399.5,716 401.5,715.5 403.5,715.5 405.5,715.5 406.5,715 408.5,715 410.5,715 411.5,714.5 413.5,714.5 415.5,714.5 417.5,714.5 418.5,714 420.5,713.5 421.5,713 423.5,712.5 424.5,712 425.5,711.5 426.5,710.5 427.5,710 428.5,709.5 429.5,708.5 430.5,707.5 431.5,706.5 432.5,705.5 433.5,704.5 434,703.5 434.5,702.5 435,701.5 435.5,700.5 436,698.5 436.5,697.5 436.5,695.5 437,694.5 437,692.5 437,690.5 437,688.5 437,686.5 437,684.5 437,682.5 436.5,680.5 438.5,680.5 440.5,680.5 442.5,680.5 444.5,680.5 446.5,680.5 448.5,680.5 450.5,680.5 452.5,680.5 454.5,680.5 456.5,680.5 458.5,680.5 460.5,680.5 462.5,680.5 464.5,680.5 466.5,680.5 468.5,680.5 470.5,680.5 472.5,680.5 474.5,680.5 476.5,680.5 478.5,680.5 480.5,680.5 482.5,680.5 484.5,680.5 486.5,680.5 488.5,680.5 490.5,680.5 492.5,680.5 494.5,680.5 496.5,680.5 498.5,680.5 500.5,680.5 502.5,680.5 504.5,680.5 506.5,680.5 508.5,680.5 510.5,680.5 512.5,680.5 514.5,680.5 516.5,680.5 518.5,680.5 520.5,680.5 520.5,682.5 520.5,684.5 520.5,686.5 520.5,688.5 520.5,690.5 520.5,692.5 520.5,694.5 520.5,696.5 520.5,698.5 520.5,700.5 520.5,702.5 520.5,704.5 520.5,706.5 520.5,708.5 520.5,710.5 520.5,712.5 520.5,714.5 520.5,716.5 520.5,718.5 520.5,720.5 520.5,722.5 520.5,724.5 520.5,726.5 520.5,728.5 520.5,730.5 520.5,732.5 520.5,734.5 520.5,736.5 520.5,738.5 520.5,740.5 520.5,742.5 520.5,744.5 520.5,746.5 520.5,748.5 520.5,750.5 520.5,752.5 519,752.5 517.5,751.5 516.5,751 514.5,751 512.5,751 510.5,751 509,751.5 507.5,751.5 506.5,752 505.5,752.5 504.5,753 503.5,753.5 502.5,754 501.5,754.5 500.5,755.5 499.5,756 498.5,757 497.5,758 496.5,759 495.5,760 494.5,761 493.5,762 492.5,763.5 491.5,764.5 491,765.5 490.5,766.5 489.5,767.5 489,768.5 488.5,769.5 488,770.5 487.5,771.5 487,772.5 486.5,773.5 486,774.5 485.5,775.5 485,776.5 484.5,778.5 484,779.5 483.5,781.5 483,783.5 483,785.5 482.5,786.5 482.5,788.5 482,790 482,792 481.5,794 481.5,796 481.5,798 481,799 481,801 480.5,803 480,805 479.5,807 479,809 478.5,810 478,812 477.5,813 477,815 477.5,817 478,818 479,819 480.5,820 482.5,820.5 484.5,820.5 486.5,820.5 488.5,820.5 489.5,820 491.5,819.5 493,819 494.5,818.5 495.5,818 496.5,817.5 497.5,817 498.5,816.5 499.5,816 500.5,815 501.5,814.5 502.5,813.5 503.5,812.5 504.5,812 505,811 506,810 507,809 508,808 509,807 510,806 511,805 511.5,804 512.5,803 513,802 514,801 515,800 515.5,799 516,798 517,797 517.5,796 518,795 518.5,794 519.5,793 520,792 520.5,791 520.5,793 520.5,795 520.5,797 520.5,799 520.5,801 520.5,803 520.5,805 520.5,807 520.5,809 520.5,811 520.5,813 520.5,815 520.5,817 520.5,819 520.5,821 520.5,823 520.5,825 520.5,827 520.5,829 520.5,831 520.5,833 520.5,835 520.5,837 520.5,839 520.5,841 520.5,843 520.5,845 520.5,847 520.5,849 520.5,851 520.5,853 520.5,855 520.5,857 520.5,859 520.5,861 520.5,863 520.5,865 520.5,867 520.5,869 520.5,871 520.5,873 520.5,875 520.5,877 520.5,879 520.5,881 520.5,883 520.5,885 520.5,887 520.5,889 520.5,891 520.5,893 520.5,895 520.5,897 520.5,899 519.5,900 517.5,900 515.5,900 513.5,900 511.5,900 509.5,900 507.5,900 505.5,900 503.5,900 501.5,900 499.5,900 497.5,900 495.5,900 493.5,900 491.5,900 489.5,900 487.5,900 485.5,900 483.5,900 481.5,900 479.5,900 477.5,900 475.5,900 473.5,900 471.5,900 469.5,900 467.5,900 465.5,900 463.5,900 461.5,900 459.5,900 457.5,900 455.5,900 453.5,900 451.5,900 449.5,900 447.5,900 445.5,900 443.5,900 441.5,900 439.5,900 437.5,900 435.5,900 433.5,900 431.5,900 429.5,900 427.5,900 425.5,900 423.5,900 421.5,900 419.5,900 417.5,900 415.5,900 413.5,900 411.5,900 409.5,900 409,898 408.5,896 408,895 407.5,894 407,892 406.5,891 406,890 405,889 404.5,888 404,887 403,886 402.5,885 401.5,884 400.5,883 399.5,882.5 398.5,881.5 397.5,881 396.5,880 395.5,879.5 394.5,879 393.5,878.5 392.5,878 391.5,877.5 390.5,877 389.5,876.5 388.5,876 386.5,875.5 384.5,875 382.5,875 380.5,874.5 378.5,874.5 376.5,874.5 374.5,874.5 373.5,875 371.5,875.5 369.5,876 367.5,876.5 366.5,877 364.5,877.5 363.5,878 362.5,878.5 361,879 359.5,879.5 358.5,880.5 357.5,881 356.5,881.5 355.5,882 354.5,883 353.5,883.5 352.5,884 351.5,884.5 350.5,885.5 349.5,886 348.5,887 347.5,887.5 346.5,888.5 345.5,889.5 344.5,890.5 343.5,891.5 342.5,892.5 341.5,893.5 340.5,895 340,896 339.5,897 339,898 338.5,899 338,900 336.5,900 334.5,900 332.5,900 330.5,900 328.5,900 326.5,900 324.5,900 322.5,900 320.5,900 318.5,900 316.5,900 314.5,900 312.5,900 310.5,900 308.5,900 306.5,900 304.5,900 302.5,900 300.5,900 300.5,898 300.5,896 300.5,894 300.5,892 300.5,890 300.5,888 300.5,886 300.5,884 300.5,882 300.5,880 300.5,878 300.5,876 300.5,874 300.5,872 300.5,870 300.5,868 300.5,866 300.5,864 300.5,862 300.5,860 300.5,858 300.5,856 300.5,854 300.5,852 300.5,850 300.5,848 300.5,846 300.5,844 300.5,842 300.5,840 300.5,838 300.5,836 300.5,834 300.5,832 300.5,830 300.5,828 300.5,826 300.5,824 300.5,822 300.5,820 300.5,818 300.5,816 300.5,814 300.5,812 300.5,810 300.5,808 300.5,806 300.5,804 300.5,802 300.5,800 300.5,798 300.5,796 300.5,794 300.5,792 300.5,790 300.5,788.5 300.5,786.5 300.5,784.5 300.5,782.5 300.5,780.5 300.5,778.5 300.5,776.5 300.5,774.5 300.5,772.5 300.5,770.5 300.5,768.5 300.5,766.5 300.5,764.5 300.5,762.5 300.5,760.5 300.5,758.5 300.5,756.5 300.5,754.5 300.5,752.5 300.5,750.5 300.5,748.5 300.5,746.5 300.5,744.5 300.5,742.5 300.5,740.5 300.5,738.5 300.5,736.5 300.5,734.5 300.5,732.5 300.5,730.5 300.5,728.5 300.5,726.5 300.5,724.5 300.5,722.5 300.5,720.5 300.5,718.5 300.5,716.5 300.5,714.5 300.5,712.5 300.5,710.5 300.5,708.5 300.5,706.5 300.5,704.5 300.5,702.5 300.5,700.5 300.5,698.5 300.5,696.5 300.5,694.5 300.5,692.5 300.5,690.5 300.5,688.5 300.5,686.5 300.5,684.5 300.5,682.5 300.5,680.5Z" fill="#adff00"/>
<path d="M300.5,680.5 302.5,680.5 304.5,680.5 306.5,680.5 308.5,680.5 310.5,680.5 312.5,680.5 314.5,680.5 316.5,680.5 318.5,680.5 320.5,680.5 322.5,680.5 324.5,680.5 326.5,680.5 328.5,680.5 330.5,680.5 331,681.5 331,683.5 331,685.5 331,687.5 331,689.5 331,691.5 331.5,693.5 331.5,695.5 332,696.5 332.5,698.5 333,700.5 333.5,701.5 334,702.5 334.5,703.5 335,704.5 336,705.5 336.5,706.5 337.5,707.5 338,708.5 339,709.5 340,710.5 341,711.5 342.5,712.5 343.5,713.5 344.5,714 345.5,714.5 346.5,715.5 347.5,716 348.5,716.5 349.5,717 350.5,717.5 351.5,718 353,718.5 354.5,719 356.5,719 357.5,719.5 359.5,719.5 361.5,720 363.5,720 365.5,720 367.5,720 369.5,720 370.5,719.5 372.5,719.5 374.5,719.5 376.5,719.5 378.5,719 380.5,719 381.5,718.5 383,718.5 384.5,718 386.5,717.5 388.5,717.5 390.5,717 392.5,717 394.5,717 396.5,717 398.5,717 400.5,716.5 402.5,716.5 404.5,716.5 406.5,716 408.5,716 410.5,716 412.5,716 414.5,716 416.5,715.5 418.5,715.5 419.5,715 421.5,714.5 423.5,714 424.5,713.5 425.5,713 427,712.5 428.5,711.5 429.5,711 430.5,710.5 431.5,709.5 432.5,709 433.5,708 434.5,707 435.5,705.5 436.5,704.5 437,703.5 437.5,702.5 438,701.5 438.5,700.5 439,698.5 439.5,696.5 439.5,694.5 439.5,692.5 439.5,690.5 439.5,688.5 439.5,686.5 439.5,684.5 439.5,682.5 439.5,680.5 441.5,680.5 443.5,680.5 445.5,680.5 447.5,680.5 449.5,680.5 451.5,680.5 453.5,680.5 455.5,680.5 457.5,680.5 459.5,680.5 461.5,680.5 463.5,680.5 465.5,680.5 467.5,680.5 469.5,680.5 471.5,680.5 473.5,680.5 475.5,680.5 477.5,680.5 479.5,680.5 481.5,680.5 483.5,680.5 485.5,680.5 487.5,680.5 489.5,680.5 491.5,680.5 493.5,680.5 495.5,680.5 497.5,680.5 499.5,680.5 501.5,680.5 503.5,680.5 505.5,680.5 507.5,680.5 509.5,680.5 511.5,680.5 513.5,680.5 515.5,680.5 517.5,680.5 519.5,680.5 520.5,681.5 520.5,683.5 520.5,685.5 520.5,687.5 520.5,689.5 520.5,691.5 520.5,693.5 520.5,695.5 520.5,697.5 520.5,699.5 520.5,701.5 520.5,703.5 520.5,705.5 520.5,707.5 520.5,709.5 520.5,711.5 520.5,713.5 520.5,715.5 520.5,717.5 520.5,719.5 520.5,721.5 520.5,723.5 520.5,725.5 520.5,727.5 520.5,729.5 520.5,731.5 520.5,733.5 520.5,735.5 520.5,737.5 520.5,739.5 520.5,741.5 520.5,743.5 520.5,745.5 520.5,747.5 520.5,749.5 519.5,749 518.5,748.5 516.5,748 514.5,748 512.5,748 510.5,748 509.5,748.5 507.5,749 506.5,749.5 505.5,750 504.5,750.5 503.5,751 502.5,751.5 501.5,752 500.5,752.5 499.5,753.5 498.5,754 497.5,755 496.5,756 495.5,757 494.5,758 493.5,759 492.5,760 491.5,761.5 490.5,762.5 490,763.5 489.5,764.5 488.5,765.5 488,766.5 487.5,767.5 487,768.5 486.5,769.5 486,770.5 485.5,771.5 485,772.5 484.5,773.5 484,774.5 483.5,775.5 483,777.5 482.5,778.5 482,780.5 482,782.5 481.5,783.5 481,785.5 481,787.5 480.5,789.5 480.5,791 480,793 480,795 479.5,796 479.5,797.5 479,799 479,801 478.5,802 478,803 477.5,805 477,806 476.5,807 476,808 475.5,809 474.5,810 473.5,811 472.5,812 471.5,813 471,814 470,815 469.5,816 468.5,817 469,819 469.5,820 470.5,821 471.5,821.5 472.5,822 473.5,822.5 474.5,823 475.5,823.5 477.5,824 479.5,824.5 481.5,824.5 482.5,825 484.5,825 486.5,824.5 488.5,824.5 489.5,824 491.5,823.5 492.5,823 494.5,822.5 495.5,822 496.5,821.5 497.5,820.5 498.5,820 499.5,819.5 500.5,818.5 501.5,818 502,817 503.5,816 504.5,815 505.5,814 506.5,813 507.5,812 508.5,811 509,810 510,809 511,808 512,807 512.5,806 513.5,805 514,804 515,803 515.5,802 516.5,801 517,800 518,799 518.5,798 519,797 519.5,796 520.5,795 520.5,797 520.5,799 520.5,801 520.5,803 520.5,805 520.5,807 520.5,809 520.5,811 520.5,813 520.5,815 520.5,817 520.5,819 520.5,821 520.5,823 520.5,825 520.5,827 520.5,829 520.5,831 520.5,833 520.5,835 520.5,837 520.5,839 520.5,841 520.5,843 520.5,845 520.5,847 520.5,849 520.5,851 520.5,853 520.5,855 520.5,857 520.5,859 520.5,861 520.5,863 520.5,865 520.5,867 520.5,869 520.5,871 520.5,873 520.5,875 520.5,877 520.5,879 520.5,881 520.5,883 520.5,885 520.5,887 520.5,889 520.5,891 520.5,893 520.5,895 520.5,897 520.5,899 519.5,900 517.5,900 515.5,900 513.5,900 511.5,900 509.5,900 507.5,900 505.5,900 503.5,900 501.5,900 499.5,900 497.5,900 495.5,900 493.5,900 491.5,900 489.5,900 487.5,900 485.5,900 483.5,900 481.5,900 479.5,900 477.5,900 475.5,900 473.5,900 471.5,900 469.5,900 467.5,900 465.5,900 463.5,900 461.5,900 459.5,900 457.5,900 455.5,900 453.5,900 451.5,900 449.5,900 447.5,900 445.5,900 443.5,900 441.5,900 439.5,900 437.5,900 435.5,900 433.5,900 431.5,900 429.5,900 427.5,900 425.5,900 423.5,900 421.5,900 419.5,900 417.5,900 415.5,900 413.5,900 411.5,900 411,899 410.5,897 410,895 409.5,894 409,893 408.5,892 408,891 407.5,890 407,889 406.5,888 406,887 405,886 404.5,885 403.5,884 402.5,883 401.5,882 400.5,881 399.5,880 398.5,879.5 397.5,878.5 396.5,878 395.5,877.5 394.5,877 393.5,876.5 392.5,876 391.5,875.5 390.5,875 389.5,874.5 387.5,874 385.5,873.5 383.5,873 382,873 380.5,873 378.5,873 376.5,873 374.5,873 372.5,873.5 370.5,874 368.5,874.5 366.5,875 365.5,875.5 363.5,876 362.5,876.5 361,877 359.5,877.5 358.5,878 357.5,878.5 356.5,879.5 355.5,880 354.5,880.5 353.5,881 352.5,881.5 351.5,882 350.5,883 349.5,883.5 348.5,884 347.5,884.5 346.5,885.5 345.5,886 344.5,887 343.5,888 342.5,888.5 341.5,889.5 340.5,890.5 339.5,891.5 338.5,893 337.5,894 337,895 336,896 335.5,897 335,898 334.5,899 334,900 332.5,900 330.5,900 328.5,900 326.5,900 324.5,900 322.5,900 320.5,900 318.5,900 316.5,900 314.5,900 312.5,900 310.5,900 308.5,900 306.5,900 304.5,900 302.5,900 300.5,900 300.5,898 300.5,896 300.5,894 300.5,892 300.5,890 300.5,888 300.5,886 300.5,884 300.5,882 300.5,880 300.5,878 300.5,876 300.5,874 300.5,872 300.5,870 300.5,868 300.5,866 300.5,864 300.5,862 300.5,860 300.5,858 300.5,856 300.5,854 300.5,852 300.5,850 300.5,848 300.5,846 300.5,844 300.5,842 300.5,840 300.5,838 300.5,836 300.5,834 300.5,832 300.5,830 300.5,828 300.5,826 300.5,824 300.5,822 300.5,820 300.5,818 300.5,816 300.5,814 300.5,812 300.5,810 300.5,808 300.5,806 300.5,804 300.5,802 300.5,800 300.5,798 300.5,796 300.5,794 300.5,792 300.5,790 300.5,788.5 300.5,786.5 300.5,784.5 300.5,782.5 300.5,780.5 300.5,778.5 300.5,776.5 300.5,774.5 300.5,772.5 300.5,770.5 300.5,768.5 300.5,766.5 300.5,764.5 300.5,762.5 300.5,760.5 300.5,758.5 300.5,756.5 300.5,754.5 300.5,752.5 300.5,750.5 300.5,748.5 300.5,746.5 300.5,744.5 300.5,742.5 300.5,740.5 300.5,738.5 300.5,736.5 300.5,734.5 300.5,732.5 300.5,730.5 300.5,728.5 300.5,726.5 300.5,724.5 300.5,722.5 300.5,720.5 300.5,718.5 300.5,716.5 300.5,714.5 300.5,712.5 300.5,710.5 300.5,708.5 300.5,706.5 300.5,704.5 300.5,702.5 300.5,700.5 300.5,698.5 300.5,696.5 300.5,694.5 300.5,692.5 300.5,690.5 300.5,688.5 300.5,686.5 300.5,684.5 300.5,682.5 300.5,680.5Z" fill="#99ff00"/>
<path d="M300.5,680.5 302.5,680.5 304.5,680.5 306.5,680.5 308.5,680.5 310.5,680.5 312.5,680.5 314.5,680.5 316.5,680.5 318.5,680.5 320.5,680.5 322.5,680.5 324.5,680.5 326.5,680.5 328,680.5 328,682.5 328,684.5 328,686.5 328,688.5 328,690.5 328,692.5 328.5,693.5 328.5,695 329,696.5 329.5,698.5 330,700.5 330.5,701.5 331,702.5 331.5,703.5 332,704.5 332.5,705.5 333,706.5 334,707.5 334.5,708.5 335.5,709.5 336.5,710.5 337.5,711.5 338.5,712 339.5,713 340.5,714 341.5,714.5 342.5,715 343.5,716 344.5,716.5 345.5,717 346.5,717.5 347.5,718 348.5,718.5 349.5,719 351,719.5 352.5,720 354.5,720.5 356.5,720.5 357.5,721 359.5,721 361.5,721 363.5,721 365.5,721 367.5,721 369.5,721 371.5,721 373.5,720.5 375.5,720.5 377.5,720.5 379.5,720 381.5,719.5 383,719.5 384.5,719 386.5,718.5 388,718.5 389.5,718 391.5,718 393.5,718 395.5,718 397.5,718 399.5,717.5 401.5,717.5 403.5,717.5 405.5,717.5 406.5,717 408.5,717 410.5,717 412.5,717 414.5,717 416.5,717 418.5,717 419.5,716.5 421.5,716 423.5,715.5 425.5,715 426.5,714.5 428.5,714 429.5,713.5 430.5,713 431.5,712.5 432.5,712 433.5,711 434.5,710.5 435.5,709.5 436.5,708.5 437.5,707.5 438.5,706.5 439,705.5 439.5,704.5 440,703.5 440.5,702.5 441,701.5 441.5,700.5 442,698.5 442,696.5 442.5,695.5 442.5,693.5 442.5,691.5 442.5,689.5 442.5,687.5 442,686.5 442,684.5 442,682.5 442,680.5 443.5,680.5 445.5,680.5 447.5,680.5 449.5,680.5 451.5,680.5 453.5,680.5 455.5,680.5 457.5,680.5 459.5,680.5 461.5,680.5 463.5,680.5 465.5,680.5 467.5,680.5 469.5,680.5 471.5,680.5 473.5,680.5 475.5,680.5 477.5,680.5 479.5,680.5 481.5,680.5 483.5,680.5 485.5,680.5 487.5,680.5 489.5,680.5 491.5,680.5 493.5,680.5 495.5,680.5 497.5,680.5 499.5,680.5 501.5,680.5 503.5,680.5 505.5,680.5 507.5,680.5 509.5,680.5 511.5,680.5 513.5,680.5 515.5,680.5 517.5,680.5 519.5,680.5 520.5,681.5 520.5,683.5 520.5,685.5 520.5,687.5 520.5,689.5 520.5,691.5 520.5,693.5 520.5,695.5 520.5,697.5 520.5,699.5 520.5,701.5 520.5,703.5 520.5,705.5 520.5,707.5 520.5,709.5 520.5,711.5 520.5,713.5 520.5,715.5 520.5,717.5 520.5,719.5 520.5,721.5 520.5,723.5 520.5,725.5 520.5,727.5 520.5,729.5 520.5,731.5 520.5,733.5 520.5,735.5 520.5,737.5 520.5,739.5 520.5,741.5 520.5,743.5 520.5,745.5 518.5,745.5 517.5,745 515.5,745 513.5,745 511.5,745.5 509.5,745.5 508.5,746 507.5,746.5 505.5,747 504.5,747.5 503.5,748 502.5,748.5 501.5,749 500.5,750 499.5,750.5 498.5,751 497.5,752 496.5,753 495.5,754 494.5,754.5 494,755.5 493,756.5 492,757.5 491,758.5 490.5,759.5 489.5,760.5 489,761.5 488,762.5 487.5,763.5 487,764.5 486,765.5 485.5,766.5 485,767.5 484.5,768.5 484,769.5 483.5,770.5 483,772.5 482.5,773.5 482,774.5 481.5,776.5 481,778.5 480.5,780.5 480,782.5 480,784.5 479.5,785.5 479.5,787.5 479,788.5 479,790 478.5,792 478.5,793.5 478,795 478,797 477.5,798 477,800 476.5,801 476,803 475.5,804 474.5,805 474,806 473.5,807 472.5,808 471.5,809 470.5,809.5 469.5,810 468.5,811 467.5,811.5 466.5,812 465.5,812.5 464.5,813 463.5,813.5 462.5,814 460.5,814.5 458.5,815 456.5,815.5 455.5,816 454,816 452.5,817 451.5,818 452.5,820 453.5,820.5 455.5,821 456.5,821.5 458.5,822 460.5,822.5 462.5,823 464.5,823.5 466.5,824 467.5,824.5 469.5,825 470.5,825.5 471.5,826 473.5,826.5 475.5,827 476.5,827.5 478.5,827.5 479.5,828 481,828 482.5,828.5 484.5,828.5 486.5,828.5 488,828 489.5,828 490.5,827.5 492,827 493.5,826.5 494.5,826 495.5,825.5 496.5,825 497.5,824.5 498.5,823.5 499.5,823 500.5,822 501.5,821.5 502.5,820.5 503.5,819.5 504.5,818.5 505.5,817.5 506.5,816.5 507.5,815.5 508.5,814.5 509.5,813.5 510.5,812 511.5,811 512,810 513,809 513.5,808 514.5,807 515,806 516,805 516.5,804 517.5,803 518,802 519,801 519.5,800 520,799 520.5,800 520.5,802 520.5,804 520.5,806 520.5,808 520.5,810 520.5,812 520.5,814 520.5,816 520.5,818 520.5,820 520.5,822 520.5,824 520.5,826 520.5,828 520.5,830 520.5,832 520.5,834 520.5,836 520.5,838 520.5,840 520.5,842 520.5,844 520.5,846 520.5,848 520.5,850 520.5,852 520.5,854 520.5,856 520.5,858 520.5,860 520.5,862 520.5,864 520.5,866 520.5,868 520.5,870 520.5,872 520.5,874 520.5,876 520.5,878 520.5,880 520.5,882 520.5,884 520.5,886 520.5,888 520.5,890 520.5,892 520.5,894 520.5,896 520.5,898 520.5,900 518.5,900 516.5,900 514.5,900 512.5,900 510.5,900 508.5,900 506.5,900 504.5,900 502.5,900 500.5,900 498.5,900 496.5,900 494.5,900 492.5,900 490.5,900 488.5,900 486.5,900 484.5,900 482.5,900 480.5,900 478.5,900 476.5,900 474.5,900 472.5,900 470.5,900 468.5,900 466.5,900 464.5,900 462.5,900 460.5,900 458.5,900 456.5,900 454.5,900 452.5,900 450.5,900 448.5,900 446.5,900 444.5,900 442.5,900 440.5,900 438.5,900 436.5,900 434.5,900 432.5,900 430.5,900 428.5,900 426.5,900 424.5,900 422.5,900 420.5,900 418.5,900 416.5,900 414.5,900 413,899 412.5,897 412,896 411.5,894.5 411,893 410.5,892 410,891 409.5,890 409,889 408.5,888 407.5,887 407,886 406.5,885 405.5,884 405,883 404,882 403,881 402,880 401,879 399.5,878 398.5,877 397.5,876.5 396.5,876 395.5,875.5 394.5,875 393.5,874.5 392.5,874 391.5,873.5 390.5,873 389.5,872.5 387.5,872 385.5,871.5 383.5,871.5 382.5,871 381,871 379.5,871 377.5,871 375.5,871 373.5,871 372.5,871.5 370.5,872 368.5,872.5 366.5,873 364.5,873.5 363.5,874 361.5,874.5 360.5,875 359.5,875.5 358.5,876 357.5,876.5 356.5,877 355.5,877.5 354.5,878 353.5,878.5 352.5,879 351.5,879.5 350.5,880 349.5,880.5 348.5,881 347.5,882 346.5,882.5 345.5,883 344.5,884 343.5,884.5 342.5,885 341.5,886 340.5,886.5 339.5,887.5 338.5,888.5 337.5,889.5 336.5,890 335.5,891 335,892 334,893 333,894 332.5,895 332,896 331.5,897 331,898 330.5,899 330,900 328.5,900 326.5,900 324.5,900 322.5,900 320.5,900 318.5,900 316.5,900 314.5,900 312.5,900 310.5,900 308.5,900 306.5,900 304.5,900 302.5,900 300.5,900 300.5,898 300.5,896 300.5,894 300.5,892 300.5,890 300.5,888 300.5,886 300.5,884 300.5,882 300.5,880 300.5,878 300.5,876 300.5,874 300.5,872 300.5,870 300.5,868 300.5,866 300.5,864 300.5,862 300.5,860 300.5,858 300.5,856 300.5,854 300.5,852 300.5,850 300.5,848 300.5,846 300.5,844 300.5,842 300.5,840 300.5,838 300.5,836 300.5,834 300.5,832 300.5,830 300.5,828 300.5,826 300.5,824 300.5,822 300.5,820 300.5,818 300.5,816 300.5,814 300.5,812 300.5,810 300.5,808 300.5,806 300.5,804 300.5,802 300.5,800 300.5,798 300.5,796 300.5,794 300.5,792 300.5,790 300.5,788.5 300.5,786.5 300.5,784.5 300.5,782.5 300.5,780.5 300.5,778.5 300.5,776.5 300.5,774.5 300.5,772.5 300.5,770.5 300.5,768.5 300.5,766.5 300.5,764.5 300.5,762.5 300.5,760.5 300.5,758.5 300.5,756.5 300.5,754.5 300.5,752.5 300.5,750.5 300.5,748.5 300.5,746.5 300.5,744.5 300.5,742.5 300.5,740.5 300.5,738.5 300.5,736.5 300.5,734.5 300.5,732.5 300.5,730.5 300.5,728.5 300.5,726.5 300.5,724.5 300.5,722.5 300.5,720.5 300.5,718.5 300.5,716.5 300.5,714.5 300.5,712.5 300.5,710.5 300.5,708.5 300.5,706.5 300.5,704.5 300.5,702.5 300.5,700.5 300.5,698.5 300.5,696.5 300.5,694.5 300.5,692.5 300.5,690.5 300.5,688.5 300.5,686.5 300.5,684.5 300.5,682.5 300.5,680.5Z" fill="#85ff00"/>
<path d="M300.5,680.5 302.5,680.5 304.5,680.5 306.5,680.5 308.5,680.5 310.5,680.5 312.5,680.5 314.5,680.5 316.5,680.5 318.5,680.5 320.5,680.5 322.5,680.5 324.5,680.5 324.5,682.5 324.5,684.5 324.5,686.5 324.5,688.5 324.5,690.5 325,691.5 325,693.5 325.5,695.5 326,697.5 326.5,699.5 327,701.5 327.5,702.5 328,703.5 328.5,704.5 329,705.5 329.5,706.5 330.5,707.5 331,708.5 332,709.5 333,710.5 333.5,711.5 334.5,712 335.5,713 336.5,713.5 337.5,714.5 338.5,715 339.5,716 340.5,716.5 341.5,717 342.5,717.5 343.5,718 344.5,718.5 345.5,719 346.5,719.5 347.5,720 349,720.5 350.5,721 352,721.5 353.5,721.5 354.5,722 356.5,722 358.5,722.5 360.5,722.5 362.5,722.5 364.5,722.5 366.5,722.5 367.5,722 369.5,722 371.5,722 373.5,722 374.5,721.5 376.5,721.5 378.5,721.5 379.5,721 381.5,720.5 383,720.5 384.5,720 386.5,719.5 388.5,719 390.5,719 392.5,719 394.5,719 396.5,719 398.5,718.5 400.5,718.5 402.5,718.5 404,718.5 405.5,718.5 406.5,718 408.5,718 410.5,718 412.5,718 414.5,718 416.5,718 418.5,718 420.5,718 421.5,717.5 423.5,717 425.5,716.5 427.5,716 429.5,715.5 430.5,715 431.5,714.5 433.5,714 434.5,713.5 435.5,712.5 436.5,712 437.5,711.5 438.5,710.5 439.5,709.5 440.5,708.5 441,707.5 442,706.5 442.5,705.5 443,704.5 443.5,703.5 444,702.5 444.5,700.5 445,698.5 445,696.5 445,694.5 445,692.5 445,690.5 445,688.5 445,686.5 445,684.5 444.5,682.5 444.5,680.5 446.5,680.5 448.5,680.5 450.5,680.5 452.5,680.5 454.5,680.5 456.5,680.5 458.5,680.5 460.5,680.5 462.5,680.5 464.5,680.5 466.5,680.5 468.5,680.5 470.5,680.5 472.5,680.5 474.5,680.5 476.5,680.5 478.5,680.5 480.5,680.5 482.5,680.5 484.5,680.5 486.5,680.5 488.5,680.5 490.5,680.5 492.5,680.5 494.5,680.5 496.5,680.5 498.5,680.5 500.5,680.5 502.5,680.5 504.5,680.5 506.5,680.5 508.5,680.5 510.5,680.5 512.5,680.5 514.5,680.5 516.5,680.5 518.5,680.5 520.5,680.5 520.5,682.5 520.5,684.5 520.5,686.5 520.5,688.5 520.5,690.5 520.5,692.5 520.5,694.5 520.5,696.5 520.5,698.5 520.5,700.5 520.5,702.5 520.5,704.5 520.5,706.5 520.5,708.5 520.5,710.5 520.5,712.5 520.5,714.5 520.5,716.5 520.5,718.5 520.5,720.5 520.5,722.5 520.5,724.5 520.5,726.5 520.5,728.5 520.5,730.5 520.5,732.5 520.5,734.5 520.5,736.5 520.5,738.5 520.5,740.5 520.5,742.5 518.5,742 516.5,742 514.5,742 512.5,742 511.5,742.5 509.5,743 508,743.5 506.5,744 505,744.5 503.5,745 502.5,745.5 501.5,746.5 500.5,747 499.5,747.5 498.5,748 497.5,749 496.5,750 495.5,750.5 494.5,751.5 493.5,752.5 492.5,753.5 491.5,754.5 491,755.5 490,756.5 489,757.5 488.5,758.5 487.5,759.5 487,760.5 486,761.5 485.5,762.5 485,763.5 484.5,764.5 484,765.5 483.5,766.5 483,767.5 482.5,768.5 482,769.5 481.5,771 481,772.5 480.5,774.5 480,776.5 479.5,778.5 479,780.5 478.5,782.5 478.5,784.5 478,785.5 478,787.5 477.5,788.5 477.5,790 477,792 476.5,794 476,796 475.5,798 475,800 474.5,801 474,802 473.5,803 472.5,804 471.5,805 470.5,806 469.5,807 468.5,807.5 467.5,808 466.5,809 465.5,809.5 463.5,810 462.5,810.5 460.5,811 458.5,811 457.5,811.5 455.5,811.5 454.5,812 452.5,812 450.5,812.5 448.5,812.5 447.5,813 446,813 444.5,813.5 443.5,814 442,814 440.5,814.5 439.5,815 437.5,815.5 436.5,816 435.5,816.5 434.5,817 434,818 434.5,819.5 435.5,820 436.5,820.5 437.5,821 439.5,821.5 441.5,822 443,822 444.5,822.5 446.5,823 448.5,823.5 450.5,824 452.5,824 453.5,824.5 455.5,824.5 456.5,825 458,825 459.5,825.5 461.5,826 463,826 464.5,826.5 466.5,827 467.5,827.5 469.5,828 471.5,828.5 472.5,829 474.5,829.5 476.5,830 477.5,830.5 479.5,831 481.5,831 482.5,831.5 484.5,831.5 486.5,831.5 488.5,831.5 490.5,831 492.5,830.5 494,830 495.5,829.5 496.5,829 497.5,828 498.5,827.5 499.5,826.5 500.5,826 501.5,825 502.5,824 503.5,823.5 504.5,822.5 505.5,821.5 506.5,820.5 507.5,819 508.5,818 509.5,817 510,816 511,815 512,814 512.5,813 513.5,812 514,811 515,810 515.5,809 516.5,808 517,807 518,806 518.5,805 519.5,804 520,803 520.5,804 520.5,806 520.5,808 520.5,810 520.5,812 520.5,814 520.5,816 520.5,818 520.5,820 520.5,822 520.5,824 520.5,826 520.5,828 520.5,830 520.5,832 520.5,834 520.5,836 520.5,838 520.5,840 520.5,842 520.5,844 520.5,846 520.5,848 520.5,850 520.5,852 520.5,854 520.5,856 520.5,858 520.5,860 520.5,862 520.5,864 520.5,866 520.5,868 520.5,870 520.5,872 520.5,874 520.5,876 520.5,878 520.5,880 520.5,882 520.5,884 520.5,886 520.5,888 520.5,890 520.5,892 520.5,894 520.5,896 520.5,898 520.5,900 518.5,900 516.5,900 514.5,900 512.5,900 510.5,900 508.5,900 506.5,900 504.5,900 502.5,900 500.5,900 498.5,900 496.5,900 494.5,900 492.5,900 490.5,900 488.5,900 486.5,900 484.5,900 482.5,900 480.5,900 478.5,900 476.5,900 474.5,900 472.5,900 470.5,900 468.5,900 466.5,900 464.5,900 462.5,900 460.5,900 458.5,900 456.5,900 454.5,900 452.5,900 450.5,900 448.5,900 446.5,900 444.5,900 442.5,900 440.5,900 438.5,900 436.5,900 434.5,900 432.5,900 430.5,900 428.5,900 426.5,900 424.5,900 422.5,900 420.5,900 418.5,900 416.5,900 415,899 414.5,897 414,896 413.5,894 413,893 412.5,892 412,891 411.5,890 411,889 410.5,888 409.5,887 409,886 408.5,885 407.5,884 407,883 406.5,882 405.5,881 404.5,880 403.5,879 402.5,878 401.5,877 400.5,876 399.5,875.5 398.5,875 397.5,874 396.5,873.5 395.5,873 394.5,872.5 393.5,872 392.5,871.5 391,871 389.5,870.5 388,870 386.5,869.5 384.5,869.5 382.5,869 380.5,869 378.5,869 376.5,869 374.5,869 372.5,869.5 370.5,869.5 369.5,870 367.5,870.5 366.5,871 364.5,871.5 362.5,872 361.5,872.5 359.5,873 358.5,873.5 357.5,874 356.5,874.5 355.5,875 354.5,875.5 353.5,876 352.5,876.5 351.5,877 350.5,877.5 349.5,878 348.5,878.5 347.5,879 346.5,879.5 345.5,880 344.5,880.5 343.5,881 342.5,882 341.5,882.5 340.5,883 339.5,884 338.5,884.5 337.5,885 336.5,886 335.5,886.5 334.5,887.5 333.5,888.5 332.5,889.5 331.5,890.5 330.5,891.5 329.5,893 329,894 328,895 327.5,896 327,897 326.5,899 326,900 324.5,900 322.5,900 320.5,900 318.5,900 316.5,900 314.5,900 312.5,900 310.5,900 308.5,900 306.5,900 304.5,900 302.5,900 300.5,900 300.5,898 300.5,896 300.5,894 300.5,892 300.5,890 300.5,888 300.5,886 300.5,884 300.5,882 300.5,880 300.5,878 300.5,876 300.5,874 300.5,872 300.5,870 300.5,868 300.5,866 300.5,864 300.5,862 300.5,860 300.5,858 300.5,856 300.5,854 300.5,852 300.5,850 300.5,848 300.5,846 300.5,844 300.5,842 300.5,840 300.5,838 300.5,836 300.5,834 300.5,832 300.5,830 300.5,828 300.5,826 300.5,824 300.5,822 300.5,820 300.5,818 300.5,816 300.5,814 300.5,812 300.5,810 300.5,808 300.5,806 300.5,804 300.5,802 300.5,800 300.5,798 300.5,796 300.5,794 300.5,792 300.5,790 300.5,788.5 300.5,786.5 300.5,784.5 300.5,782.5 300.5,780.5 300.5,778.5 300.5,776.5 300.5,774.5 300.5,772.5 300.5,770.5 300.5,768.5 300.5,766.5 300.5,764.5 300.5,762.5 300.5,760.5 300.5,758.5 300.5,756.5 300.5,754.5 300.5,752.5 300.5,750.5 300.5,748.5 300.5,746.5 300.5,744.5 300.5,742.5 300.5,740.5 300.5,738.5 300.5,736.5 300.5,734.5 300.5,732.5 300.5,730.5 300.5,728.5 300.5,726.5 300.5,724.5 300.5,722.5 300.5,720.5 300.5,718.5 300.5,716.5 300.5,714.5 300.5,712.5 300.5,710.5 300.5,708.5 300.5,706.5 300.5,704.5 300.5,702.5 300.5,700.5 300.5,698.5 300.5,696.5 300.5,694.5 300.5,692.5 300.5,690.5 300.5,688.5 300.5,686.5 300.5,684.5 300.5,682.5 300.5,680.5Z" fill="#70ff00"/>
<path d="M300.5,680.5 302.5,680.5 304.5,680.5 306.5,680.5 308.5,680.5 310.5,680.5 312.5,680.5 314.5,680.5 316.5,680.5 318.5,680.5 320.5,680.5 321,681.5 321,683.5 321,685.5 321,687.5 321,689.5 321,691.5 321.5,692.5 321.5,694.5 322,696.5 322.5,698.5 323,700.5 323.5,701.5 324,703.5 324.5,704.5 325,705.5 326,706.5 326.5,707.5 327,708.5 328,709.5 328.5,710.5 329.5,711.5 330.5,712.5 331.5,713 332.5,714 333.5,715 334.5,715.5 335.5,716 336.5,717 337.5,717.5 338.5,718 339.5,718.5 340.5,719 341.5,719.5 342.5,720 344,720.5 345.5,721 346.5,721.5 348.5,722 349.5,722.5 351.5,723 353.5,723 354.5,723.5 356.5,723.5 358.5,723.5 360.5,723.5 362.5,723.5 364.5,723.5 366.5,723.5 368.5,723.5 369.5,723 371.5,723 373.5,723 375.5,722.5 377.5,722.5 379.5,722 381.5,721.5 383.5,721 385.5,721 386.5,720.5 388.5,720 390.5,720 392.5,720 394.5,720 396.5,719.5 398.5,719.5 400.5,719.5 402.5,719.5 404.5,719.5 406.5,719 408.5,719 410.5,719 412.5,719 414.5,719 415.5,719.5 417.5,719.5 419.5,719 421.5,719 423.5,718.5 425,718.5 426.5,718 428.5,717.5 430.5,717 432.5,716.5 433.5,716 435.5,715.5 436.5,715 437.5,714.5 438.5,714 439.5,713.5 440.5,712.5 441.5,711.5 442.5,711 443.5,709.5 444.5,708.5 445,707.5 445.5,706.5 446,705.5 446.5,704.5 447,703.5 447.5,701.5 448,699.5 448,697.5 448,695.5 448,693.5 448,691.5 448,689.5 447.5,687.5 447.5,685.5 447.5,683.5 447.5,681.5 448.5,680.5 450.5,680.5 452.5,680.5 454.5,680.5 456.5,680.5 458.5,680.5 460.5,680.5 462.5,680.5 464.5,680.5 466.5,680.5 468.5,680.5 470.5,680.5 472.5,680.5 474.5,680.5 476.5,680.5 478.5,680.5 480.5,680.5 482.5,680.5 484.5,680.5 486.5,680.5 488.5,680.5 490.5,680.5 492.5,680.5 494.5,680.5 496.5,680.5 498.5,680.5 500.5,680.5 502.5,680.5 504.5,680.5 506.5,680.5 508.5,680.5 510.5,680.5 512.5,680.5 514.5,680.5 516.5,680.5 518.5,680.5 520.5,680.5 520.5,682.5 520.5,684.5 520.5,686.5 520.5,688.5 520.5,690.5 520.5,692.5 520.5,694.5 520.5,696.5 520.5,698.5 520.5,700.5 520.5,702.5 520.5,704.5 520.5,706.5 520.5,708.5 520.5,710.5 520.5,712.5 520.5,714.5 520.5,716.5 520.5,718.5 520.5,720.5 520.5,722.5 520.5,724.5 520.5,726.5 520.5,728.5 520.5,730.5 520.5,732.5 520.5,734.5 520.5,736.5 520.5,738.5 519.5,739 517.5,739 515.5,739 513.5,739 512.5,739.5 510.5,739.5 509.5,740 508,740.5 506.5,741 505.5,741.5 503.5,742 502.5,742.5 501.5,743 500.5,744 499.5,744.5 498.5,745 497.5,746 496.5,746.5 495.5,747.5 494.5,748 493.5,749 492.5,750 491.5,751 490.5,752 489.5,753 488.5,754 487.5,755.5 486.5,756.5 486,757.5 485.5,758.5 484.5,759.5 484,760.5 483.5,761.5 483,762.5 482.5,763.5 482,764.5 481.5,765.5 481,767.5 480.5,768.5 480,770.5 479.5,771.5 479,773.5 478.5,775.5 478,777.5 478,779.5 477.5,780.5 477,782.5 477,784.5 476.5,785.5 476.5,787.5 476,788.5 476,790 475.5,791 475,793 474.5,795 474,797 473.5,798 473,799 472.5,800 472,801 471.5,802 470.5,803 469.5,804 468.5,804.5 467.5,805.5 466.5,806 465.5,806.5 464.5,807 463.5,807.5 461.5,808 459.5,808.5 457.5,808.5 456.5,809 454.5,809 452.5,809 451.5,809.5 449.5,809.5 447.5,810 445.5,810 444,810 442.5,810.5 440.5,810.5 438.5,811 436.5,811 435.5,811.5 433.5,811.5 431.5,812 429.5,812 428.5,812.5 426.5,812.5 425.5,813 423.5,813 421.5,813 419.5,813 417.5,813.5 415.5,814 414.5,814.5 413.5,816 413.5,818 414,819 414.5,820 415.5,821 416.5,821.5 417.5,822 418.5,822.5 419.5,823 421,823 422.5,823.5 424.5,823.5 426.5,824 428.5,824 430.5,824 432.5,824.5 434.5,824.5 436.5,824.5 438.5,824.5 440.5,825 442.5,825 444,825 445.5,825.5 447.5,825.5 448.5,826 450.5,826 451.5,826.5 453.5,826.5 454.5,827 456.5,827 457.5,827.5 459.5,827.5 460.5,828 462,828 463.5,828.5 465.5,829 467.5,829.5 468.5,830 470.5,830.5 471.5,831 473.5,831.5 475.5,832 476.5,832.5 478.5,833 480,833 481.5,833.5 483.5,834 485.5,834 487.5,834 489.5,834 491.5,834 493.5,833.5 495,833 496.5,832.5 497.5,832 498.5,831.5 499.5,831 500.5,830 501.5,829.5 502.5,828.5 503.5,827.5 504.5,826.5 505.5,825.5 506.5,824.5 507.5,823.5 508.5,822 509.5,821 510,820 511,819 512,818 512.5,817 513.5,816 514,815 515,814 515.5,813 516.5,812 517,811 518,810 518.5,809 519,808 520,807 520.5,808 520.5,810 520.5,812 520.5,814 520.5,816 520.5,818 520.5,820 520.5,822 520.5,824 520.5,826 520.5,828 520.5,830 520.5,832 520.5,834 520.5,836 520.5,838 520.5,840 520.5,842 520.5,844 520.5,846 520.5,848 520.5,850 520.5,852 520.5,854 520.5,856 520.5,858 520.5,860 520.5,862 520.5,864 520.5,866 520.5,868 520.5,870 520.5,872 520.5,874 520.5,876 520.5,878 520.5,880 520.5,882 520.5,884 520.5,886 520.5,888 520.5,890 520.5,892 520.5,894 520.5,896 520.5,898 520.5,900 518.5,900 516.5,900 514.5,900 512.5,900 510.5,900 508.5,900 506.5,900 504.5,900 502.5,900 500.5,900 498.5,900 496.5,900 494.5,900 492.5,900 490.5,900 488.5,900 486.5,900 484.5,900 482.5,900 480.5,900 478.5,900 476.5,900 474.5,900 472.5,900 470.5,900 468.5,900 466.5,900 464.5,900 462.5,900 460.5,900 458.5,900 456.5,900 454.5,900 452.5,900 450.5,900 448.5,900 446.5,900 444.5,900 442.5,900 440.5,900 438.5,900 436.5,900 434.5,900 432.5,900 430.5,900 428.5,900 426.5,900 424.5,900 422.5,900 420.5,900 418.5,900 417.5,899 417,898 416.5,897 416,895 415.5,894 415,893 414.5,892 414,891 413.5,890 413,889 412.5,888 412,887 411.5,886 410.5,885 410,884 409,883 408.5,882 408,881 407,880 406,879 405.5,878 404.5,877 403.5,876 402.5,875 401.5,874.5 400.5,873.5 399.5,873 398.5,872 397.5,871.5 396.5,871 395.5,870.5 394.5,870 393.5,869.5 392.5,869 390.5,868.5 389.5,868 387.5,867.5 385.5,867 383.5,867 381.5,867 380.5,866.5 378.5,866.5 376.5,866.5 374.5,866.5 373.5,867 372,867 370.5,867.5 368.5,868 366.5,868.5 364.5,869 362.5,869.5 360.5,870 359.5,870.5 358.5,871 356.5,871.5 355.5,872 354.5,872.5 353.5,873 352.5,873.5 351.5,874 350.5,874.5 349,875 347.5,875.5 346.5,876 345.5,876.5 344.5,877 343.5,877.5 342.5,878.5 341.5,879 340.5,879.5 339.5,880 338.5,880.5 337.5,881 336.5,881.5 335.5,882.5 334.5,883 333.5,883.5 332.5,884.5 331.5,885 330.5,886 329.5,887 328.5,888 327.5,889 327,890 326,891 325.5,892 324.5,893 324,894 323.5,895 323,896 322.5,898 322,900 320.5,900 318.5,900 316.5,900 314.5,900 312.5,900 310.5,900 308.5,900 306.5,900 304.5,900 302.5,900 300.5,900 300.5,898 300.5,896 300.5,894 300.5,892 300.5,890 300.5,888 300.5,886 300.5,884 300.5,882 300.5,880 300.5,878 300.5,876 300.5,874 300.5,872 300.5,870 300.5,868 300.5,866 300.5,864 300.5,862 300.5,860 300.5,858 300.5,856 300.5,854 300.5,852 300.5,850 300.5,848 300.5,846 300.5,844 300.5,842 300.5,840 300.5,838 300.5,836 300.5,834 300.5,832 300.5,830 300.5,828 300.5,826 300.5,824 300.5,822 300.5,820 300.5,818 300.5,816 300.5,814 300.5,812 300.5,810 300.5,808 300.5,806 300.5,804 300.5,802 300.5,800 300.5,798 300.5,796 300.5,794 300.5,792 300.5,790 300.5,788.5 300.5,786.5 300.5,784.5 300.5,782.5 300.5,780.5 300.5,778.5 300.5,776.5 300.5,774.5 300.5,772.5 300.5,770.5 300.5,768.5 300.5,766.5 300.5,764.5 300.5,762.5 300.5,760.5 300.5,758.5 300.5,756.5 300.5,754.5 300.5,752.5 300.5,750.5 300.5,748.5 300.5,746.5 300.5,744.5 300.5,742.5 300.5,740.5 300.5,738.5 300.5,736.5 300.5,734.5 300.5,732.5 300.5,730.5 300.5,728.5 300.5,726.5 300.5,724.5 300.5,722.5 300.5,720.5 300.5,718.5 300.5,716.5 300.5,714.5 300.5,712.5 300.5,710.5 300.5,708.5 300.5,706.5 300.5,704.5 300.5,702.5 300.5,700.5 300.5,698.5 300.5,696.5 300.5,694.5 300.5,692.5 300.5,690.5 300.5,688.5 300.5,686.5 300.5,684.5 300.5,682.5 300.5,680.5Z" fill="#5cff00"/>
<path d="M300.5,680.5 302.5,680.5 304.5,680.5 306.5,680.5 308.5,680.5 310.5,680.5 312.5,680.5 314.5,680.5 316.5,680.5 317,681.5 317,683.5 317,685.5 317,687.5 317,689.5 317,691.5 317.5,692.5 317.5,694 317.5,695.5 318,696.5 318.5,698.5 319,700.5 319.5,702.5 320,703.5 320.5,704.5 321,705.5 321.5,706.5 322,707.5 322.5,708.5 323.5,709.5 324,710.5 325,711.5 326,712.5 327,713.5 328,714.5 329,715.5 330.5,716.5 331.5,717 332.5,717.5 333.5,718 334.5,718.5 335.5,719 336.5,719.5 337.5,720 338.5,720.5 339.5,721 340.5,721.5 342.5,722 343.5,722.5 345.5,723 347.5,723.5 349.5,724 351.5,724.5 353.5,724.5 354.5,725 356.5,725 358.5,725 360.5,725 362.5,725 364.5,724.5 366.5,724.5 368.5,724.5 370.5,724 372.5,724 374.5,724 375.5,723.5 377.5,723.5 379.5,723 381.5,722.5 383.5,722 385.5,721.5 387,721.5 388.5,721 390.5,721 392.5,721 394.5,720.5 396.5,720.5 398.5,720.5 400.5,720.5 402.5,720.5 404.5,720.5 406.5,720 408.5,720 410.5,720 412.5,720 413.5,720.5 415.5,720.5 417.5,720.5 419.5,720.5 421.5,720.5 422.5,720 424.5,720 426.5,719.5 428,719.5 429.5,719 431.5,719 432.5,718.5 434.5,718 436.5,717.5 438.5,717 439.5,716.5 440.5,716 441.5,715.5 442.5,715 443.5,714.5 444.5,713.5 445.5,712.5 446.5,711.5 447.5,710.5 448,709.5 448.5,708.5 449,707.5 449.5,706.5 450,704.5 450.5,702.5 450.5,700.5 451,699.5 451,697.5 451,695.5 450.5,693.5 450.5,691.5 450.5,689.5 450,687.5 450,685.5 450,683.5 450,681.5 450.5,680.5 452.5,680.5 454.5,680.5 456.5,680.5 458.5,680.5 460.5,680.5 462.5,680.5 464.5,680.5 466.5,680.5 468.5,680.5 470.5,680.5 472.5,680.5 474.5,680.5 476.5,680.5 478.5,680.5 480.5,680.5 482.5,680.5 484.5,680.5 486.5,680.5 488.5,680.5 490.5,680.5 492.5,680.5 494.5,680.5 496.5,680.5 498.5,680.5 500.5,680.5 502.5,680.5 504.5,680.5 506.5,680.5 508.5,680.5 510.5,680.5 512.5,680.5 514.5,680.5 516.5,680.5 518.5,680.5 520.5,680.5 520.5,682.5 520.5,684.5 520.5,686.5 520.5,688.5 520.5,690.5 520.5,692.5 520.5,694.5 520.5,696.5 520.5,698.5 520.5,700.5 520.5,702.5 520.5,704.5 520.5,706.5 520.5,708.5 520.5,710.5 520.5,712.5 520.5,714.5 520.5,716.5 520.5,718.5 520.5,720.5 520.5,722.5 520.5,724.5 520.5,726.5 520.5,728.5 520.5,730.5 520.5,732.5 520.5,734.5 520.5,736 518.5,736 516.5,736 514.5,736 512.5,736 511.5,736.5 509.5,737 508,737.5 506.5,738 505,738.5 503.5,739 502.5,739.5 501.5,740 500.5,740.5 499.5,741 498.5,741.5 497.5,742.5 496.5,743 495.5,744 494.5,744.5 493.5,745.5 492.5,746 491.5,747 490.5,748 489.5,749 488.5,750 487.5,751 486.5,752 485.5,753.5 485,754.5 484,755.5 483.5,756.5 483,757.5 482.5,758.5 482,759.5 481.5,760.5 481,761.5 480.5,762.5 480,764.5 479.5,765.5 479,767.5 478.5,769.5 478,771.5 477.5,773.5 477,775.5 476.5,777.5 476.5,779.5 476,780.5 475.5,782.5 475.5,784.5 475,785.5 475,787.5 474.5,788.5 474.5,790 474,791 473.5,793 473,794 472.5,796 472,797 471.5,798 470.5,799 470,800 469.5,801 468.5,802 467.5,802.5 466.5,803.5 465.5,804 464.5,804.5 463.5,805 462.5,805.5 460.5,806 458.5,806 457.5,806.5 455.5,806.5 453.5,806.5 452.5,807 450.5,807 448.5,807 446.5,807.5 444.5,807.5 442.5,807.5 440.5,807.5 439.5,808 437.5,808 435.5,808 433.5,808 432.5,808.5 430.5,808.5 428.5,808.5 426.5,808.5 425.5,809 423.5,809 421.5,809 419.5,808.5 417.5,808.5 415.5,808.5 414.5,809 412.5,809 411.5,809.5 409.5,810 407.5,810.5 406.5,811 405.5,811.5 404.5,812 403.5,813 403,814 402.5,815 403,816 403.5,817.5 404.5,818.5 405.5,819.5 406.5,820.5 407.5,821 408.5,822 409.5,822.5 410.5,823.5 411.5,824 412.5,824.5 413.5,825 414.5,825.5 415.5,826 417.5,826.5 419.5,827 421.5,827 423.5,827 425.5,827 427.5,827 429.5,827 431.5,827 433.5,827 435.5,827 437.5,827 439.5,827 441.5,827 443.5,827 445.5,827.5 447.5,827.5 449.5,828 451.5,828 452.5,828.5 454.5,828.5 456.5,829 458,829 459.5,829.5 461.5,830 463.5,830.5 465.5,831 467.5,831.5 469.5,832 470.5,832.5 472.5,833 474.5,833.5 475.5,834 477,834 478.5,834.5 480.5,835 482,835 483.5,835.5 485.5,835.5 487.5,835.5 489.5,835.5 491.5,835.5 493.5,835.5 495.5,835.5 496.5,835 498.5,835 499.5,834.5 500.5,834 501.5,833.5 502.5,833 503.5,832 504.5,831.5 505.5,830.5 506.5,829 507.5,828 508.5,827 509,826 510,825 510.5,824 511.5,823 512,822 513,821 514,820 514.5,819 515.5,818 516,817 516.5,816 517.5,815 518,814 519,813 519.5,812 520,811 520.5,812 520.5,814 520.5,816 520.5,818 520.5,820 520.5,822 520.5,824 520.5,826 520.5,828 520.5,830 520.5,832 520.5,834 520.5,836 520.5,838 520.5,840 520.5,842 520.5,844 520.5,846 520.5,848 520.5,850 520.5,852 520.5,854 520.5,856 520.5,858 520.5,860 520.5,862 520.5,864 520.5,866 520.5,868 520.5,870 520.5,872 520.5,874 520.5,876 520.5,878 520.5,880 520.5,882 520.5,884 520.5,886 520.5,888 520.5,890 520.5,892 520.5,894 520.5,896 520.5,898 520.5,900 518.5,900 516.5,900 514.5,900 512.5,900 510.5,900 508.5,900 506.5,900 504.5,900 502.5,900 500.5,900 498.5,900 496.5,900 494.5,900 492.5,900 490.5,900 488.5,900 486.5,900 484.5,900 482.5,900 480.5,900 478.5,900 476.5,900 474.5,900 472.5,900 470.5,900 468.5,900 466.5,900 464.5,900 462.5,900 460.5,900 458.5,900 456.5,900 454.5,900 452.5,900 450.5,900 448.5,900 446.5,900 444.5,900 442.5,900 440.5,900 438.5,900 436.5,900 434.5,900 432.5,900 430.5,900 428.5,900 426.5,900 424.5,900 422.5,900 420.5,900 419.5,899 419,898 418.5,896 418,895 417.5,894 417,893 416.5,892 416,891 415.5,890 415,889 414.5,888 414,887 413.5,886 413,885 412.5,884 411.5,883 411,882 410,881 409.5,880 408.5,879 408,878 407,877 406.5,876 405.5,875 404.5,874 403.5,873 402.5,872 401.5,871.5 400.5,870.5 399.5,870 398.5,869.5 397.5,869 396.5,868 395.5,867.5 394,867 392.5,866.5 391.5,866 389.5,865.5 387.5,865 385.5,864.5 383.5,864.5 381.5,864 379.5,864 377.5,864 376,864 374.5,864 373.5,864.5 371.5,864.5 369.5,865 367.5,865.5 365.5,866 364,866 362.5,866.5 361.5,867 359.5,867.5 358.5,868 356.5,868.5 355.5,869 354.5,869.5 352.5,870 351.5,870.5 350.5,871 349.5,871.5 347.5,872 346.5,872.5 345.5,873 344.5,873.5 343.5,874 342.5,874.5 341.5,875 340.5,875.5 339.5,876 338.5,876.5 337.5,877 336.5,877.5 335.5,878 334.5,878.5 333.5,879 332.5,879.5 331.5,880.5 330.5,881 329.5,881.5 328.5,882.5 327.5,883.5 326.5,884 325.5,885 324.5,886 323.5,887 323,888 322,889 321.5,890 321,891 320.5,892 320,893 319.5,894 319,895 318.5,897 318,899 317.5,900 315.5,900 313.5,900 311.5,900 309.5,900 307.5,900 305.5,900 303.5,900 301.5,900 300.5,899 300.5,897 300.5,895 300.5,893 300.5,891 300.5,889 300.5,887 300.5,885 300.5,883 300.5,881 300.5,879 300.5,877 300.5,875 300.5,873 300.5,871 300.5,869 300.5,867 300.5,865 300.5,863 300.5,861 300.5,859 300.5,857 300.5,855 300.5,853 300.5,851 300.5,849 300.5,847 300.5,845 300.5,843 300.5,841 300.5,839 300.5,837 300.5,835 300.5,833 300.5,831 300.5,829 300.5,827 300.5,825 300.5,823 300.5,821 300.5,819 300.5,817 300.5,815 300.5,813 300.5,811 300.5,809 300.5,807 300.5,805 300.5,803 300.5,801 300.5,799 300.5,797 300.5,795 300.5,793 300.5,791 300.5,789.5 300.5,787.5 300.5,785.5 300.5,783.5 300.5,781.5 300.5,779.5 300.5,777.5 300.5,775.5 300.5,773.5 300.5,771.5 300.5,769.5 300.5,767.5 300.5,765.5 300.5,763.5 300.5,761.5 300.5,759.5 300.5,757.5 300.5,755.5 300.5,753.5 300.5,751.5 300.5,749.5 300.5,747.5 300.5,745.5 300.5,743.5 300.5,741.5 300.5,739.5 300.5,737.5 300.5,735.5 300.5,733.5 300.5,731.5 300.5,729.5 300.5,727.5 300.5,725.5 300.5,723.5 300.5,721.5 300.5,719.5 300.5,717.5 300.5,715.5 300.5,713.5 300.5,711.5 300.5,709.5 300.5,707.5 300.5,705.5 300.5,703.5 300.5,701.5 300.5,699.5 300.5,697.5 300.5,695.5 300.5,693.5 300.5,691.5 300.5,689.5 300.5,687.5 300.5,685.5 300.5,683.5 300.5,681.5Z" fill="#47ff00"/>
<path d="M300.5,680.5 302.5,680.5 304.5,680.5 306.5,680.5 308.5,680.5 310.5,680.5 312.5,680.5 312.5,682.5 312.5,684.5 313,686.5 313,688.5 313,690.5 313,692.5 313,694.5 313.5,695.5 313.5,697.5 314,698.5 314,700.5 314.5,701.5 315,702.5 315.5,704.5 316,705.5 316.5,706.5 317,707.5 317.5,708.5 318,709.5 318.5,710.5 319.5,711.5 320,712.5 321,713.5 322,714.5 323.5,715.5 324.5,716.5 325.5,717 326.5,718 327.5,718.5 328.5,719 329.5,719.5 330.5,720 331.5,720.5 332.5,721 333.5,721.5 335.5,722 336.5,722.5 338.5,723 340,723.5 341.5,724 343.5,724.5 345.5,724.5 346.5,725 348.5,725.5 350.5,725.5 351.5,726 353.5,726 355.5,726 357.5,726.5 358.5,726 360.5,726 362.5,726 364.5,726 366.5,725.5 368.5,725.5 370.5,725.5 371.5,725 373.5,725 375.5,724.5 377.5,724.5 379.5,724 381.5,723.5 383.5,723 385.5,722.5 387,722.5 388.5,722 390.5,722 392.5,721.5 394.5,721.5 396.5,721.5 398.5,721.5 400.5,721.5 402.5,721.5 404.5,721.5 406.5,721 408.5,721 410.5,721 412.5,721.5 414,721.5 415.5,721.5 417.5,721.5 419.5,721.5 421.5,721.5 423,721.5 424.5,721 426.5,721 428.5,721 430.5,720.5 432.5,720.5 434.5,720.5 435.5,720 437.5,720 438.5,719.5 440,719.5 441.5,719 442.5,718.5 444.5,718 445.5,717 446.5,716.5 447.5,716 448.5,715 449.5,713.5 450.5,712.5 451,711.5 451.5,710.5 452,709.5 452.5,708.5 453,706.5 453,704.5 453.5,703.5 453.5,701.5 453.5,699.5 453.5,698 453.5,696.5 453.5,694.5 453,693.5 453,691.5 453,689.5 452.5,688.5 452.5,686.5 452.5,684.5 452,682.5 452,680.5 453.5,680.5 455.5,680.5 457.5,680.5 459.5,680.5 461.5,680.5 463.5,680.5 465.5,680.5 467.5,680.5 469.5,680.5 471.5,680.5 473.5,680.5 475.5,680.5 477.5,680.5 479.5,680.5 481.5,680.5 483.5,680.5 485.5,680.5 487.5,680.5 489.5,680.5 491.5,680.5 493.5,680.5 495.5,680.5 497.5,680.5 499.5,680.5 501.5,680.5 503.5,680.5 505.5,680.5 507.5,680.5 509.5,680.5 511.5,680.5 513.5,680.5 515.5,680.5 517.5,680.5 519.5,680.5 520.5,681.5 520.5,683.5 520.5,685.5 520.5,687.5 520.5,689.5 520.5,691.5 520.5,693.5 520.5,695.5 520.5,697.5 520.5,699.5 520.5,701.5 520.5,703.5 520.5,705.5 520.5,707.5 520.5,709.5 520.5,711.5 520.5,713.5 520.5,715.5 520.5,717.5 520.5,719.5 520.5,721.5 520.5,723.5 520.5,725.5 520.5,727.5 520.5,729.5 520.5,731.5 519.5,732.5 517.5,732.5 515.5,732.5 514.5,733 512.5,733 511.5,733.5 509.5,734 507.5,734.5 505.5,735 504.5,735.5 503.5,736 502,736.5 500.5,737 499.5,737.5 498.5,738 497.5,739 496.5,739.5 495.5,740 494.5,740.5 493.5,741.5 492.5,742 491.5,743 490.5,743.5 489.5,744.5 488.5,745.5 487.5,746.5 486.5,747.5 485.5,748.5 484.5,749.5 484,750.5 483,751.5 482.5,752.5 482,753.5 481.5,754.5 481,755.5 480.5,756.5 480,757.5 479.5,758.5 479,760.5 478.5,762.5 478,764.5 477.5,766.5 477,768.5 476.5,770.5 476,772.5 475.5,774.5 475.5,776.5 475,777.5 474.5,779.5 474.5,781.5 474,782.5 474,784.5 473.5,785.5 473,787.5 473,789.5 472.5,790.5 472,792 471.5,793 471,794 470.5,795 470,796 469.5,797 469,798 468.5,799 467.5,800 466.5,801 465.5,801.5 464.5,802 463.5,802.5 462.5,803 461.5,803.5 459.5,804 457.5,804 456.5,804.5 454.5,804.5 452.5,804.5 450.5,804.5 449.5,805 447.5,805 445.5,805 443.5,805 441.5,805 439.5,805 437.5,805 436,805 434.5,805.5 432.5,805.5 430.5,805.5 428.5,805.5 426.5,805.5 424.5,805.5 422.5,805.5 420.5,805.5 418.5,805.5 416.5,805 414.5,805 413.5,805.5 411.5,805.5 409.5,805.5 407.5,806 405.5,806 404,806 402.5,806.5 401.5,807 400,807 398.5,807.5 397.5,808 396.5,808.5 395.5,809 394.5,809.5 392.5,810 391.5,810.5 390.5,811 389.5,811.5 388.5,812 387.5,813 386.5,814 386,815 386.5,817 387.5,818 388.5,818.5 389.5,819 390.5,819.5 391.5,820 392.5,820.5 393.5,821 394.5,821.5 395.5,822 396.5,822.5 397.5,823 398.5,823.5 400.5,824 401.5,824.5 402.5,825 404.5,825.5 405.5,826 407.5,826.5 408.5,827 409.5,827.5 411.5,828 412.5,828.5 414.5,829 416,829 417.5,829.5 419.5,829.5 421.5,829.5 423.5,829.5 425.5,829.5 426.5,829 428.5,829 430.5,829 432.5,829 434.5,828.5 436.5,828.5 438.5,828.5 440.5,828.5 442.5,828.5 443.5,829 445.5,829 447.5,829 448.5,829.5 450.5,829.5 452.5,830 454.5,830 455.5,830.5 457.5,830.5 458.5,831 460,831 461.5,831.5 463.5,832 465.5,832.5 467.5,833 468.5,833.5 470.5,834 472.5,834.5 474.5,835 476.5,835.5 478.5,835.5 479.5,836 481,836 482.5,836.5 484.5,836.5 486.5,836.5 488.5,837 490.5,837 492.5,837 494.5,837 495.5,836.5 497.5,836.5 499.5,836.5 501.5,836 503.5,835.5 505,835 506.5,834.5 507.5,833.5 508.5,832.5 509.5,831.5 510.5,830.5 511.5,829 512,828 512.5,827 513.5,826 514,825 515,824 515.5,823 516,822 517,821 517.5,820 518.5,819 519,818 519.5,817 520.5,816 520.5,818 520.5,820 520.5,822 520.5,824 520.5,826 520.5,828 520.5,830 520.5,832 520.5,834 520.5,836 520.5,838 520.5,840 520.5,842 520.5,844 520.5,846 520.5,848 520.5,850 520.5,852 520.5,854 520.5,856 520.5,858 520.5,860 520.5,862 520.5,864 520.5,866 520.5,868 520.5,870 520.5,872 520.5,874 520.5,876 520.5,878 520.5,880 520.5,882 520.5,884 520.5,886 520.5,888 520.5,890 520.5,892 520.5,894 520.5,896 520.5,898 520.5,900 518.5,900 516.5,900 514.5,900 512.5,900 510.5,900 508.5,900 506.5,900 504.5,900 502.5,900 500.5,900 498.5,900 496.5,900 494.5,900 492.5,900 490.5,900 488.5,900 486.5,900 484.5,900 482.5,900 480.5,900 478.5,900 476.5,900 474.5,900 472.5,900 470.5,900 468.5,900 466.5,900 464.5,900 462.5,900 460.5,900 458.5,900 456.5,900 454.5,900 452.5,900 450.5,900 448.5,900 446.5,900 444.5,900 442.5,900 440.5,900 438.5,900 436.5,900 434.5,900 432.5,900 430.5,900 428.5,900 426.5,900 424.5,900 422.5,900 422,899 421.5,898 421,897 420.5,896 420,894 419.5,893 419,892 418.5,891 418,890 417.5,889 417,888 416.5,887 416,886 415,885 414.5,884 414,883 413.5,882 412.5,881 412,880 411.5,879 410.5,878 410,877 409,876 408.5,875 407.5,874 406.5,873 406,872 405,871 404,870 403,869 401.5,868 400.5,867.5 399.5,866.5 398.5,866 397.5,865.5 396.5,865 395.5,864.5 394.5,864 392.5,863.5 391.5,863 389.5,862.5 387.5,862 385.5,862 383.5,861.5 381.5,861.5 379.5,861.5 377.5,861.5 375.5,861.5 373.5,861.5 371.5,861.5 370.5,862 369,862 367.5,862.5 365.5,862.5 364.5,863 363,863 361.5,863.5 359.5,864 358.5,864.5 356.5,865 355.5,865.5 353.5,866 352.5,866.5 350.5,867 349.5,867.5 347.5,868 346.5,868.5 344.5,869 343.5,869.5 342.5,870 341.5,870.5 340.5,871 338.5,871.5 337.5,872 336.5,872.5 335.5,873 334.5,873.5 333.5,874 332.5,874.5 331.5,875 330.5,875.5 329.5,876 328.5,876.5 327.5,877.5 326.5,878 325.5,878.5 324.5,879.5 323.5,880.5 322.5,881 321.5,882 321,883 320,884 319.5,885 318.5,886 318,887 317.5,888 317,889 316.5,890 316,891 315.5,892 315,894 314.5,895 314.5,897 314,898 314,900 312.5,900 310.5,900 308.5,900 306.5,900 304.5,900 302.5,900 300.5,900 300.5,898 300.5,896 300.5,894 300.5,892 300.5,890 300.5,888 300.5,886 300.5,884 300.5,882 300.5,880 300.5,878 300.5,876 300.5,874 300.5,872 300.5,870 300.5,868 300.5,866 300.5,864 300.5,862 300.5,860 300.5,858 300.5,856 300.5,854 300.5,852 300.5,850 300.5,848 300.5,846 300.5,844 300.5,842 300.5,840 300.5,838 300.5,836 300.5,834 300.5,832 300.5,830 300.5,828 300.5,826 300.5,824 300.5,822 300.5,820 300.5,818 300.5,816 300.5,814 300.5,812 300.5,810 300.5,808 300.5,806 300.5,804 300.5,802 300.5,800 300.5,798 300.5,796 300.5,794 300.5,792 300.5,790 300.5,788.5 300.5,786.5 300.5,784.5 300.5,782.5 300.5,780.5 300.5,778.5 300.5,776.5 300.5,774.5 300.5,772.5 300.5,770.5 300.5,768.5 300.5,766.5 300.5,764.5 300.5,762.5 300.5,760.5 300.5,758.5 300.5,756.5 300.5,754.5 300.5,752.5 300.5,750.5 300.5,748.5 300.5,746.5 300.5,744.5 300.5,742.5 300.5,740.5 300.5,738.5 300.5,736.5 300.5,734.5 300.5,732.5 300.5,730.5 300.5,728.5 300.5,726.5 300.5,724.5 300.5,722.5 300.5,720.5 300.5,718.5 300.5,716.5 300.5,714.5 300.5,712.5 300.5,710.5 300.5,708.5 300.5,706.5 300.5,704.5 300.5,702.5 300.5,700.5 300.5,698.5 300.5,696.5 300.5,694.5 300.5,692.5 300.5,690.5 300.5,688.5 300.5,686.5 300.5,684.5 300.5,682.5 300.5,680.5Z" fill="#33ff00"/>
<path d="M300.5,680.5 302.5,680.5 304.5,680.5 306.5,680.5 308,680.5 308,682.5 308,684.5 308,686.5 308,688.5 308.5,689.5 308.5,691.5 308.5,693.5 308.5,695.5 309,697.5 309,699.5 309.5,701.5 310,703.5 310.5,705.5 311,707.5 311.5,708.5 312,709.5 312.5,710.5 313,711.5 313.5,712.5 314,713.5 315,714.5 316,715.5 317,716.5 318,717.5 319.5,718.5 320.5,719 321.5,720 322.5,720.5 323.5,721 325,721.5 326.5,722 327.5,722.5 329.5,723 330.5,723.5 332.5,724 334.5,724.5 336.5,725 338.5,725 339.5,725.5 341.5,726 343.5,726 344.5,726.5 346.5,726.5 347.5,727 349.5,727 351.5,727.5 353.5,727.5 355.5,727.5 357.5,727.5 359.5,727.5 361.5,727.5 363.5,727 365.5,727 367.5,726.5 369.5,726.5 371.5,726.5 372.5,726 374.5,726 376.5,725.5 378,725.5 379.5,725 381.5,724.5 383.5,724 385.5,723.5 387.5,723 389.5,723 391.5,722.5 393.5,722.5 395.5,722.5 397.5,722.5 399.5,722.5 401.5,722.5 403.5,722.5 405.5,722.5 407.5,722 409.5,722 411.5,722.5 413.5,722.5 415.5,722.5 417.5,722.5 419.5,722.5 421.5,722.5 423.5,722.5 425.5,722.5 427.5,722.5 429.5,722 431.5,722 433.5,722 435.5,722 437.5,722 439.5,722 441.5,722 443.5,721.5 445,721.5 446.5,721 447.5,720.5 448.5,720 449.5,719.5 450.5,719 451.5,718 452.5,717 453.5,715.5 454,714.5 454.5,713.5 455,712.5 455.5,710.5 456,708.5 456,706.5 456,704.5 456,702.5 456,700.5 456,698.5 456,696.5 455.5,695.5 455.5,693.5 455.5,691.5 455,690.5 455,688.5 454.5,686.5 454.5,684.5 454.5,682.5 454.5,680.5 456.5,680.5 458.5,680.5 460.5,680.5 462.5,680.5 464.5,680.5 466.5,680.5 468.5,680.5 470.5,680.5 472.5,680.5 474.5,680.5 476.5,680.5 478.5,680.5 480.5,680.5 482.5,680.5 484.5,680.5 486.5,680.5 488.5,680.5 490.5,680.5 492.5,680.5 494.5,680.5 496.5,680.5 498.5,680.5 500.5,680.5 502.5,680.5 504.5,680.5 506.5,680.5 508.5,680.5 510.5,680.5 512.5,680.5 514.5,680.5 516.5,680.5 518.5,680.5 520.5,680.5 520.5,682.5 520.5,684.5 520.5,686.5 520.5,688.5 520.5,690.5 520.5,692.5 520.5,694.5 520.5,696.5 520.5,698.5 520.5,700.5 520.5,702.5 520.5,704.5 520.5,706.5 520.5,708.5 520.5,710.5 520.5,712.5 520.5,714.5 520.5,716.5 520.5,718.5 520.5,720.5 520.5,722.5 520.5,724.5 520.5,726.5 520.5,728.5 519.5,729 517.5,729.5 516,729.5 514.5,729.5 513.5,730 511.5,730 510.5,730.5 508.5,731 506.5,731.5 504.5,732 503.5,732.5 502.5,733 501,733.5 499.5,734 498.5,734.5 497.5,735 496.5,735.5 495.5,736 494.5,736.5 493.5,737 492.5,737.5 491.5,738.5 490.5,739 489.5,739.5 488.5,740.5 487.5,741 486.5,742 485.5,742.5 485,743.5 483.5,744.5 482.5,745.5 482,746.5 481,747.5 480.5,748.5 480,749.5 479.5,750.5 479,751.5 478.5,752.5 478,754.5 477.5,756.5 477,758.5 477,760.5 476.5,761.5 476.5,763.5 476,764.5 475.5,766.5 475.5,768.5 475,769.5 474.5,771.5 474.5,773.5 474,774.5 473.5,776.5 473.5,778.5 473,779.5 472.5,781.5 472.5,783.5 472,784.5 471.5,786.5 471.5,788.5 471,789.5 470.5,791 470,792 469.5,793 469,794 468.5,795 468,796 467.5,797 466.5,798 465.5,799 464.5,799.5 463.5,800 462.5,801 460.5,801.5 459.5,802 457.5,802 456.5,802.5 454.5,802.5 452.5,802.5 450.5,802.5 448.5,802.5 447.5,803 445.5,803 443.5,803 441.5,803 439.5,802.5 437.5,802.5 435.5,802.5 433.5,802.5 431.5,802.5 429.5,802.5 427.5,802.5 425.5,802.5 423.5,802.5 421.5,802.5 419.5,802.5 417.5,802.5 415.5,802.5 413.5,802.5 411.5,802.5 409.5,802.5 407.5,802.5 405.5,802.5 403.5,802.5 401.5,803 399.5,803 398.5,803.5 396.5,803.5 395.5,804 393.5,804 391.5,804.5 389.5,804.5 387.5,805 385.5,805 383.5,805 382.5,805.5 380.5,805.5 378.5,805.5 377.5,806 375.5,806 373.5,806 372.5,806.5 370.5,806.5 368.5,806.5 367.5,807 365.5,807 363.5,807.5 361.5,807.5 359.5,808 357.5,808 356.5,808.5 354.5,808.5 352.5,809 350.5,809 349.5,809.5 347.5,809.5 346.5,810 344.5,810 343.5,810.5 341.5,811 340,811 338.5,811.5 337.5,812 336.5,813 335.5,813.5 334.5,815 335,816 335.5,817 336.5,818 337.5,818.5 338.5,819 339.5,819.5 341.5,820 343.5,820.5 345.5,821 347,821 348.5,821.5 350.5,822 352.5,822 353.5,822.5 355.5,822.5 356.5,823 358.5,823 359.5,823.5 361.5,823.5 362.5,824 364.5,824 365.5,824.5 367.5,824.5 368.5,825 370.5,825 372.5,825.5 374.5,825.5 375.5,826 377.5,826 379.5,826.5 381.5,826.5 383.5,827 385.5,827 386.5,827.5 388.5,827.5 390.5,828 392,828 393.5,828.5 395.5,828.5 396.5,829 398,829 399.5,829.5 401.5,829.5 402.5,830 404.5,830 405.5,830.5 407.5,830.5 408.5,831 410,831 411.5,831.5 413.5,831.5 415.5,832 417.5,832 419.5,832 421.5,831.5 423.5,831.5 425.5,831.5 426.5,831 428.5,831 430.5,830.5 432.5,830.5 434.5,830.5 436.5,830.5 437.5,830 439.5,830 441.5,830 443.5,830 444.5,830.5 446.5,830.5 448.5,830.5 449.5,831 451.5,831 453.5,831.5 455.5,831.5 456.5,832 458,832 459.5,832.5 461.5,833 463.5,833.5 465.5,834 467.5,834.5 469.5,835 471.5,835.5 473.5,835.5 474.5,836 476.5,836.5 478.5,836.5 480.5,837 482.5,837 484.5,837.5 486.5,837.5 488.5,837.5 490.5,837.5 492.5,837.5 494.5,837.5 496.5,837.5 498.5,837.5 500.5,837.5 502.5,837.5 504.5,837 506.5,837 507.5,836.5 509.5,836 510.5,835.5 511.5,835 512.5,834.5 513.5,833.5 514.5,832 515,831 516,830 516.5,829 517,828 517.5,827 518.5,826 519,825 519.5,824 520,823 520.5,824 520.5,826 520.5,828 520.5,830 520.5,832 520.5,834 520.5,836 520.5,838 520.5,840 520.5,842 520.5,844 520.5,846 520.5,848 520.5,850 520.5,852 520.5,854 520.5,856 520.5,858 520.5,860 520.5,862 520.5,864 520.5,866 520.5,868 520.5,870 520.5,872 520.5,874 520.5,876 520.5,878 520.5,880 520.5,882 520.5,884 520.5,886 520.5,888 520.5,890 520.5,892 520.5,894 520.5,896 520.5,898 520.5,900 518.5,900 516.5,900 514.5,900 512.5,900 510.5,900 508.5,900 506.5,900 504.5,900 502.5,900 500.5,900 498.5,900 496.5,900 494.5,900 492.5,900 490.5,900 488.5,900 486.5,900 484.5,900 482.5,900 480.5,900 478.5,900 476.5,900 474.5,900 472.5,900 470.5,900 468.5,900 466.5,900 464.5,900 462.5,900 460.5,900 458.5,900 456.5,900 454.5,900 452.5,900 450.5,900 448.5,900 446.5,900 444.5,900 442.5,900 440.5,900 438.5,900 436.5,900 434.5,900 432.5,900 430.5,900 428.5,900 426.5,900 424.5,900 424,898 423.5,897 423,896 422.5,895 422,894 421.5,893 421,892 420.5,891 420,890 419.5,889 419,888 418.5,887 418,886 417.5,885 417,884 416.5,883 415.5,882 415,881 414.5,880 414,879 413.5,878 412.5,877 412,876 411.5,875 410.5,874 410,873 409,872 408.5,871 407.5,870 407,869 406,868 405,867 404,866 402.5,865 401.5,864 400.5,863.5 399.5,863 398.5,862.5 397.5,862 396.5,861.5 395,861 393.5,860.5 391.5,860 389.5,859.5 387.5,859.5 386.5,859 384.5,859 382.5,858.5 380.5,858.5 378.5,858.5 376.5,858.5 374.5,858.5 372.5,858.5 370.5,858.5 369.5,859 367.5,859 365.5,859.5 363.5,859.5 361.5,860 360,860 358.5,860.5 356.5,861 354.5,861.5 352.5,862 351,862 349.5,862.5 348.5,863 346.5,863.5 344.5,864 342.5,864.5 341.5,865 339.5,865.5 337.5,866 336.5,866.5 334.5,867 333.5,867.5 332.5,868 331.5,868.5 329.5,869 328.5,869.5 327.5,870 326.5,870.5 325.5,871.5 324.5,872 323.5,872.5 322.5,873 321.5,874 320.5,875 319.5,875.5 318.5,876.5 317.5,877.5 316.5,879 315.5,880 315,881 314.5,882 314,883 313.5,884 313,885 312.5,886 312,887 311.5,889 311,891 310.5,893 310.5,895 310,896 310,898 310,900 308.5,900 306.5,900 304.5,900 302.5,900 300.5,900 300.5,898 300.5,896 300.5,894 300.5,892 300.5,890 300.5,888 300.5,886 300.5,884 300.5,882 300.5,880 300.5,878 300.5,876 300.5,874 300.5,872 300.5,870 300.5,868 300.5,866 300.5,864 300.5,862 300.5,860 300.5,858 300.5,856 300.5,854 300.5,852 300.5,850 300.5,848 300.5,846 300.5,844 300.5,842 300.5,840 300.5,838 300.5,836 300.5,834 300.5,832 300.5,830 300.5,828 300.5,826 300.5,824 300.5,822 300.5,820 300.5,818 300.5,816 300.5,814 300.5,812 300.5,810 300.5,808 300.5,806 300.5,804 300.5,802 300.5,800 300.5,798 300.5,796 300.5,794 300.5,792 300.5,790 300.5,788.5 300.5,786.5 300.5,784.5 300.5,782.5 300.5,780.5 300.5,778.5 300.5,776.5 300.5,774.5 300.5,772.5 300.5,770.5 300.5,768.5 300.5,766.5 300.5,764.5 300.5,762.5 300.5,760.5 300.5,758.5 300.5,756.5 300.5,754.5 300.5,752.5 300.5,750.5 300.5,748.5 300.5,746.5 300.5,744.5 300.5,742.5 300.5,740.5 300.5,738.5 300.5,736.5 300.5,734.5 300.5,732.5 300.5,730.5 300.5,728.5 300.5,726.5 300.5,724.5 300.5,722.5 300.5,720.5 300.5,718.5 300.5,716.5 300.5,714.5 300.5,712.5 300.5,710.5 300.5,708.5 300.5,706.5 300.5,704.5 300.5,702.5 300.5,700.5 300.5,698.5 300.5,696.5 300.5,694.5 300.5,692.5 300.5,690.5 300.5,688.5 300.5,686.5 300.5,684.5 300.5,682.5 300.5,680.5Z" fill="#1fff00"/>
<path d="M300.5,680.5 302.5,680.5 303,681.5 303,683.5 303,685.5 303,687.5 303,689.5 303.5,690.5 303.5,692.5 303.5,694.5 303.5,696.5 303.5,698.5 303.5,700.5 304,702.5 304,704.5 304,706.5 304.5,707.5 304.5,709.5 305,710.5 305.5,712.5 306,714.5 306.5,715.5 307,716.5 307.5,717.5 308,718.5 309,719.5 310,720.5 311,721.5 312.5,722 313.5,722.5 314.5,723 315.5,723.5 317.5,724 318.5,724.5 320.5,724.5 321.5,725 323.5,725.5 325.5,725.5 326.5,726 328.5,726 329.5,726.5 331.5,726.5 333.5,727 335.5,727 337.5,727.5 339.5,727.5 341.5,728 343.5,728 345.5,728 346.5,728.5 348.5,728.5 350.5,728.5 351.5,729 353.5,729 355.5,729 357.5,729 359.5,728.5 361.5,728.5 363,728.5 364.5,728 366.5,728 368.5,727.5 370.5,727.5 372.5,727 374.5,727 376.5,726.5 378,726.5 379.5,726 381.5,725.5 383.5,725 385.5,724.5 387.5,724 389.5,724 391.5,723.5 393.5,723.5 395.5,723.5 397.5,723.5 399.5,723.5 401.5,723.5 403.5,723.5 405.5,723.5 407.5,723 409.5,723 411.5,723.5 413,723.5 414.5,723.5 416.5,723.5 417.5,724 419.5,724 421.5,724 423.5,723.5 425.5,723.5 427.5,723.5 429.5,723.5 431.5,723.5 433.5,723.5 434.5,724 436.5,724 438.5,724 439.5,724.5 441.5,724.5 443.5,724.5 445.5,724.5 447.5,724.5 449.5,724.5 451,724.5 452.5,724 453.5,723.5 454.5,723 455.5,722.5 456,721.5 456.5,720.5 457,719.5 457.5,718.5 458,717.5 458.5,715.5 458.5,713.5 459,712.5 459,710.5 459,708.5 459,706.5 459,704.5 459,702.5 458.5,701.5 458.5,700 458.5,698.5 458,697.5 458,695.5 457.5,693.5 457.5,692 457.5,690.5 457,689.5 457,687.5 456.5,685.5 456.5,683.5 456.5,681.5 457.5,680.5 459.5,680.5 461.5,680.5 463.5,680.5 465.5,680.5 467.5,680.5 469.5,680.5 471.5,680.5 473.5,680.5 475.5,680.5 477.5,680.5 479.5,680.5 481.5,680.5 483.5,680.5 485.5,680.5 487.5,680.5 489.5,680.5 491.5,680.5 493.5,680.5 495.5,680.5 497.5,680.5 499.5,680.5 501.5,680.5 503.5,680.5 505.5,680.5 507.5,680.5 509.5,680.5 511.5,680.5 513.5,680.5 515.5,680.5 517.5,680.5 519.5,680.5 520.5,681.5 520.5,683.5 520.5,685.5 520.5,687.5 520.5,689.5 520.5,691.5 520.5,693.5 520.5,695.5 520.5,697.5 520.5,699.5 520.5,701.5 520.5,703.5 520.5,705.5 520.5,707.5 520.5,709.5 520.5,711.5 520.5,713.5 520.5,715.5 520.5,717.5 520.5,719.5 520.5,721.5 520.5,723.5 520.5,725.5 519.5,726 517.5,726 515.5,726 514.5,726.5 512.5,726.5 511.5,727 509.5,727.5 507.5,728 505.5,728.5 503.5,729 502.5,729.5 500.5,730 499.5,730.5 497.5,731 496.5,731.5 495.5,732 494,732.5 492.5,733 491.5,733.5 490.5,734 489.5,734.5 488.5,735 487.5,735.5 486.5,736 485.5,736.5 484.5,737 483.5,737.5 482.5,738 481.5,739 480.5,739.5 479.5,740.5 478.5,741.5 477.5,742.5 477,743.5 476.5,744.5 476,745.5 475.5,747.5 475.5,749.5 475,751.5 475,753.5 475,755.5 475,757.5 474.5,758.5 474.5,760.5 474.5,762.5 474,763.5 474,765.5 473.5,767.5 473.5,769.5 473,770.5 472.5,772.5 472.5,774.5 472,775.5 471.5,777.5 471.5,779.5 471,780.5 471,782.5 470.5,783.5 470.5,785.5 470,786.5 469.5,788.5 469,789.5 468.5,791 468,792 467.5,793 467,794 466.5,795 465.5,796 464.5,797 463.5,798 462.5,798.5 461.5,799 460.5,799.5 458.5,800 457,800 455.5,800.5 453.5,800.5 451.5,800.5 449.5,800.5 447.5,800.5 445.5,800.5 443.5,800.5 441.5,800.5 439.5,800.5 437.5,800.5 435.5,800.5 434.5,800 432.5,800 430.5,800 428.5,800 426.5,800 424.5,800 422.5,800 420.5,800 418.5,800 416.5,800 414.5,800 413.5,799.5 411.5,799.5 409.5,799.5 407.5,799.5 405.5,800 403.5,800 401.5,800 399.5,800 397.5,800 396.5,800.5 394.5,800.5 392.5,800.5 390.5,800.5 388.5,800.5 387.5,801 385.5,801 383.5,801 381.5,801 379.5,801 378.5,800.5 376.5,800.5 374.5,800.5 372.5,800.5 370.5,800.5 368.5,800.5 366.5,801 364.5,801 362.5,801 360.5,801 358.5,801 356.5,801 354.5,801 352.5,801 350.5,801 348.5,801 346.5,801 344.5,801 342.5,801 340.5,801 338.5,801 336.5,801 334.5,801 332.5,801 330.5,801 328.5,801 327.5,801.5 325.5,802 323.5,802.5 322.5,803 321.5,803.5 320.5,804.5 319.5,805 318.5,806 317.5,807 316.5,808 316,809 315.5,810 315,811 314.5,812 314.5,814 314.5,816 314.5,817.5 315,819 315.5,820 316.5,822 317,823 317.5,824 318.5,825 319.5,826 320.5,827 321.5,828 322.5,828.5 323.5,829 324.5,830 325.5,830.5 327.5,831 329.5,831.5 331.5,831.5 332.5,832 334.5,832 336.5,832 338.5,832 339.5,832.5 341.5,832.5 343.5,832.5 345.5,832.5 347.5,832.5 349.5,832.5 351.5,832.5 352.5,833 354.5,833 356.5,833 358.5,833 360.5,833 362,833 363.5,833 364.5,833.5 366.5,833.5 368.5,833.5 370.5,833.5 372.5,833.5 374.5,833.5 376.5,833.5 378.5,833.5 380.5,833.5 381.5,834 383.5,834 385.5,834 387.5,834 389.5,834 391.5,834 393.5,834 395.5,834 397.5,834 399.5,834 401.5,834 403.5,834 405.5,834 407.5,834 409.5,834 411.5,834 413.5,834 415.5,834 417.5,834 419.5,834 421.5,833.5 423.5,833.5 424.5,833 426.5,833 428.5,832.5 430.5,832.5 431.5,832 433.5,832 435.5,832 436.5,831.5 438.5,831.5 440.5,831.5 442.5,831.5 444.5,831.5 446.5,832 448.5,832 450,832 451.5,832.5 453.5,832.5 454.5,833 456.5,833 457.5,833.5 459.5,834 461.5,834 462.5,834.5 464.5,835 466,835 467.5,835.5 469.5,836 471,836 472.5,836.5 474.5,837 476.5,837 478.5,837.5 480.5,837.5 482.5,838 484.5,838 486.5,838 488.5,838.5 490.5,838.5 492.5,838.5 494.5,838.5 496.5,838.5 498.5,838.5 500.5,838.5 502.5,838.5 504.5,838.5 506.5,838.5 507.5,838 509.5,838 511.5,837.5 513.5,837.5 514.5,837 516.5,836.5 517.5,836 518.5,835.5 519.5,834.5 520.5,833 520.5,835 520.5,837 520.5,839 520.5,841 520.5,843 520.5,845 520.5,847 520.5,849 520.5,851 520.5,853 520.5,855 520.5,857 520.5,859 520.5,861 520.5,863 520.5,865 520.5,867 520.5,869 520.5,871 520.5,873 520.5,875 520.5,877 520.5,879 520.5,881 520.5,883 520.5,885 520.5,887 520.5,889 520.5,891 520.5,893 520.5,895 520.5,897 520.5,899 519.5,900 517.5,900 515.5,900 513.5,900 511.5,900 509.5,900 507.5,900 505.5,900 503.5,900 501.5,900 499.5,900 497.5,900 495.5,900 493.5,900 491.5,900 489.5,900 487.5,900 485.5,900 483.5,900 481.5,900 479.5,900 477.5,900 475.5,900 473.5,900 471.5,900 469.5,900 467.5,900 465.5,900 463.5,900 461.5,900 459.5,900 457.5,900 455.5,900 453.5,900 451.5,900 449.5,900 447.5,900 445.5,900 443.5,900 441.5,900 439.5,900 437.5,900 435.5,900 433.5,900 431.5,900 429.5,900 427.5,900 427,899 426.5,898 426,897 425.5,896 425,895 424.5,894 424,893 423.5,892 423,891 422.5,890 422,889 421.5,888 421,887 420,886 419.5,885 419,884 418.5,883 418,882 417.5,881 417,880 416.5,879 416,878 415.5,877 414.5,876 414,875 413.5,874 413,873 412.5,872 411.5,871 411,870 410.5,869 409.5,868 409,867 408,866 407.5,865 406.5,864 405.5,863 404.5,862 403.5,861.5 402.5,861 401.5,860.5 400.5,860 399.5,859.5 398.5,859 397.5,858.5 395.5,858 393.5,857.5 391.5,857 389.5,856.5 387.5,856.5 386.5,856 384.5,856 382.5,856 381.5,855.5 379.5,855.5 377.5,855.5 375.5,855.5 373.5,855.5 371.5,855.5 369.5,855.5 367.5,855.5 366.5,856 364.5,856 362.5,856 360.5,856 359.5,856.5 357.5,856.5 355.5,856.5 354.5,857 352.5,857 350.5,857.5 348.5,857.5 346.5,858 344.5,858 342.5,858.5 340.5,858.5 338.5,859 337,859 335.5,859.5 333.5,859.5 331.5,860 329.5,860.5 327.5,860.5 326.5,861 324.5,861.5 322.5,862 321.5,862.5 320.5,863 318.5,863.5 317.5,864.5 316.5,865 315.5,865.5 314.5,866.5 313.5,867.5 312.5,868.5 311.5,870 311,871 310.5,872 310,873 309.5,874 309,875 308.5,877 308,878 307.5,880 307,882 306.5,884 306.5,885.5 306,887 306,889 305.5,891 305.5,892.5 305.5,894 305,895 305,897 305,899 304.5,900 302.5,900 300.5,900 300.5,898 300.5,896 300.5,894 300.5,892 300.5,890 300.5,888 300.5,886 300.5,884 300.5,882 300.5,880 300.5,878 300.5,876 300.5,874 300.5,872 300.5,870 300.5,868 300.5,866 300.5,864 300.5,862 300.5,860 300.5,858 300.5,856 300.5,854 300.5,852 300.5,850 300.5,848 300.5,846 300.5,844 300.5,842 300.5,840 300.5,838 300.5,836 300.5,834 300.5,832 300.5,830 300.5,828 300.5,826 300.5,824 300.5,822 300.5,820 300.5,818 300.5,816 300.5,814 300.5,812 300.5,810 300.5,808 300.5,806 300.5,804 300.5,802 300.5,800 300.5,798 300.5,796 300.5,794 300.5,792 300.5,790 300.5,788.5 300.5,786.5 300.5,784.5 300.5,782.5 300.5,780.5 300.5,778.5 300.5,776.5 300.5,774.5 300.5,772.5 300.5,770.5 300.5,768.5 300.5,766.5 300.5,764.5 300.5,762.5 300.5,760.5 300.5,758.5 300.5,756.5 300.5,754.5 300.5,752.5 300.5,750.5 300.5,748.5 300.5,746.5 300.5,744.5 300.5,742.5 300.5,740.5 300.5,738.5 300.5,736.5 300.5,734.5 300.5,732.5 300.5,730.5 300.5,728.5 300.5,726.5 300.5,724.5 300.5,722.5 300.5,720.5 300.5,718.5 300.5,716.5 300.5,714.5 300.5,712.5 300.5,710.5 300.5,708.5 300.5,706.5 300.5,704.5 300.5,702.5 300.5,700.5 300.5,698.5 300.5,696.5 300.5,694.5 300.5,692.5 300.5,690.5 300.5,688.5 300.5,686.5 300.5,684.5 300.5,682.5 300.5,680.5Z" fill="#0aff00"/>
<path d="M458,680.5 459.5,680.5 461.5,680.5 463.5,680.5 465.5,680.5 467.5,680.5 469.5,680.5 471.5,680.5 473.5,680.5 475.5,680.5 477.5,680.5 479.5,680.5 481.5,680.5 483.5,680.5 485.5,680.5 487.5,680.5 489.5,680.5 491.5,680.5 493.5,680.5 495.5,680.5 497.5,680.5 499.5,680.5 501.5,680.5 503.5,680.5 505.5,680.5 507.5,680.5 509.5,680.5 511.5,680.5 513.5,680.5 515.5,680.5 517.5,680.5 519.5,680.5 520.5,681.5 520.5,683.5 520.5,685.5 520.5,687.5 520.5,689.5 520.5,691.5 520.5,693.5 520.5,695.5 520.5,697.5 520.5,699.5 520.5,701.5 520.5,703.5 520.5,705.5 520.5,707.5 520.5,709.5 520.5,711.5 520.5,713.5 520.5,715.5 520.5,717.5 520.5,719.5 520.5,721.5 519.5,722.5 517.5,723 515.5,723 513.5,723.5 511.5,723.5 510.5,724 508.5,724.5 506.5,725 504.5,725 503.5,725.5 501.5,726 500.5,726.5 498.5,727 496.5,727.5 494.5,728 492.5,728.5 490.5,729 488.5,729.5 486.5,730 484.5,730.5 482.5,730.5 481.5,731 479.5,731 478.5,731.5 476.5,731.5 474.5,731.5 472.5,731 470.5,730.5 469.5,730 468.5,729.5 467.5,729 466.5,727.5 466,726.5 465.5,725.5 465,724.5 464.5,722.5 464,720.5 464,718.5 463.5,717.5 463.5,715.5 463,714.5 463,712.5 462.5,711.5 462.5,710 462.5,708.5 462,707.5 462,705.5 461.5,704.5 461.5,702.5 461,701.5 461,699.5 460.5,698.5 460.5,696.5 460,695.5 460,693.5 459.5,692.5 459.5,690.5 459,689.5 459,687.5 458.5,686.5 458.5,684.5 458.5,682.5 458,680.5ZM401.5,724.5 403.5,724.5 405.5,724.5 407.5,724 409.5,724 410.5,724.5 412.5,724.5 414.5,724.5 416.5,724.5 417.5,725 419.5,725 421.5,725 423.5,725 425.5,725 427.5,725 429.5,725 431.5,725 433.5,725 434.5,725.5 436.5,725.5 437.5,726 439.5,726 440.5,726.5 442.5,727 444.5,727.5 446.5,727.5 447.5,728 449.5,728.5 451.5,729 453,729.5 454.5,730 456,730.5 457.5,731 458.5,731.5 460.5,732 461.5,732.5 462.5,733 463.5,734 464.5,734.5 465,735.5 466,736.5 466.5,737.5 467,738.5 467.5,739.5 468,740.5 468.5,741.5 469,742.5 469.5,743.5 470,745.5 470.5,746.5 471,748.5 471.5,750.5 472,752.5 472,754.5 472,756.5 472.5,758.5 472.5,760.5 472,761.5 472,763.5 472,765.5 471.5,767.5 471.5,769.5 471,770.5 471,772.5 470.5,773.5 470.5,775.5 470,776.5 470,778.5 469.5,779.5 469.5,781.5 469,782.5 469,784.5 468.5,785.5 468,787.5 467.5,788.5 467,790 466.5,791 466,792 465.5,793 464.5,794 463.5,795 462.5,796 461.5,796.5 460.5,797 459.5,797.5 458.5,798 457,798 455.5,798.5 453.5,798.5 451.5,798.5 450.5,799 448.5,799 446.5,799 444.5,799 443.5,798.5 441.5,798.5 439.5,798.5 437.5,798.5 436.5,798 434.5,798 432.5,798 430.5,798 428.5,797.5 426.5,797.5 424.5,797.5 423.5,798 421.5,797.5 419.5,797.5 417.5,797.5 415.5,797.5 413.5,797.5 411.5,797.5 409.5,797.5 407.5,797.5 405.5,797.5 403.5,797.5 401.5,797.5 399.5,797.5 397.5,797.5 396.5,798 394.5,798 392.5,798 390.5,798 388.5,798 386.5,798 385.5,797.5 383.5,797.5 381.5,797.5 379.5,797.5 377.5,797 375.5,797 373.5,797 371.5,797 369.5,797 367.5,796.5 365.5,796.5 363.5,796.5 361.5,796.5 359.5,796.5 357.5,796 355.5,796 353.5,796 351.5,796 349.5,795.5 347.5,795.5 345.5,795.5 343.5,795 341.5,795 339.5,795 338.5,794.5 336.5,794.5 334.5,794.5 333.5,794 331.5,794 329.5,793.5 327.5,793.5 326,793 324.5,793 322.5,792.5 320.5,792.5 319.5,792 317.5,791.5 316,791 314.5,790.5 313.5,790 312.5,789.5 311.5,789 310.5,788.5 309.5,787.5 308.5,786.5 307.5,785.5 307,784.5 306.5,783.5 306,782.5 305.5,781.5 305,780.5 304.5,778.5 304.5,776.5 304,775.5 304,773.5 304,771.5 303.5,770.5 303.5,768.5 303.5,766.5 303.5,764.5 303.5,762.5 303.5,760.5 303.5,758.5 303.5,756.5 303.5,754.5 303.5,752.5 303.5,750.5 303.5,748.5 303.5,746.5 304,745.5 304,743.5 304.5,741.5 304.5,739.5 305,738.5 305.5,737.5 306,736.5 306.5,735.5 307,734.5 308,733.5 309.5,732.5 310.5,732 311.5,731.5 312.5,731 313.5,730.5 315,730.5 316.5,730 318.5,730 319.5,729.5 321.5,729.5 323.5,729.5 325.5,729.5 327.5,729.5 329.5,729.5 331.5,729.5 333.5,729.5 335.5,729.5 337.5,729.5 339.5,729.5 341.5,729.5 342.5,730 344.5,730 346.5,730 348.5,730 350.5,730 352.5,730 354.5,730 356.5,730 358.5,730 360.5,730 361.5,729.5 363.5,729.5 365.5,729.5 366.5,729 368.5,729 369.5,728.5 371.5,728.5 373.5,728 375.5,728 376.5,727.5 378,727.5 379.5,727 381.5,726.5 383.5,726 385.5,725.5 387.5,725 389.5,725 391.5,724.5 393.5,724.5 395.5,724.5 397.5,724.5 399.5,724.5 401.5,724.5ZM436,833 437.5,833 439.5,833 441.5,833 443.5,833 445.5,833 447.5,833 449.5,833.5 451.5,833.5 453.5,834 455.5,834 456.5,834.5 458.5,834.5 459.5,835 461,835 462.5,835.5 464.5,836 466.5,836 467.5,836.5 469.5,836.5 470.5,837 472.5,837 473.5,837.5 475.5,837.5 477.5,838 479.5,838 481.5,838.5 483.5,838.5 485.5,838.5 487.5,839 489.5,839 491.5,839 493,839 494.5,839 496.5,839.5 498.5,839.5 500.5,839.5 502.5,839.5 504.5,839.5 506.5,839.5 508.5,839.5 510.5,839.5 512.5,839.5 514.5,839 516.5,839 518.5,839 519.5,838.5 520.5,839 520.5,841 520.5,843 520.5,845 520.5,847 520.5,849 520.5,851 520.5,853 520.5,855 520.5,857 520.5,859 520.5,861 520.5,863 520.5,865 520.5,867 520.5,869 520.5,871 520.5,873 520.5,875 520.5,877 520.5,879 520.5,881 520.5,883 520.5,885 520.5,887 520.5,889 520.5,891 520.5,893 520.5,895 520.5,897 520.5,899 519.5,900 517.5,900 515.5,900 513.5,900 511.5,900 509.5,900 507.5,900 505.5,900 503.5,900 501.5,900 499.5,900 497.5,900 495.5,900 493.5,900 491.5,900 489.5,900 487.5,900 485.5,900 483.5,900 481.5,900 479.5,900 477.5,900 475.5,900 473.5,900 471.5,900 469.5,900 467.5,900 465.5,900 463.5,900 461.5,900 459.5,900 457.5,900 455.5,900 453.5,900 451.5,900 449.5,900 447.5,900 445.5,900 443.5,900 441.5,900 439.5,900 437.5,900 435.5,900 433.5,900 431.5,900 430,900 429.5,899 429,898 428,897 427.5,896 427,895 426.5,894 426,893 425.5,892 425,891 424.5,890 424,889 423.5,888 423,887 422.5,886 422,885 421.5,884 421,883 420.5,882 420,881 419.5,880 418.5,879 418,878 417.5,877 417,876 416.5,875 416,874 415.5,873 415,872 414.5,871 414,870 413.5,869 413,868 412.5,867 412,866 411.5,865 411,864 410,863 409.5,862 408.5,861.5 407.5,860.5 406.5,859.5 405.5,859 404.5,858.5 403.5,858 402.5,857.5 401.5,857 400.5,856.5 399.5,856 397.5,855.5 396.5,855 394.5,854.5 392.5,854 390.5,854 389.5,853.5 387.5,853.5 386.5,853 384.5,853 383.5,852.5 381.5,852.5 379.5,852.5 378.5,852 377,852 375.5,852 373.5,852 371.5,852 369.5,852 367.5,852 365.5,852 363.5,852 361.5,852 359.5,852 357.5,852 355.5,852 353.5,852 351.5,852 349.5,852 347.5,852 345.5,852 343.5,852 341.5,852 339.5,852 337.5,852 335.5,852 334.5,851.5 332.5,851.5 330.5,851.5 329.5,851 327.5,850.5 325.5,850.5 324.5,850 323.5,849.5 322.5,849 321.5,848.5 320.5,847 321,846 322,845 323.5,844.5 324.5,844 326.5,843.5 327.5,843 329.5,843 330.5,842.5 332.5,842.5 333.5,842 335.5,842 337.5,841.5 339.5,841.5 341.5,841.5 342.5,841 344.5,841 346.5,841 348.5,841 350.5,840.5 352.5,840.5 354.5,840.5 356.5,840.5 358.5,840.5 360.5,840.5 362.5,840 364,840 365.5,840 367.5,840 369.5,840 371.5,840 373.5,840 374.5,839.5 376.5,839.5 378.5,839.5 380.5,839.5 382.5,839.5 383.5,839 385.5,839 387.5,839 389.5,839 390.5,838.5 392.5,838.5 394.5,838.5 396.5,838.5 397.5,838 399.5,838 401.5,838 403.5,837.5 405.5,837.5 407.5,837 409.5,837 411.5,837 412.5,836.5 414.5,836.5 416.5,836 418.5,836 420.5,835.5 422.5,835.5 423.5,835 425.5,834.5 427.5,834.5 428.5,834 430.5,834 431.5,833.5 433.5,833.5 435.5,833Z" fill="#00ff0d"/>
<path d="M460,680.5 461.5,680.5 463.5,680.5 465.5,680.5 467.5,680.5 469.5,680.5 471.5,680.5 473.5,680.5 475.5,680.5 477.5,680.5 479.5,680.5 481.5,680.5 483.5,680.5 485.5,680.5 487.5,680.5 489.5,680.5 491.5,680.5 493.5,680.5 495.5,680.5 497.5,680.5 499.5,680.5 501.5,680.5 503.5,680.5 505.5,680.5 507.5,680.5 509.5,680.5 511.5,680.5 513.5,680.5 515.5,680.5 517.5,680.5 519.5,680.5 520.5,681.5 520.5,683.5 520.5,685.5 520.5,687.5 520.5,689.5 520.5,691.5 520.5,693.5 520.5,695.5 520.5,697.5 520.5,699.5 520.5,701.5 520.5,703.5 520.5,705.5 520.5,707.5 520.5,709.5 520.5,711.5 520.5,713.5 520.5,715.5 520.5,717.5 520.5,719 519.5,719.5 517.5,719.5 516.5,720 514.5,720 513.5,720.5 511.5,720.5 510.5,721 508.5,721 507.5,721.5 505.5,721.5 504.5,722 502.5,722.5 500.5,722.5 499.5,723 497.5,723.5 495.5,723.5 494.5,724 492.5,724 490.5,724.5 489,724.5 487.5,724.5 485.5,724.5 483.5,724.5 481.5,724.5 480.5,724 478.5,723.5 476.5,723 475.5,722.5 474.5,722 473.5,721 472.5,720.5 471.5,719.5 471,718.5 470,717.5 469.5,716.5 469,715.5 468.5,714.5 468,713.5 467.5,712.5 467,711.5 466.5,710.5 466,709.5 465.5,707.5 465,706.5 464.5,704.5 464,702.5 463.5,701.5 463,699.5 462.5,697.5 462.5,695.5 462,694.5 461.5,692.5 461.5,690.5 461,689.5 461,687.5 460.5,686.5 460.5,685 460.5,683.5 460,682.5 460,680.5ZM400.5,725.5 402.5,725.5 404.5,725.5 406.5,725.5 407.5,725 409.5,725 410.5,725.5 412.5,725.5 414.5,725.5 416.5,725.5 417.5,726 419.5,726 421.5,726 423.5,726 425.5,726 427.5,726 429.5,726 431.5,726 432.5,726.5 434.5,726.5 435.5,727 437.5,727.5 439.5,728 441,728.5 442.5,729 444,729.5 445.5,730 447,730.5 448.5,731 449.5,731.5 451.5,732 452.5,733 453.5,733.5 454.5,734 455.5,735 456.5,735.5 457.5,736.5 458.5,737 459.5,738 460.5,739 461.5,740 462.5,741 463.5,742.5 464.5,743.5 465,744.5 465.5,745.5 466.5,746.5 467,747.5 467.5,748.5 468,750.5 468.5,751.5 469,752.5 469.5,754.5 469.5,756.5 470,757.5 470,759.5 470,761.5 470,763.5 470,765.5 469.5,767.5 469.5,769 469.5,770.5 469,771.5 469,773.5 468.5,774.5 468.5,776 468.5,777.5 468,778.5 468,780.5 467.5,781.5 467.5,783.5 467,784.5 466.5,786.5 466,787.5 465.5,789 465,790 464.5,791 463.5,792 462.5,793 461.5,794 460.5,795 459.5,795.5 457.5,796 456.5,796.5 454.5,796.5 453.5,797 451.5,797 449.5,797 447.5,797 445.5,797 443.5,797 441.5,796.5 439.5,796.5 437.5,796.5 436,796 434.5,796 432.5,796 430.5,796 428.5,795.5 426.5,795.5 424.5,795.5 423.5,796 421.5,796 419.5,795.5 417.5,795.5 415.5,795.5 413.5,795.5 411.5,795.5 409.5,795.5 407.5,795.5 405.5,795.5 403.5,795.5 401.5,795.5 399.5,795.5 397.5,795.5 395.5,795.5 393.5,795.5 391.5,795.5 389.5,795.5 387.5,795.5 385.5,795.5 384.5,795 382.5,795 380.5,795 379.5,794.5 377.5,794.5 375.5,794.5 374.5,794 372.5,794 370.5,794 368.5,794 367.5,793.5 365.5,793.5 363.5,793.5 362.5,793 360.5,793 358.5,793 356.5,792.5 354.5,792.5 352.5,792.5 351.5,792 349.5,792 347.5,791.5 345.5,791.5 344,791 342.5,791 340.5,790.5 338.5,790.5 337.5,790 335.5,790 334.5,789.5 333,789.5 331.5,789 330.5,788.5 329,788.5 327.5,788 326.5,787.5 325.5,787 323.5,786.5 322.5,786 321.5,785.5 320.5,785 319.5,784.5 318.5,784 317.5,783.5 316.5,782.5 315.5,781.5 314.5,780.5 313.5,779.5 313,778.5 312.5,777.5 311.5,776.5 311,774.5 310.5,773.5 310,771.5 309.5,769.5 309.5,767.5 309.5,765.5 309,763.5 309,761.5 309,759.5 309,757.5 309,755.5 309,753.5 309.5,752.5 309.5,750.5 309.5,749 309.5,747.5 310,746.5 310.5,744.5 311,743.5 311.5,742 312.5,740.5 313,739.5 314,738.5 315,737.5 316.5,736.5 317.5,736 318.5,735 320.5,734.5 321.5,734 323.5,733.5 325.5,733 327.5,732.5 329.5,732.5 331.5,732 333.5,732 335.5,732 337.5,732 339.5,731.5 341.5,731.5 343.5,731.5 345.5,731.5 347.5,731.5 349.5,731.5 351.5,731.5 353.5,731.5 355.5,731.5 357.5,731.5 359.5,731 361.5,731 363.5,730.5 365.5,730.5 367.5,730 369.5,730 370.5,729.5 372,729.5 373.5,729 375.5,729 376.5,728.5 378,728.5 379.5,728 381.5,727.5 383.5,727 385.5,726.5 387.5,726 389.5,726 391.5,725.5 393.5,725.5 395.5,725.5 397.5,725.5 399.5,725.5ZM439.5,834 441.5,834 443.5,834 445.5,834 447.5,834 448.5,834.5 450.5,834.5 452.5,835 454.5,835 456.5,835.5 458.5,835.5 459.5,836 461.5,836 462.5,836.5 464.5,836.5 466.5,837 468,837 469.5,837.5 471.5,837.5 473.5,838 475.5,838 476.5,838.5 478.5,838.5 480.5,838.5 481.5,839 483.5,839 485,839 486.5,839.5 488.5,839.5 490.5,839.5 492.5,840 494.5,840 496.5,840 498.5,840 499.5,840.5 501.5,840.5 503.5,840.5 505.5,840.5 506.5,841 508.5,841 510.5,841 512.5,841.5 514.5,841.5 515.5,842 517.5,842 518.5,842.5 519.5,843 520.5,844 520,845 519,846 518,847 517,848 516,849 515,850 514,851 513.5,852 513,854 513,856 513.5,857 514,859 514.5,860 515,861 515.5,862 516,863 516.5,864 517,865 517.5,866 518,867 518.5,868 519,869 519.5,870 520,871 520.5,872 520.5,874 520.5,876 520.5,878 520.5,880 520.5,882 520.5,884 520.5,886 520.5,888 520.5,890 520.5,892 520.5,894 520.5,896 520.5,898 520.5,900 518.5,900 516.5,900 514.5,900 512.5,900 510.5,900 508.5,900 506.5,900 504.5,900 502.5,900 500.5,900 498.5,900 496.5,900 494.5,900 492.5,900 490.5,900 488.5,900 486.5,900 484.5,900 482.5,900 480.5,900 478.5,900 476.5,900 474.5,900 472.5,900 470.5,900 468.5,900 466.5,900 464.5,900 462.5,900 460.5,900 458.5,900 456.5,900 454.5,900 452.5,900 450.5,900 448.5,900 446.5,900 444.5,900 442.5,900 440.5,900 438.5,900 436.5,900 434.5,900 432.5,900 432,899 431.5,898 430.5,897 430,896 429.5,895 429,894 428.5,893 427.5,892 427,891 426.5,890 426,889 425.5,888 425,887 424.5,886 424,885 423.5,884 423,883 422.5,882 422,881 421.5,880 421,879 420.5,878 420,877 419.5,876 419,875 418.5,874 418,872 417.5,871 417,870 416.5,869 416,868 415.5,866.5 415,865 414.5,864 414,863 413.5,862 412.5,861 412,860 411,859 410,858 408.5,857 407.5,856.5 406.5,856 405.5,855.5 404.5,855 403.5,854.5 402.5,854 401.5,853.5 400.5,853 399.5,852.5 397.5,852 396.5,851.5 394.5,851 393.5,850.5 391.5,850 390.5,849.5 388.5,849 387.5,848.5 386.5,848 385.5,847.5 384.5,846 385.5,845.5 386.5,845 387.5,844.5 388.5,844 390.5,843.5 392.5,843 394.5,843 395.5,842.5 397.5,842 399.5,841.5 401.5,841.5 402.5,841 404.5,840.5 406.5,840 408.5,840 409.5,839.5 411.5,839 413.5,838.5 415.5,838.5 416.5,838 418.5,838 419.5,837.5 421.5,837 423.5,836.5 425.5,836.5 426.5,836 428.5,835.5 430.5,835.5 431.5,835 433.5,835 434.5,834.5 436.5,834.5 438.5,834Z" fill="#00ff26"/>
<path d="M462,680.5 463.5,680.5 465.5,680.5 467.5,680.5 469.5,680.5 471.5,680.5 473.5,680.5 475.5,680.5 477.5,680.5 479.5,680.5 481.5,680.5 483.5,680.5 485.5,680.5 487.5,680.5 489.5,680.5 491.5,680.5 493.5,680.5 495.5,680.5 497.5,680.5 499.5,680.5 501.5,680.5 503.5,680.5 505.5,680.5 507.5,680.5 509.5,680.5 511.5,680.5 513.5,680.5 515.5,680.5 517.5,680.5 519.5,680.5 520.5,681.5 520.5,683.5 520.5,685.5 520.5,687.5 520.5,689.5 520.5,691.5 520.5,693.5 520.5,695.5 520.5,697.5 520.5,699.5 520.5,701.5 520.5,703.5 520.5,705.5 520.5,707.5 520.5,709.5 520.5,711.5 520.5,713.5 520.5,715.5 519.5,716.5 517.5,716.5 516.5,717 514.5,717 513.5,717.5 511.5,717.5 510.5,718 508.5,718 507.5,718.5 505.5,718.5 504.5,719 502.5,719 500.5,719.5 498.5,719.5 497.5,720 495.5,720 493.5,720 491.5,720 489.5,720 487.5,720 485.5,719.5 483.5,719.5 482.5,719 480.5,718.5 478.5,718 477.5,717.5 476.5,717 475.5,716 474.5,715 473.5,714.5 473,713.5 472,712.5 471.5,711.5 470.5,710.5 470,709.5 469.5,708.5 469,707.5 468.5,706.5 468,705.5 467.5,704.5 467,702.5 466.5,701.5 466,700.5 465.5,698.5 465,697.5 464.5,695.5 464,693.5 463.5,691.5 463,689.5 462.5,687.5 462.5,686 462.5,684.5 462,683.5 462,681.5ZM399.5,726.5 401.5,726.5 403.5,726.5 405.5,726.5 406.5,726 408.5,726 410.5,726.5 412.5,726.5 414.5,726.5 416.5,726.5 417.5,727 419.5,727 421.5,727 423.5,727 425.5,727 427.5,727 429.5,727 430.5,727.5 432.5,727.5 433.5,728 435.5,728.5 437.5,729 439,729.5 440.5,730 442,730.5 443.5,731 444.5,731.5 445.5,732 447,732.5 448.5,733 449.5,733.5 450.5,734 451.5,735 452.5,735.5 453.5,736.5 454.5,737 455.5,738 456.5,739 457.5,740 458.5,741 459.5,742 460.5,743 461.5,744.5 462,745.5 463,746.5 463.5,747.5 464,748.5 465,749.5 465.5,750.5 466,751.5 466.5,753 467,754.5 467.5,756.5 467.5,758.5 468,759.5 468,761.5 468,763.5 468,765.5 468,767.5 467.5,768.5 467.5,770.5 467.5,772.5 467,773.5 467,775.5 466.5,777.5 466.5,779.5 466,780.5 466,782.5 465.5,783.5 465,785.5 464.5,786.5 464,788.5 463.5,789.5 462.5,790 461.5,791 460.5,792 459.5,793 458.5,793.5 457.5,794 456.5,794.5 454.5,794.5 453.5,795 451.5,795 449.5,795 447.5,795 445.5,795 443.5,795 441.5,795 439.5,795 438.5,794.5 436.5,794.5 434.5,794.5 433,794 431.5,794 429.5,794 427.5,794 425.5,794 423.5,794 421.5,794 419.5,794 417.5,794 415.5,794 413.5,794 411.5,794 409.5,794 407.5,794 405.5,794 403.5,794 401.5,794 399.5,794 397.5,794 395.5,794 393.5,794 391.5,794 390.5,793.5 388.5,793.5 386.5,793.5 385,793 383.5,793 381.5,793 380.5,792.5 378.5,792.5 377,792 375.5,792 373.5,792 372.5,791.5 370.5,791.5 368.5,791.5 367.5,791 365.5,791 363.5,790.5 361.5,790.5 359.5,790.5 358.5,790 356.5,790 354.5,789.5 352.5,789.5 351.5,789 349.5,789 348.5,788.5 346.5,788.5 345.5,788 343.5,788 342.5,787.5 341,787.5 339.5,787 338.5,786.5 337,786.5 335.5,786 334.5,785.5 333.5,785 331.5,784.5 330.5,784 329.5,783.5 327.5,783 326.5,782.5 325.5,782 324.5,781.5 323.5,780.5 322.5,780 321.5,779 320.5,778.5 319.5,777.5 319,776.5 318.5,775.5 317.5,774.5 317,773.5 316.5,772.5 316,771.5 315.5,769.5 315.5,767.5 315,766.5 315,764.5 315,762.5 315,760.5 314.5,759.5 314.5,757.5 315,756.5 315,754.5 315,752.5 315,750.5 315.5,748.5 316,746.5 316.5,745.5 317,744.5 317.5,743.5 318,742.5 319,741.5 320,740.5 321,739.5 322.5,738.5 323.5,738 324.5,737.5 325.5,737 326.5,736.5 327.5,736 329.5,735.5 331.5,735 333.5,734.5 335.5,734.5 336.5,734 338.5,734 340.5,734 341.5,733.5 343.5,733.5 345.5,733.5 347.5,733.5 348.5,733 350.5,733 352.5,733 354.5,733 356.5,733 357.5,732.5 359.5,732.5 361.5,732 363.5,732 364.5,731.5 366.5,731.5 367.5,731 369.5,731 370.5,730.5 372.5,730.5 373.5,730 375.5,730 376.5,729.5 378,729.5 379.5,729 381.5,728.5 383.5,728 385.5,727.5 387.5,727 389.5,727 390.5,726.5 392.5,726.5 394.5,726.5 396.5,726.5 398.5,726.5ZM433.5,836 435.5,836 436.5,835.5 438.5,835.5 440.5,835.5 441.5,835 443.5,835 445.5,835 447.5,835.5 449.5,835.5 451.5,835.5 453.5,836 455.5,836 457.5,836.5 459.5,836.5 460.5,837 462.5,837 464.5,837.5 466.5,837.5 468.5,838 470.5,838 472.5,838.5 474.5,838.5 476.5,839 478.5,839 480.5,839 481.5,839.5 483.5,839.5 485.5,840 487.5,840 489,840 490.5,840.5 492.5,840.5 494.5,841 496.5,841 498,841 499.5,841.5 501.5,842 503.5,842 504.5,842.5 505.5,843 506.5,843.5 507.5,844 508,845 507.5,846 507.5,848 507,849 506.5,850 506.5,852 506.5,854 507,855 507.5,856 508,858 508.5,859 509,860 510,861 510.5,862 511,863 511.5,864 512,865 513,866 513.5,867 514,868 514.5,869 515,870 515.5,871 516,872 516.5,874 517,875 517.5,876 518,878 518.5,880 519,882 519,884 519,886 519.5,887 519,889 519,891 519,893 518.5,894 518,896 517.5,898 517,899 516.5,900 514.5,900 512.5,900 510.5,900 508.5,900 506.5,900 504.5,900 502.5,900 500.5,900 498.5,900 496.5,900 494.5,900 492.5,900 490.5,900 488.5,900 486.5,900 484.5,900 482.5,900 480.5,900 478.5,900 476.5,900 474.5,900 472.5,900 470.5,900 468.5,900 466.5,900 464.5,900 462.5,900 460.5,900 458.5,900 456.5,900 454.5,900 452.5,900 450.5,900 448.5,900 446.5,900 444.5,900 442.5,900 440.5,900 438.5,900 436.5,900 434.5,899 434,898 433,897 432.5,896 432,895 431,894 430.5,893 430,892 429.5,891 428.5,890 428,889 427.5,888 427,887 426.5,886 426,885 425.5,884 425,883 424.5,882 424,881 423.5,880 423,879 422.5,878 422,877 421.5,875 421,874 420.5,873 420,871 419.5,870 419,868 418.5,867 418,865 417.5,864 417,862 416.5,861 416,860 415,859 414.5,858 413.5,857 412.5,856 411.5,855.5 410.5,854.5 409.5,854 408.5,853 407.5,852.5 406.5,852 405.5,851.5 404.5,850.5 403.5,850 402.5,849 402,848 401.5,847 402.5,846 403.5,845 404.5,844.5 405.5,844 406.5,843.5 407.5,843 409.5,842.5 410.5,842 411.5,841.5 413,841 414.5,840.5 416.5,840 418.5,839.5 420,839 421.5,839 422.5,838.5 424,838 425.5,838 426.5,837.5 428.5,837 430.5,836.5 432.5,836.5 433.5,836Z" fill="#00ff40"/>
<path d="M464,680.5 465.5,680.5 467.5,680.5 469.5,680.5 471.5,680.5 473.5,680.5 475.5,680.5 477.5,680.5 479.5,680.5 481.5,680.5 483.5,680.5 485.5,680.5 487.5,680.5 489.5,680.5 491.5,680.5 493.5,680.5 495.5,680.5 497.5,680.5 499.5,680.5 501.5,680.5 503.5,680.5 505.5,680.5 507.5,680.5 509.5,680.5 511.5,680.5 513.5,680.5 515.5,680.5 517.5,680.5 519.5,680.5 520.5,681.5 520.5,683.5 520.5,685.5 520.5,687.5 520.5,689.5 520.5,691.5 520.5,693.5 520.5,695.5 520.5,697.5 520.5,699.5 520.5,701.5 520.5,703.5 520.5,705.5 520.5,707.5 520.5,709.5 520.5,711.5 520.5,713 519.5,713.5 517.5,713.5 516.5,714 514.5,714 513.5,714.5 511.5,714.5 510.5,715 508.5,715 507.5,715.5 505.5,715.5 503.5,716 501.5,716 499.5,716.5 497.5,716.5 495.5,716.5 493.5,716.5 491.5,716.5 489.5,716.5 488.5,716 486.5,716 485.5,715.5 483.5,715 481.5,714.5 480.5,714 479.5,713.5 478.5,713 477.5,712.5 476.5,711.5 475.5,711 474.5,710 473.5,708.5 472.5,707.5 472,706.5 471.5,705.5 471,704.5 470,703.5 469.5,702.5 469,700.5 468.5,699.5 468,698.5 467.5,697.5 467,695.5 466.5,694.5 466,692.5 465.5,691.5 465,689.5 465,687.5 464.5,686.5 464.5,684.5 464,683.5 464,681.5ZM398,727.5 399.5,727.5 401.5,727.5 403.5,727.5 404.5,727 406.5,727 408.5,727 410.5,727 411.5,727.5 413,727.5 414.5,727.5 416.5,727.5 418.5,728 420.5,728 422.5,728 424.5,728 426.5,728 428.5,728 430.5,728.5 432.5,729 434.5,729.5 436.5,730 438,730.5 439.5,731 440.5,731.5 441.5,732 443,732.5 444.5,733 445.5,733.5 446.5,734 447.5,734.5 448.5,735 449.5,735.5 450.5,736.5 451.5,737 452.5,738 453.5,738.5 454,739.5 455,740.5 456,741.5 457,742.5 458,743.5 458.5,744.5 459.5,745.5 460.5,746.5 461,747.5 461.5,748.5 462.5,749.5 463,750.5 463.5,751.5 464,752.5 464.5,754 465,755.5 465.5,757.5 466,759.5 466,761.5 466,763.5 466,765.5 466,767.5 466,769.5 465.5,770.5 465.5,772 465.5,773.5 465,775.5 465,777.5 464.5,779.5 464,781.5 463.5,783.5 463,785.5 462.5,786.5 462,787.5 461.5,788.5 460.5,789.5 459.5,790 458.5,791 457.5,791.5 456.5,792 455.5,792.5 454.5,793 452.5,793 451.5,793.5 449.5,793.5 447.5,793.5 445.5,793.5 443.5,793.5 441.5,793.5 440,793 438.5,793 436.5,793 434.5,793 433.5,792.5 431.5,792.5 429.5,792.5 427.5,792.5 425.5,792.5 423.5,792.5 421.5,792.5 419.5,792.5 417.5,792.5 415.5,792.5 413.5,792.5 411.5,792.5 409.5,792.5 407.5,792.5 405.5,792.5 403.5,792.5 401.5,792.5 399.5,792.5 397.5,792.5 395.5,792.5 393.5,792 391.5,792 389.5,792 387.5,792 386.5,791.5 384.5,791.5 383.5,791 381.5,791 379.5,790.5 377.5,790.5 376.5,790 374.5,790 372.5,789.5 370.5,789.5 369.5,789 367.5,789 365.5,788.5 363.5,788.5 362,788.5 360.5,788 358.5,787.5 356.5,787.5 355.5,787 353.5,787 352.5,786.5 350.5,786.5 349.5,786 347.5,786 346.5,785.5 344.5,785 342.5,784.5 341.5,784 339.5,783.5 337.5,783 336.5,782.5 335.5,782 334.5,781.5 332.5,781 331.5,780.5 330.5,779.5 329.5,779 328.5,778.5 327.5,777.5 326.5,777 325.5,776 324.5,775 323.5,773.5 322.5,772.5 322,771.5 321.5,769.5 321,768.5 320.5,766.5 320.5,765 320.5,763.5 320,761.5 320,759.5 320,757.5 320,755.5 320.5,753.5 320.5,751.5 321,749.5 321.5,747.5 322,746.5 322.5,745.5 323,744.5 324,743.5 324.5,742.5 325.5,742 326.5,741 327.5,740.5 328.5,740 329.5,739 331.5,738.5 332.5,738 333.5,737.5 335.5,737 337.5,736.5 339.5,736 341.5,736 342.5,735.5 344,735.5 345.5,735 347.5,735 349.5,735 351.5,734.5 353.5,734.5 355.5,734.5 356.5,734 358.5,734 359.5,733.5 361.5,733.5 363.5,733 365.5,732.5 367.5,732.5 368.5,732 370.5,732 371.5,731.5 373,731.5 374.5,731 376.5,731 377.5,730.5 379.5,730 381.5,729.5 383.5,729 385.5,728.5 387.5,728 389.5,728 390.5,727.5 392.5,727.5 394.5,727.5 396.5,727.5 398,727.5ZM434.5,837 436.5,837 437.5,836.5 439.5,836.5 441.5,836.5 442.5,836 444.5,836 446.5,836 448.5,836.5 450.5,836.5 452.5,836.5 454.5,837 456.5,837 458.5,837 459.5,837.5 461.5,837.5 463.5,838 465.5,838 467.5,838 468.5,838.5 470.5,838.5 472.5,839 474.5,839 476.5,839.5 478.5,839.5 480.5,840 482.5,840 484.5,840.5 486.5,840.5 488.5,841 490.5,841 492.5,841.5 494.5,842 496,842 497.5,842.5 498.5,843 499.5,843.5 500.5,844 501,845 501.5,846 501.5,848 501.5,850 501.5,852 502,853 502.5,854 503,856 503.5,857 504.5,858 505,859 505.5,860 506,861 507,862 507.5,863 508,864 508.5,865 509.5,866 510,867 510.5,868 511,869 511.5,870 512,871 512.5,872 513,873 513.5,874 514,876 514.5,877 515,879 515.5,881 515.5,882.5 515.5,884 516,886 516,888 515.5,889 515.5,891 515,893 514.5,895 514,897 513.5,898 513,899 512.5,900 510.5,900 508.5,900 506.5,900 504.5,900 502.5,900 500.5,900 498.5,900 496.5,900 494.5,900 492.5,900 490.5,900 488.5,900 486.5,900 484.5,900 482.5,900 480.5,900 478.5,900 476.5,900 474.5,900 472.5,900 470.5,900 468.5,900 466.5,900 464.5,900 462.5,900 460.5,900 458.5,900 456.5,900 454.5,900 452.5,900 450.5,900 448.5,900 446.5,900 444.5,900 442.5,900 440.5,900 438.5,900 437.5,899.5 436.5,898.5 435.5,897 435,896 434,895 433.5,894 432.5,893 432,892 431.5,891 430.5,890 430,889 429.5,888 429,887 428.5,886 428,885 427.5,884 427,883 426.5,882 426,881 425.5,880 425,879 424.5,878 424,876 423.5,875 423,874 422.5,872 422,871 421.5,869 421,867 420.5,865 420,863 419.5,861 419,860 418.5,859 418,858 417.5,857 417,856 416,855 415,854 414,853 413,852 412,851 411,850 410.5,849 410.5,847 411,846 412,845 413.5,844 414.5,843.5 415.5,843 416.5,842.5 417.5,842 418.5,841.5 420,841 421.5,840.5 422.5,840 424.5,839.5 426,839 427.5,838.5 429.5,838 431.5,837.5 433.5,837.5 434.5,837Z" fill="#00ff59"/>
<path d="M466,680.5 467.5,680.5 469.5,680.5 471.5,680.5 473.5,680.5 475.5,680.5 477.5,680.5 479.5,680.5 481.5,680.5 483.5,680.5 485.5,680.5 487.5,680.5 489.5,680.5 491.5,680.5 493.5,680.5 495.5,680.5 497.5,680.5 499.5,680.5 501.5,680.5 503.5,680.5 505.5,680.5 507.5,680.5 509.5,680.5 511.5,680.5 513.5,680.5 515.5,680.5 517.5,680.5 519.5,680.5 520.5,681.5 520.5,683.5 520.5,685.5 520.5,687.5 520.5,689.5 520.5,691.5 520.5,693.5 520.5,695.5 520.5,697.5 520.5,699.5 520.5,701.5 520.5,703.5 520.5,705.5 520.5,707.5 520.5,709.5 519.5,710.5 517.5,711 515.5,711 514.5,711.5 512.5,711.5 511.5,712 509.5,712 508.5,712.5 506.5,712.5 505.5,713 503.5,713 501.5,713 500.5,713.5 498.5,713.5 496.5,713.5 494.5,713.5 492.5,713.5 491.5,713 489.5,713 488.5,712.5 487,712.5 485.5,712 484.5,711.5 482.5,711 481.5,710.5 480.5,710 479.5,709.5 478.5,709 477.5,708 476.5,707.5 475.5,706.5 474.5,705.5 474,704.5 473.5,703.5 472.5,702.5 472,701.5 471.5,700.5 471,699.5 470.5,698.5 470,697.5 469.5,696.5 469,694.5 468.5,693.5 468,692.5 467.5,690.5 467,688.5 466.5,686.5 466.5,684.5 466,683.5 466,681.5ZM396.5,728.5 398.5,728.5 400.5,728.5 402.5,728 404.5,728 406.5,728 408.5,728 410.5,728 412.5,728.5 414,728.5 415.5,728.5 417.5,728.5 419.5,729 421.5,729 423.5,729 425.5,729 427.5,729 429.5,729.5 431.5,729.5 432.5,730 434.5,730.5 436.5,731 437.5,731.5 438.5,732 439.5,732.5 441.5,733 442.5,733.5 443.5,734 444.5,734.5 445.5,735.5 446.5,736 447.5,736.5 448.5,737 449.5,737.5 450.5,738.5 451.5,739 452.5,740 453.5,741 454.5,742 455.5,743 456.5,744.5 457.5,745.5 458,746.5 458.5,747.5 459.5,748.5 460,749.5 460.5,750.5 461,751.5 461.5,752.5 462,753.5 462.5,754.5 463,755.5 463.5,757.5 464,759.5 464,761.5 464,763.5 464,765.5 464,767.5 464,769.5 464,771.5 463.5,772.5 463.5,774.5 463.5,776.5 463,777.5 463,779.5 462.5,780.5 462,782.5 461.5,784 461,785.5 460.5,786.5 459.5,787.5 458.5,788.5 457.5,789.5 456.5,790 455.5,790.5 454.5,791 453,791 451.5,791.5 449.5,791.5 448.5,792 446.5,792 444.5,792 442.5,792 440.5,792 439.5,791.5 437.5,791.5 435.5,791.5 434,791 432.5,791 430.5,791 428.5,791 426.5,791 424.5,791 422.5,791 420.5,791 418.5,791 416.5,791 414.5,791 412.5,791 410.5,791 408.5,791 406.5,791 404.5,791 402.5,791 400.5,791 398.5,791 396.5,791 394.5,791 392.5,790.5 390.5,790.5 388.5,790.5 387.5,790 385.5,790 383.5,789.5 381.5,789.5 380.5,789 378.5,789 377.5,788.5 375.5,788.5 374.5,788 372.5,787.5 370.5,787.5 368.5,787 366.5,787 365.5,786.5 363.5,786.5 362.5,786 360.5,786 359.5,785.5 357.5,785.5 356.5,785 354.5,784.5 352.5,784.5 351.5,784 349.5,783.5 347.5,783 345.5,782.5 344.5,782 342.5,781.5 341.5,781 340.5,780.5 338.5,780 337.5,779.5 336.5,779 335.5,778.5 334.5,777.5 333.5,777 332.5,776.5 331.5,775.5 330.5,774.5 329.5,773.5 328.5,772.5 328,771.5 327.5,770.5 327,769.5 326.5,768.5 326,766.5 326,764.5 325.5,763.5 325.5,761.5 325.5,759.5 325.5,757.5 325.5,755.5 325.5,753.5 326,752.5 326,750.5 326.5,749.5 327,747.5 327.5,746.5 328.5,745.5 329,744.5 330.5,743.5 331.5,742.5 332.5,741.5 333.5,741 334.5,740.5 335.5,740 336.5,739.5 338.5,739 339.5,738.5 341.5,738 343.5,737.5 345.5,737 347.5,737 348.5,736.5 350.5,736.5 352.5,736 354.5,736 355.5,735.5 357.5,735.5 358.5,735 360.5,735 361.5,734.5 363.5,734.5 364.5,734 366.5,734 367.5,733.5 369.5,733 371.5,733 372.5,732.5 374.5,732 376.5,732 377.5,731.5 379.5,731 381.5,730.5 383.5,730 385.5,729.5 387.5,729 389.5,729 390.5,728.5 392.5,728.5 394.5,728.5 396.5,728.5ZM443,837 444.5,837 446.5,837 448.5,837 450.5,837 451.5,837.5 453.5,837.5 455.5,837.5 457.5,838 459.5,838 461.5,838 462.5,838.5 464.5,838.5 466.5,838.5 468.5,839 470.5,839 472.5,839.5 474.5,839.5 476.5,840 478.5,840 480.5,840.5 482.5,840.5 483.5,841 485.5,841 486.5,841.5 488.5,841.5 489.5,842 491.5,842.5 492.5,843 494.5,844 495.5,844.5 496.5,846 497,848 497.5,850 498,852 498.5,853 499,854 499.5,855 500,856 500.5,857 501,858 501.5,859 502.5,860 503,861 504,862 504.5,863 505,864 506,865 506.5,866 507,867 507.5,868 508,869 508.5,870 509,871 509.5,872 510,873 510.5,874 511,875 511.5,876 512,878 512.5,880 512.5,882 513,883 513,885 513,887 513,889 512.5,890 512.5,892 512,893 511.5,895 511,896 510.5,897 510,898 509.5,899 509,900 507.5,900 505.5,900 503.5,900 501.5,900 499.5,900 497.5,900 495.5,900 493.5,900 491.5,900 489.5,900 487.5,900 485.5,900 483.5,900 481.5,900 479.5,900 477.5,900 475.5,900 473.5,900 471.5,900 469.5,900 467.5,900 465.5,900 463.5,900 461.5,900 459.5,900 457.5,900 455.5,900 453.5,900 451.5,900 449.5,900 447.5,900 445.5,900 443.5,900 441.5,900 439.5,899 438.5,898 437.5,897 437,896 436,895 435.5,894 434.5,893 434,892 433.5,891 432.5,890 432,889 431.5,888 431,887 430.5,886 430,885 429.5,884 429,883 428.5,882 428,881 427.5,880 427,879 426.5,878 426,877 425.5,875 425,874 424.5,872 424,870 423.5,868 423.5,866 423,865 422.5,863 422,861 421.5,859 421,858 420.5,856.5 419.5,855 419,854 418.5,853 418,852 417,851 416.5,850 416.5,848 417,846 418,845 419,844 420.5,843.5 421.5,842.5 422.5,842 423.5,841.5 424.5,841 426.5,840.5 427.5,840 429.5,839.5 430.5,839 432.5,838.5 434.5,838 436.5,838 437.5,837.5 439.5,837.5 441.5,837 443,837Z" fill="#00ff73"/>
<path d="M468,680.5 469.5,680.5 471.5,680.5 473.5,680.5 475.5,680.5 477.5,680.5 479.5,680.5 481.5,680.5 483.5,680.5 485.5,680.5 487.5,680.5 489.5,680.5 491.5,680.5 493.5,680.5 495.5,680.5 497.5,680.5 499.5,680.5 501.5,680.5 503.5,680.5 505.5,680.5 507.5,680.5 509.5,680.5 511.5,680.5 513.5,680.5 515.5,680.5 517.5,680.5 519.5,680.5 520.5,681.5 520.5,683.5 520.5,685.5 520.5,687.5 520.5,689.5 520.5,691.5 520.5,693.5 520.5,695.5 520.5,697.5 520.5,699.5 520.5,701.5 520.5,703.5 520.5,705.5 520.5,707.5 518.5,708 516.5,708.5 514.5,708.5 513.5,709 511.5,709 510.5,709.5 508.5,709.5 507.5,710 505.5,710 503.5,710.5 501.5,710.5 499.5,710.5 497.5,710.5 495.5,710.5 493.5,710.5 491.5,710 489.5,710 488.5,709.5 486.5,709 485.5,708.5 483.5,708 482.5,707.5 481.5,707 480.5,706.5 479.5,706 478.5,705 477.5,704.5 476.5,703.5 476,702.5 475,701.5 474.5,700.5 473.5,699.5 473,698.5 472.5,697.5 472,696.5 471.5,695.5 471,694.5 470.5,693.5 470,691.5 469.5,690.5 469,688.5 468.5,686.5 468.5,684.5 468,683.5 468,681.5ZM395,729.5 396.5,729.5 398.5,729.5 399.5,729 401.5,729 403.5,729 405.5,729 407.5,729 409.5,729 411.5,729 413.5,729.5 415,729.5 416.5,729.5 418.5,729.5 420.5,729.5 422.5,730 424.5,730 426.5,730 428.5,730 429.5,730.5 431.5,730.5 432.5,731 434,731.5 435.5,732 436.5,732.5 438.5,733 439.5,733.5 440.5,734 441.5,734.5 442.5,735 443.5,735.5 444.5,736 445.5,737 446.5,737.5 447.5,738 448.5,738.5 449.5,739.5 450.5,740 451.5,741 452.5,742 453.5,743 454.5,744.5 455.5,745.5 456,746.5 457,747.5 457.5,748.5 458,749.5 458.5,750.5 459,751.5 459.5,752.5 460,753.5 460.5,754.5 461,755.5 461.5,757.5 462,759.5 462,761.5 462.5,763.5 462.5,765.5 462,767.5 462,769.5 462,771.5 462,773.5 461.5,774.5 461.5,776 461.5,777.5 461,778.5 460.5,780.5 460,782.5 459.5,783.5 459,784.5 458.5,785.5 457.5,786.5 456.5,787.5 455.5,788 454.5,788.5 453.5,789 452.5,789.5 450.5,790 448.5,790 447,790 445.5,790.5 443.5,790.5 441.5,790.5 440,790 438.5,790 436.5,790 434.5,790 432.5,790 431.5,789.5 429.5,789.5 427.5,789.5 425.5,789.5 423.5,789.5 421.5,789.5 420.5,790 418.5,790 416.5,790 414.5,790 412.5,790 410.5,790 408.5,790 406.5,790 404.5,790 403.5,789.5 401.5,789.5 399.5,789.5 397.5,789.5 395.5,789.5 393.5,789.5 391.5,789.5 390.5,789 388.5,789 386.5,788.5 384.5,788.5 383.5,788 381.5,788 380.5,787.5 379,787.5 377.5,787 376.5,786.5 374.5,786.5 373.5,786 371.5,786 370.5,785.5 368.5,785.5 367.5,785 365.5,784.5 363.5,784.5 362.5,784 360.5,783.5 358.5,783.5 357.5,783 355.5,782.5 354,782.5 352.5,782 351.5,781.5 349.5,781 348.5,780.5 346.5,780 345.5,779.5 344.5,779 343.5,778.5 342.5,778 341.5,777.5 340.5,777 339.5,776.5 338.5,776 337.5,775.5 336.5,774.5 335.5,773.5 334.5,772.5 333.5,771.5 333,770.5 332.5,769.5 332,768.5 331.5,767.5 331,765.5 331,763.5 330.5,761.5 330.5,759.5 330.5,757.5 330.5,755.5 331,754.5 331,752.5 331.5,750.5 332,749.5 332.5,747.5 333.5,746.5 334,745.5 335,744.5 336.5,743.5 337.5,742.5 338.5,742 339.5,741.5 340.5,741 341.5,740.5 343.5,740 344.5,739.5 346.5,739 348.5,738.5 350.5,738 352.5,738 353.5,737.5 355,737.5 356.5,737 358.5,736.5 360,736.5 361.5,736 363.5,735.5 365,735.5 366.5,735 368.5,734.5 370.5,734 372.5,734 373.5,733.5 375.5,733 377.5,732.5 379.5,732 381.5,731.5 383.5,731 385.5,730.5 387.5,730 389.5,730 390.5,729.5 392.5,729.5 394.5,729.5ZM441.5,838 443.5,838 445.5,838 447.5,838 449.5,838 451.5,838 453.5,838 455.5,838 456.5,838.5 458.5,838.5 460.5,838.5 462.5,839 464.5,839 466.5,839 467.5,839.5 469.5,839.5 471.5,839.5 472.5,840 474.5,840 476.5,840.5 478.5,840.5 479.5,841 481.5,841 482.5,841.5 484.5,842 486,842 487.5,842.5 488.5,843 489.5,843.5 490.5,844 491.5,845 492.5,846 493,847 493.5,849 494,850 494.5,851 495,853 495.5,854 496.5,855 497,856 497.5,857 498.5,858 499,859 500,860 500.5,861 501,862 502,863 502.5,864 503.5,865 504,866 504.5,867 505,868 506,869 506.5,870 507,871 507.5,872 508,873 508.5,875 509,876 509.5,878 510,879 510,881 510.5,882 510.5,884 510.5,886 510.5,888 510,890 509.5,892 509,894 508.5,895 508,896 507.5,897 507,898 506.5,899 506,900 504.5,900 502.5,900 500.5,900 498.5,900 496.5,900 494.5,900 492.5,900 490.5,900 488.5,900 486.5,900 484.5,900 482.5,900 480.5,900 478.5,900 476.5,900 474.5,900 472.5,900 470.5,900 468.5,900 466.5,900 464.5,900 462.5,900 460.5,900 458.5,900 456.5,900 454.5,900 452.5,900 450.5,900 448.5,900 446.5,900 444.5,900 443,900 442,899 441,898 440,897 439,896 438,895 437.5,894 436.5,893 436,892 435.5,891 434.5,890 434,889 433.5,888 433,887 432,886 431.5,885 431,884 430.5,883 430,882 429.5,881 429,880 428.5,878.5 428,877 427.5,876 427,874 426.5,872 426,870 425.5,868 425.5,866.5 425.5,865 425,864 425,862 424.5,861 424,859 423.5,857 423,855 422.5,854 422,853 421.5,852 421,850 421,848 421.5,846.5 422.5,845 423.5,844.5 424.5,843.5 425.5,843 426.5,842.5 427.5,842 428.5,841.5 429.5,841 430.5,840.5 431.5,840 433.5,839.5 435,839 436.5,839 437.5,838.5 439.5,838.5 440.5,838Z" fill="#00ff8c"/>
<path d="M469.5,680.5 471.5,680.5 473.5,680.5 475.5,680.5 477.5,680.5 479.5,680.5 481.5,680.5 483.5,680.5 485.5,680.5 487.5,680.5 489.5,680.5 491.5,680.5 493.5,680.5 495.5,680.5 497.5,680.5 499.5,680.5 501.5,680.5 503.5,680.5 505.5,680.5 507.5,680.5 509.5,680.5 511.5,680.5 513.5,680.5 515.5,680.5 517.5,680.5 519.5,680.5 520.5,681.5 520.5,683.5 520.5,685.5 520.5,687.5 520.5,689.5 520.5,691.5 520.5,693.5 520.5,695.5 520.5,697.5 520.5,699.5 520.5,701.5 520.5,703.5 519.5,705 517.5,705.5 515.5,706 513.5,706 512.5,706.5 510.5,707 508.5,707 506.5,707.5 504.5,707.5 502.5,707.5 501.5,708 499.5,708 497.5,708 495.5,708 494.5,707.5 492.5,707.5 490.5,707 488.5,706.5 487.5,706 485.5,705.5 484.5,705 483.5,704.5 482.5,704 481.5,703.5 480.5,703 479.5,702.5 478.5,701.5 477.5,700.5 476.5,699.5 476,698.5 475,697.5 474.5,696.5 474,695.5 473.5,694.5 473,693.5 472.5,692.5 472,691.5 471.5,689.5 471,688.5 470.5,686.5 470.5,684.5 470,683.5 470,681.5 469.5,680.5ZM394,730.5 395.5,730.5 397.5,730 399.5,730 401.5,730 403.5,730 405.5,730 407.5,730 409.5,730 411.5,730 413.5,730 414.5,730.5 416,730.5 417.5,730.5 419.5,730.5 421.5,730.5 423.5,730.5 424.5,731 426.5,731 428.5,731 430,731.5 431.5,731.5 432.5,732 433.5,732.5 435.5,733 436.5,733.5 437.5,734 438.5,734.5 439.5,735 440.5,735.5 441.5,736 442.5,736.5 443.5,737 444.5,737.5 445.5,738.5 446.5,739 447.5,739.5 448.5,740.5 449.5,741 450.5,742 451.5,743 452.5,744 453.5,745.5 454.5,746.5 455,747.5 455.5,748.5 456,749.5 457,750.5 457.5,751.5 458,752.5 458.5,754 459,755.5 459.5,756.5 460,758.5 460,760.5 460.5,762.5 460.5,764.5 460.5,766.5 460.5,768.5 460,769.5 460,771.5 460,773.5 459.5,775.5 459.5,777.5 459,778.5 458.5,780.5 458,782.5 457.5,783.5 456.5,784.5 455.5,785.5 454.5,786.5 453.5,787 452.5,787.5 450.5,788 449.5,788.5 447.5,788.5 445.5,789 443.5,789 441.5,789 439.5,789 437.5,788.5 435.5,788.5 433.5,788.5 431.5,788.5 429.5,788.5 427.5,788.5 425.5,788.5 423.5,788.5 421.5,788.5 419.5,788.5 417.5,788.5 415.5,788.5 413.5,788.5 411.5,788.5 409.5,788.5 407.5,788.5 405.5,788.5 403.5,788.5 401.5,788.5 399.5,788.5 397.5,788.5 395.5,788.5 393.5,788 391.5,788 389.5,788 388.5,787.5 386.5,787.5 385.5,787 383.5,786.5 381.5,786.5 380.5,786 378.5,785.5 377,785.5 375.5,785 374.5,784.5 372.5,784.5 371.5,784 369.5,783.5 367.5,783.5 366.5,783 364.5,782.5 363,782.5 361.5,782 360.5,781.5 359,781.5 357.5,781 356.5,780.5 354.5,780 353.5,779.5 351.5,779 350.5,778.5 349.5,778 347.5,777.5 346.5,777 345.5,776.5 344.5,775.5 343.5,775 342.5,774.5 341.5,773.5 340.5,772.5 339.5,771.5 338.5,770.5 338,769.5 337.5,768.5 337,767.5 336.5,766.5 336,764.5 336,762.5 335.5,760.5 335.5,758.5 335.5,756.5 336,755.5 336,753.5 336.5,751.5 337,749.5 337.5,748.5 338,747.5 339,746.5 339.5,745.5 340.5,745 341.5,744 342.5,743.5 343.5,743 344.5,742.5 345.5,742 346.5,741.5 347.5,741 349.5,740.5 350.5,740 352.5,739.5 354,739.5 355.5,739 356.5,738.5 358,738.5 359.5,738 361.5,737.5 363.5,737 365.5,736.5 367.5,736 369.5,735.5 371.5,735 373.5,734.5 375,734.5 376.5,734 378.5,733.5 379.5,733 381.5,732.5 383.5,732 385.5,731.5 387.5,731 389.5,731 390.5,730.5 392.5,730.5 394,730.5ZM440.5,839 442.5,839 444.5,838.5 446.5,838.5 448.5,838.5 450.5,838.5 452.5,838.5 454.5,839 456.5,839 458.5,839 460,839 461.5,839 462.5,839.5 464.5,839.5 466.5,839.5 467.5,840 469.5,840 471,840 472.5,840.5 474.5,840.5 475.5,841 477.5,841 478.5,841.5 480.5,842 482,842 483.5,842.5 484.5,843 485.5,843.5 486.5,844 487.5,844.5 488.5,846 489.5,847 490,848 490.5,849 491,851 491.5,852 492.5,853 493,854 493.5,855 494.5,856 495,857 496,858 496.5,859 497.5,860 498,861 499,862 499.5,863 500.5,864 501,865 502,866 502.5,867 503,868 503.5,869 504,870 504.5,871 505,872 505.5,873 506,874 506.5,875 507,876 507.5,878 508,880 508,882 508.5,883 508.5,885 508.5,887 508,888 508,890 507.5,891 507,893 506.5,894 506,895 505.5,896 505,897 504.5,898 503.5,899 503,900 501.5,900 499.5,900 497.5,900 495.5,900 493.5,900 491.5,900 489.5,900 487.5,900 485.5,900 483.5,900 481.5,900 479.5,900 477.5,900 475.5,900 473.5,900 471.5,900 469.5,900 467.5,900 465.5,900 463.5,900 461.5,900 459.5,900 457.5,900 455.5,900 453.5,900 451.5,900 449.5,900 447.5,900 445.5,900 444.5,899 443.5,898.5 442.5,897.5 441.5,896.5 440.5,895.5 439.5,894 438.5,893 438,892 437,891 436.5,890 436,889 435,888 434.5,887 434,886 433.5,885 433,884 432.5,883 432,882 431.5,881 431,880 430.5,879 430,878 429.5,876 429,875 428.5,873 428,871 428,869 427.5,868 427.5,866.5 427.5,865 427,864 427,862 427,860 426.5,859 426.5,857 426,856 425.5,854 425,853 425,851 424.5,850 425,848 425.5,846.5 426.5,845 427.5,844 428.5,843.5 429.5,842.5 430.5,842 431.5,841.5 432.5,841 434.5,840.5 435.5,840 437.5,839.5 439.5,839.5 440.5,839Z" fill="#00ffa6"/>
<path d="M471.5,680.5 473.5,680.5 475.5,680.5 477.5,680.5 479.5,680.5 481.5,680.5 483.5,680.5 485.5,680.5 487.5,680.5 489.5,680.5 491.5,680.5 493.5,680.5 495.5,680.5 497.5,680.5 499.5,680.5 501.5,680.5 503.5,680.5 505.5,680.5 507.5,680.5 509.5,680.5 511.5,680.5 513.5,680.5 515.5,680.5 517.5,680.5 519.5,680.5 520.5,681.5 520.5,683.5 520.5,685.5 520.5,687.5 520.5,689.5 520.5,691.5 520.5,693.5 520.5,695.5 520.5,697.5 520.5,699.5 520.5,701.5 519.5,702 518.5,702.5 516.5,703 514.5,703.5 512.5,704 510.5,704 509.5,704.5 507.5,704.5 505.5,705 503.5,705 501.5,705 499.5,705.5 497.5,705.5 496.5,705 494.5,705 492.5,704.5 491,704.5 489.5,704 488.5,703.5 486.5,703 485.5,702.5 484.5,702 483.5,701.5 482.5,701 481.5,700.5 480.5,699.5 479.5,699 478.5,698 477.5,696.5 476.5,695.5 476,694.5 475.5,693.5 475,692.5 474.5,691.5 474,690.5 473.5,689.5 473,687.5 472.5,686.5 472,684.5 472,682.5 471.5,680.5ZM393,731.5 394.5,731.5 396.5,731 398.5,731 400.5,731 402.5,731 404.5,731 406.5,731 408.5,731 410.5,731 412.5,731 414.5,731 416.5,731.5 418,731.5 419.5,731.5 421.5,731.5 423.5,731.5 425.5,731.5 426.5,732 428.5,732 430.5,732.5 432.5,733 433.5,733.5 435.5,734 436.5,734.5 437.5,735 438.5,735.5 439.5,736 440.5,736.5 441.5,737 442.5,738 443.5,738.5 444.5,739 445.5,740 446.5,740.5 447.5,741.5 448.5,742 449.5,743 450.5,744 451.5,745 452.5,746.5 453.5,747.5 454,748.5 454.5,749.5 455,750.5 455.5,751.5 456,752.5 456.5,753.5 457,754.5 457.5,756.5 458,757.5 458,759.5 458.5,760.5 458.5,762.5 458.5,764.5 458.5,766.5 458.5,768.5 458.5,770.5 458,771.5 458,773.5 458,775.5 457.5,776.5 457,778.5 456.5,780.5 456,781.5 455.5,782.5 454.5,783.5 453.5,784.5 452.5,785 451.5,785.5 450.5,786 449.5,786.5 447.5,787 445.5,787 444.5,787.5 442.5,787.5 440.5,787.5 438.5,787.5 436.5,787.5 434.5,787.5 433.5,787 431.5,787 429.5,787 427.5,787 425.5,787 423.5,787.5 421.5,787.5 419.5,787.5 417.5,787.5 415.5,787.5 413.5,787.5 411.5,787.5 409.5,787.5 407.5,787.5 405.5,787.5 403.5,787.5 401.5,787.5 399.5,787.5 398.5,787 396.5,787 394.5,787 392.5,787 390.5,786.5 388.5,786.5 387.5,786 385.5,786 384.5,785.5 383,785.5 381.5,785 380.5,784.5 379,784.5 377.5,784 376.5,783.5 374.5,783 372.5,782.5 371,782.5 369.5,782 368.5,781.5 367,781.5 365.5,781 364.5,780.5 362.5,780 361.5,779.5 360,779.5 358.5,779 357.5,778.5 356.5,778 354.5,777.5 353.5,777 352.5,776.5 351.5,776 350.5,775.5 349.5,775 348.5,774.5 347.5,774 346.5,773 345.5,772.5 344.5,771.5 344,770.5 343,769.5 342.5,768.5 342,767.5 341.5,766.5 341,764.5 341,762.5 340.5,761.5 340.5,759.5 340.5,757.5 340.5,755.5 341,754.5 341,752.5 341.5,751.5 342,749.5 342.5,748.5 343.5,747.5 344.5,746.5 345.5,745.5 346.5,744.5 347.5,744 348.5,743.5 349.5,743 350.5,742.5 351.5,742 353.5,741.5 354.5,741 356.5,740.5 358.5,740 359.5,739.5 361.5,739 363.5,738.5 365.5,738 366.5,737.5 368,737.5 369.5,737 370.5,736.5 372.5,736 374.5,735.5 376.5,735 378.5,734.5 380.5,734 381.5,733.5 383.5,733 385.5,732.5 387.5,732 389.5,732 390.5,731.5 392.5,731.5ZM440,840 441.5,840 442.5,839.5 444.5,839.5 446.5,839.5 448.5,839.5 450.5,839.5 452.5,839.5 454.5,839.5 456.5,839.5 458.5,839.5 460.5,839.5 461.5,840 463.5,840 465.5,840 467.5,840.5 469.5,840.5 471.5,841 473.5,841 474.5,841.5 476.5,841.5 477.5,842 479.5,842.5 480.5,843 482.5,843.5 483.5,844 484.5,845 485.5,846 486,847 486.5,848 487.5,849 488,850 488.5,851 489,852 489.5,853 490.5,854 491,855 492,856 492.5,857 493.5,858 494.5,859 495,860 496,861 496.5,862 497.5,863 498.5,864 499,865 500,866 500.5,867 501,868 501.5,869 502.5,870 503,871 503.5,872 504,874 504.5,875 505,876 505.5,878 506,880 506,882 506.5,883 506.5,885 506,887 506,889 505.5,890 505,892 504.5,893 504,895 503,896 502.5,897 502,898 501,899 500,900 498.5,900 496.5,900 494.5,900 492.5,900 490.5,900 488.5,900 486.5,900 484.5,900 482.5,900 480.5,900 478.5,900 476.5,900 474.5,900 472.5,900 470.5,900 468.5,900 466.5,900 464.5,900 462.5,900 460.5,900 458.5,900 456.5,900 454.5,900 452.5,900 450.5,900 448.5,900 447.5,899.5 446.5,899 445.5,898 444.5,897 443.5,896 442.5,895 441.5,894 440.5,893 439.5,892 439,891 438.5,890 437.5,889 437,888 436.5,887 435.5,886 435,885 434.5,884 434,883 433.5,882 433,881 432.5,880 432,878 431.5,877 431,876 430.5,874 430,872 430,870 429.5,869 429.5,867.5 429.5,866 429,864 429,862 429,860 429,858 428.5,857 428.5,855 428,854 428,852 428,850 428,848 428.5,847 429,846 430,845 431,844 432,843 433.5,842.5 434.5,842 435.5,841.5 436.5,841 438.5,840.5 439.5,840Z" fill="#00ffbf"/>
<path d="M473.5,680.5 475.5,680.5 477.5,680.5 479.5,680.5 481.5,680.5 483.5,680.5 485.5,680.5 487.5,680.5 489.5,680.5 491.5,680.5 493.5,680.5 495.5,680.5 497.5,680.5 499.5,680.5 501.5,680.5 503.5,680.5 505.5,680.5 507.5,680.5 509.5,680.5 511.5,680.5 513.5,680.5 515.5,680.5 517.5,680.5 519.5,680.5 520.5,681.5 520.5,683.5 520.5,685.5 520.5,687.5 520.5,689.5 520.5,691.5 520.5,693.5 520.5,695.5 520.5,697.5 520.5,699 519.5,699.5 517.5,700 516.5,700.5 514.5,701 512.5,701 511.5,701.5 509.5,702 507.5,702 505.5,702.5 504,702.5 502.5,702.5 500.5,702.5 498.5,702.5 496.5,702.5 495,702.5 493.5,702 491.5,702 490.5,701.5 489.5,701 487.5,700.5 486.5,700 485.5,699.5 484.5,699 483.5,698.5 482.5,697.5 481.5,697 480.5,696 479.5,695 478.5,694 477.5,692.5 477,691.5 476.5,690.5 476,689.5 475.5,688.5 475,687.5 474.5,685.5 474,683.5 473.5,681.5ZM392.5,732.5 394.5,732 396.5,732 398.5,732 400.5,732 402.5,732 404.5,732 406.5,732 408.5,732 410.5,732 412.5,732 414.5,732 416.5,732 418.5,732.5 420.5,732.5 422.5,732.5 424.5,732.5 426.5,732.5 427.5,733 429.5,733 430.5,733.5 432.5,734 433.5,734.5 435.5,735 436.5,735.5 437.5,736 438.5,736.5 439.5,737.5 440.5,738 441.5,738.5 442.5,739 443.5,740 444.5,740.5 445.5,741.5 446.5,742 447.5,743 448.5,744 449.5,745 450.5,746 451.5,747 452.5,748.5 453,749.5 453.5,750.5 454,751.5 454.5,752.5 455,753.5 455.5,755 456,756.5 456.5,758.5 456.5,760 456.5,761.5 456.5,763.5 456.5,765.5 456.5,767.5 456.5,769.5 456.5,771.5 456.5,773.5 456,774.5 456,776.5 455.5,777.5 455,778.5 454.5,780 453.5,781.5 453,782.5 451.5,783.5 450.5,784 449.5,784.5 448.5,785 447,785.5 445.5,785.5 443.5,786 441.5,786 439.5,786 437.5,786 435.5,786 433.5,786 431.5,786 429.5,786 427.5,786 425.5,786 423.5,786 421.5,786 419.5,786.5 417.5,786.5 415.5,786.5 413.5,786.5 411.5,786.5 409.5,786.5 407.5,786.5 405.5,786.5 403.5,786.5 402.5,786 400.5,786 398.5,786 396.5,786 394.5,786 392.5,786 391.5,785.5 389.5,785.5 388.5,785 386.5,785 385.5,784.5 383.5,784 381.5,783.5 380.5,783 378.5,782.5 376.5,782 375.5,781.5 374,781.5 372.5,781 371.5,780.5 369.5,780 368.5,779.5 367,779.5 365.5,779 364.5,778.5 363.5,778 361.5,777.5 360.5,777 359.5,776.5 357.5,776 356.5,775.5 355.5,775 354.5,774.5 353.5,774 352.5,773.5 351.5,772.5 350.5,771.5 349.5,770.5 348.5,769.5 347.5,768.5 347,767.5 346.5,766.5 346,764.5 345.5,762.5 345.5,760.5 345.5,758.5 345.5,756.5 345.5,754.5 346,753.5 346.5,751.5 347.5,749.5 348,748.5 348.5,747.5 349.5,747 350.5,746 351.5,745.5 352.5,744.5 353.5,744 354.5,743.5 355.5,743 357.5,742.5 358.5,742 359.5,741.5 360.5,741 362.5,740.5 363.5,740 365.5,739.5 366.5,739 368.5,738.5 370.5,738 372.5,737.5 373.5,737 375.5,736.5 377.5,736 378.5,735.5 380.5,735 382.5,734.5 383.5,734 385.5,733.5 387.5,733 389.5,733 390.5,732.5 392.5,732.5ZM446.5,840 448.5,840 450.5,840 452.5,840 454.5,840 456.5,840 458,840 459.5,840 460.5,840.5 462.5,840.5 464.5,840.5 466.5,841 468.5,841 470.5,841.5 472.5,841.5 473.5,842 475.5,842.5 477.5,843 478.5,843.5 479.5,844 480.5,844.5 481.5,845 482.5,846 483,847 484,848 484.5,849 485,850 486,851 486.5,852 487,853 488,854 488.5,855 489.5,856 490.5,857 491.5,858 492,859 493,860 494,861 494.5,862 495.5,863 496.5,864 497,865 498,866 498.5,867 499,868 500,869 500.5,870 501,871 501.5,872 502,873 502.5,874 503,875 503.5,877 504,879 504.5,881 504.5,883 504.5,885 504.5,887 504,888 503.5,890 503,892 502.5,893 502,894 501.5,895 501,896 500,897 499.5,898 498.5,899 497.5,900 495.5,900 493.5,900 491.5,900 489.5,900 487.5,900 485.5,900 483.5,900 481.5,900 479.5,900 477.5,900 475.5,900 473.5,900 471.5,900 469.5,900 467.5,900 465.5,900 463.5,900 461.5,900 459.5,900 457.5,900 455.5,900 453.5,900 451.5,900 449.5,899 448.5,898.5 447.5,897.5 446.5,897 445.5,896 444.5,895 443.5,894 442.5,893 441.5,892 441,891 440,890 439.5,889 438.5,888 438,887 437.5,886 437,885 436,884 435.5,883 435,882 434.5,881 434,879 433.5,878 433,877 432.5,875 432,873 431.5,871 431.5,869.5 431.5,868 431,866 431,864 431,862 431,860 431,858 431,856 430.5,855 430.5,853 430.5,851 431,849 431.5,847 432,846 433,845 434,844 435.5,843 436.5,842.5 437.5,842 438.5,841.5 440.5,841 442.5,840.5 444.5,840.5 445.5,840Z" fill="#00ffd9"/>
<path d="M475.5,680.5 477.5,680.5 479.5,680.5 481.5,680.5 483.5,680.5 485.5,680.5 487.5,680.5 489.5,680.5 491.5,680.5 493.5,680.5 495.5,680.5 497.5,680.5 499.5,680.5 501.5,680.5 503.5,680.5 505.5,680.5 507.5,680.5 509.5,680.5 511.5,680.5 513.5,680.5 515.5,680.5 517.5,680.5 519.5,680.5 520.5,681.5 520.5,683.5 520.5,685.5 520.5,687.5 520.5,689.5 520.5,691.5 520.5,693.5 520.5,695.5 519.5,696.5 518.5,697 517,697.5 515.5,698 513.5,698.5 511.5,699 509.5,699 508.5,699.5 506.5,699.5 505.5,700 503.5,700 501.5,700 499.5,700 497.5,700 495.5,700 493.5,699.5 491.5,699 490.5,698.5 488.5,698 487.5,697.5 486.5,697 485.5,696.5 484.5,695.5 483.5,695 482.5,694 481.5,693.5 480.5,692.5 480,691.5 479,690.5 478.5,689.5 478,688.5 477.5,687.5 477,686.5 476.5,684.5 476,683.5 476,681.5 475.5,680.5ZM392.5,733.5 394.5,733 396.5,733 398.5,733 400.5,733 402.5,733 404.5,733 406.5,733 408.5,733 410.5,733 412.5,733 414.5,733 416.5,733 418.5,733 420.5,733.5 422.5,733.5 424.5,733.5 426.5,733.5 428.5,734 430.5,734.5 432.5,735 433.5,735.5 434.5,736 435.5,736.5 436.5,737 437.5,737.5 438.5,738 439.5,738.5 440.5,739 441.5,740 442.5,740.5 443.5,741.5 444.5,742 445.5,743 446.5,744 447.5,744.5 448,745.5 449,746.5 450,747.5 450.5,748.5 451.5,749.5 452,750.5 452.5,751.5 453,752.5 453.5,754 454,755.5 454.5,757.5 454.5,759.5 455,760.5 455,762.5 455,764.5 455,766.5 455,768.5 454.5,770.5 454.5,772.5 454.5,774.5 454,775.5 453.5,777.5 453,778.5 452.5,779.5 452,780.5 451,781.5 449.5,782 448.5,783 447.5,783.5 445.5,784 443.5,784.5 441.5,784.5 439.5,784.5 437.5,785 435.5,785 433.5,785 431.5,785 429.5,785 427.5,785 425.5,785 423.5,785 421.5,785 419.5,785 417.5,785 416,785.5 414.5,785.5 412.5,785.5 410.5,785.5 408.5,785.5 406.5,785.5 404.5,785 402.5,785 400.5,785 398.5,785 396.5,785 394.5,785 393.5,784.5 391.5,784.5 390,784.5 388.5,784 386.5,783.5 384.5,783 383.5,782.5 382,782.5 380.5,782 379.5,781.5 378.5,781 377.5,780.5 376,780.5 374.5,779.5 373,779.5 371.5,778.5 370,778.5 368.5,777.5 366.5,777 365.5,776.5 364.5,776 362.5,775.5 361.5,775 360.5,774.5 359.5,774 358.5,773.5 357.5,772.5 356.5,772 355.5,771.5 354.5,770.5 353.5,769.5 353,768.5 352.5,767.5 351.5,766.5 351,764.5 350.5,762.5 350.5,760.5 350.5,758.5 350.5,756.5 350.5,754.5 351,753.5 351.5,751.5 352,750.5 352.5,749.5 353.5,748.5 354.5,747.5 355.5,746.5 356.5,745.5 357.5,745 358.5,744.5 359.5,744 360.5,743.5 361.5,743 362.5,742.5 363.5,742 364.5,741.5 366.5,741 367.5,740.5 368.5,740 370.5,739.5 371.5,739 373.5,738.5 375.5,738 376.5,737.5 378.5,737 379.5,736.5 381.5,736 382.5,735.5 384.5,735 385.5,734.5 387,734.5 388.5,734 390.5,733.5 392.5,733.5ZM445.5,841 447.5,841 449.5,841 450.5,840.5 452.5,840.5 454.5,840.5 456.5,841 458.5,841 460.5,841 462.5,841 464.5,841.5 466.5,841.5 468.5,842 470.5,842 471.5,842.5 473.5,843 475.5,843.5 476.5,844 477.5,844.5 478.5,845.5 479.5,846 480.5,847 481,848 482,849 482.5,850 483,851 484,852 484.5,853 485.5,854 486.5,855 487.5,856 488,857 489,858 490,859 491,860 492,861 492.5,862 493.5,863 494.5,864 495.5,865 496,866 497,867 497.5,868 498,869 498.5,870 499,871 499.5,872 500,873 500.5,874 501,875 501.5,876 502,878 502.5,880 502.5,882 502.5,884 502.5,886 502.5,888 502,889 501.5,891 501,892 500.5,893 500,894 499.5,895 498.5,896 498,897 497,898 496,899 494.5,900 492.5,900 490.5,900 488.5,900 486.5,900 484.5,900 482.5,900 480.5,900 478.5,900 476.5,900 474.5,900 472.5,900 470.5,900 468.5,900 466.5,900 464.5,900 462.5,900 460.5,900 458.5,900 456.5,900 454.5,900 452.5,899.5 451.5,898.5 450.5,898 449.5,897.5 448.5,896.5 447.5,895.5 446.5,895 445.5,894 444.5,893 443.5,892 442.5,891 442,890 441,889 440.5,888 439.5,887 439,886 438.5,885 438,884 437.5,883 437,882 436.5,881 436,880 435.5,879 435,878 434.5,876 434,875 433.5,873 433.5,871 433,870 433,868 433,866 433,864 433,862 433,860 433,858 433,856 433,854 433,852 433.5,850 434,848 434.5,847 435,846 436,845 437,844 438.5,843.5 439.5,843 440.5,842.5 441.5,842 442.5,841.5 444.5,841.5 445.5,841Z" fill="#00fff2"/>
<path d="M478,680.5 479.5,680.5 481.5,680.5 483.5,680.5 485.5,680.5 487.5,680.5 489.5,680.5 491.5,680.5 493.5,680.5 495.5,680.5 497.5,680.5 499.5,680.5 501.5,680.5 503.5,680.5 505.5,680.5 507.5,680.5 509.5,680.5 511.5,680.5 513.5,680.5 515.5,680.5 517.5,680.5 519.5,680.5 520.5,681.5 520.5,683.5 520.5,685.5 520.5,687.5 520.5,689.5 520.5,691.5 520.5,693 519.5,693.5 518.5,694 517.5,694.5 515.5,695 514.5,695.5 512.5,696 510.5,696.5 508.5,696.5 507.5,697 505.5,697 504.5,697.5 502.5,697.5 500.5,697.5 498.5,697.5 497,697.5 495.5,697.5 494.5,697 492.5,696.5 490.5,696 489.5,695.5 488.5,695 487.5,694.5 486.5,694 485.5,693 484.5,692 483.5,691.5 482.5,690.5 482,689.5 481,688.5 480.5,687.5 480,686.5 479.5,685.5 479,684.5 478.5,683.5 478,681.5ZM392,734.5 393.5,734 395.5,734 397.5,734 399.5,734 401.5,734 403.5,734 404.5,733.5 406.5,733.5 408.5,733.5 410.5,733.5 412.5,733.5 413.5,734 415.5,734 417.5,734 419.5,734 421.5,734 422.5,734.5 424.5,734.5 426.5,734.5 428.5,735 430.5,735.5 432.5,736 433.5,736.5 434.5,737 435.5,737.5 436.5,738 437.5,738.5 438.5,739 439.5,740 440.5,740.5 441.5,741 442.5,742 443.5,743 444.5,743.5 445,744.5 446,745.5 447,746.5 448,747.5 449,748.5 449.5,749.5 450,750.5 450.5,751.5 451,752.5 451.5,753.5 452,754.5 452.5,755.5 452.5,757.5 453,758.5 453,760.5 453,762.5 453,764.5 453,766.5 453,768.5 453,770.5 452.5,772.5 452.5,774.5 452,775.5 451.5,776.5 450.5,778.5 450,779.5 448.5,780.5 447.5,781 446.5,781.5 445.5,782 444.5,782.5 442.5,783 440.5,783 439.5,783.5 437.5,783.5 435.5,783.5 433.5,783.5 431.5,783.5 429.5,783.5 427.5,783.5 425.5,784 423.5,784 421.5,784 419.5,784 417.5,784 415.5,784 413.5,784 412.5,784.5 410.5,784.5 408.5,784.5 407.5,784 405.5,784 403.5,784 401.5,784 399.5,784 397.5,784 395.5,784 394.5,783.5 392.5,783.5 391,783.5 389.5,783 387.5,782.5 385.5,782 384.5,781.5 383,781.5 381.5,780.5 379.5,780 378.5,779.5 377.5,779 376.5,778.5 374.5,778 373.5,777.5 372.5,777 371.5,776.5 369.5,776 368.5,775.5 367.5,775 366.5,774.5 365.5,774 364.5,773.5 363.5,773 362.5,772.5 361.5,771.5 360.5,770.5 359.5,770 358.5,768.5 357.5,767.5 357,766.5 356.5,765.5 356,764.5 356,762.5 355.5,761.5 355.5,759.5 355.5,757.5 355.5,755.5 356,754.5 356,752.5 356.5,751.5 357,750.5 357.5,749.5 358.5,748.5 359.5,747.5 360.5,746.5 361.5,746 362.5,745 363.5,744.5 364.5,744 365.5,743.5 366.5,743 367.5,742.5 368.5,742 369.5,741.5 371.5,741 372.5,740.5 373.5,740 375.5,739.5 376.5,739 377.5,738.5 378.5,738 380.5,737.5 381.5,737 382.5,736.5 384.5,736 386.5,735.5 387.5,735 389.5,735 390.5,734.5 392,734.5ZM446,842 447.5,842 449.5,841.5 451.5,841.5 453.5,841.5 455.5,841.5 457.5,841.5 459.5,841.5 461.5,842 463.5,842 465,842 466.5,842.5 468.5,842.5 469.5,843 471.5,843.5 472.5,844 473.5,844.5 474.5,845 475.5,845.5 476.5,846.5 477.5,847 478,848 479,849 480,850 480.5,851 481.5,852 482.5,853 483,854 484,855 485,856 486,857 487,858 488,859 489,860 490,861 491,862 492,863 492.5,864 493.5,865 494.5,866 495,867 495.5,868 496.5,869 497,870 497.5,871 498,872 498.5,873 499,874 499.5,875 500,876 500.5,878 500.5,880 501,881 501,883 501,885 500.5,887 500,889 499.5,891 499,892 498.5,893 498,894 497,895 496.5,896 495.5,897 494.5,898 493.5,898.5 492.5,899.5 491.5,900 489.5,900 487.5,900 485.5,900 483.5,900 481.5,900 479.5,900 477.5,900 475.5,900 473.5,900 471.5,900 469.5,900 467.5,900 465.5,900 463.5,900 461.5,900 459.5,900 457.5,900 455.5,899.5 454.5,899 453.5,898.5 452.5,897.5 451.5,897 450.5,896.5 449.5,895.5 448.5,894.5 447.5,894 446.5,893 445.5,892 444.5,891 443.5,890 443,889 442,888 441.5,887 440.5,886 440,885 439.5,884 439,883 438.5,882 438,881 437.5,880 437,879 436.5,878 436,876 435.5,874 435,872 435,870 435,868 434.5,867 434.5,865 435,864 435,862 435,860 435,858 435,856 435.5,854 435.5,852 436,850 436.5,848.5 437,847 438,846 439,845 440.5,844 441.5,843.5 442.5,843 444.5,842.5 445.5,842Z" fill="#00f2ff"/>
<path d="M481,680.5 482.5,680.5 484.5,680.5 486.5,680.5 488.5,680.5 490.5,680.5 492.5,680.5 494.5,680.5 496.5,680.5 498.5,680.5 500.5,680.5 502.5,680.5 504.5,680.5 506.5,680.5 508.5,680.5 510.5,680.5 512.5,680.5 514.5,680.5 516.5,680.5 518.5,680.5 520.5,680.5 520.5,682.5 520.5,684.5 520.5,686.5 520.5,688.5 519.5,690 518.5,690.5 517.5,691 516.5,691.5 515.5,692 514,692.5 512.5,693 510.5,693.5 508.5,694 506.5,694.5 505,694.5 503.5,694.5 501.5,695 499.5,695 497.5,695 496.5,694.5 494.5,694.5 493.5,694 492.5,693.5 490.5,693 489.5,692.5 488.5,691.5 487.5,691 486.5,690 485.5,689.5 485,688.5 484,687.5 483.5,686.5 482.5,685.5 482,684.5 481.5,683.5 481,681.5ZM392,735.5 393.5,735 395.5,735 397.5,735 399.5,735 401.5,735 402.5,734.5 404.5,734.5 406.5,734.5 408.5,734.5 410.5,734.5 412.5,734.5 414.5,734.5 415.5,735 417.5,735 419.5,735 421.5,735 423.5,735 424.5,735.5 426.5,735.5 428.5,736 430.5,736.5 432.5,737 433.5,737.5 434.5,738 435.5,738.5 436.5,739 437.5,739.5 438.5,740.5 439.5,741 440.5,742 441.5,742.5 442.5,743.5 443.5,744.5 444.5,745.5 445.5,746.5 446,747.5 447,748.5 447.5,749.5 448.5,750.5 449,751.5 449.5,752.5 450,753.5 450.5,755 451,756.5 451,758.5 451.5,760.5 451.5,762.5 451.5,764.5 451.5,766.5 451,768.5 451,770.5 451,772.5 450.5,773.5 450,775.5 449.5,776.5 448.5,777.5 448,778.5 446.5,779.5 445.5,780 444.5,780.5 443.5,781 442,781.5 440.5,781.5 439.5,782 437.5,782 435.5,782.5 433.5,782.5 431.5,782.5 429.5,782.5 427.5,782.5 425.5,782.5 424.5,783 422.5,783 420.5,783 418.5,783 416.5,783 414.5,783 412.5,783 410.5,783 408.5,783 406.5,783 404.5,783 402.5,783 400.5,783 398.5,783 396.5,782.5 394.5,782.5 392.5,782.5 391.5,782 389.5,782 388.5,781.5 386.5,781 385.5,780.5 384,780.5 382.5,779.5 381.5,779 379.5,778.5 378.5,778 377.5,777.5 376.5,777 375.5,776.5 374.5,776 373.5,775.5 372.5,775 371.5,774.5 370.5,774 369.5,773.5 368.5,773 367.5,772.5 366.5,771.5 365.5,770.5 364.5,769.5 363.5,768.5 362.5,767.5 362,766.5 361.5,765.5 361,764.5 360.5,762.5 360.5,760.5 360.5,758.5 360.5,756.5 360.5,754.5 361,753.5 361.5,751.5 362,750.5 362.5,749.5 363.5,748.5 364.5,747.5 365.5,746.5 366.5,745.5 367.5,745 368.5,744.5 369.5,744 370.5,743.5 371.5,743 372.5,742.5 373.5,742 374.5,741.5 375.5,741 376.5,740.5 377.5,740 378.5,739.5 379.5,739 380.5,738.5 382.5,738 383.5,737.5 384.5,737 386.5,736.5 388.5,736 390.5,735.5 392,735.5ZM447.5,843 449.5,843 450.5,842.5 452.5,842.5 454.5,842.5 456.5,842.5 458.5,842.5 460.5,842.5 461.5,843 463.5,843 465.5,843.5 467.5,843.5 468.5,844 469.5,844.5 470.5,845 471.5,845.5 472.5,846 473.5,846.5 474.5,847.5 475.5,848.5 476.5,849.5 477.5,850.5 478.5,851.5 479.5,852.5 480.5,853.5 481.5,854.5 482.5,855.5 483.5,856.5 484.5,857.5 485.5,858.5 486.5,859.5 487.5,860.5 488.5,861.5 489.5,862.5 490.5,863.5 491.5,865 492.5,866 493.5,867 494,868 494.5,869 495.5,870 496,871 496.5,872 497,873 497.5,874 498,875 498.5,877 499,879 499.5,881 499.5,883 499.5,885 499,886 498.5,888 498,890 497.5,891 497,892 496.5,893 495.5,894 495,895 494,896 493,897 491.5,898 490.5,899 489.5,899.5 488.5,900 486.5,900 484.5,900 482.5,900 480.5,900 478.5,900 476.5,900 474.5,900 472.5,900 470.5,900 468.5,900 466.5,900 464.5,900 462.5,900 460.5,900 458.5,899.5 457.5,899 456.5,898.5 455.5,898 454.5,897.5 453.5,896.5 452.5,896 451.5,895.5 450.5,894.5 449.5,894 448.5,893 447.5,892 446.5,891 445.5,890 444.5,889 443.5,888 443,887 442.5,886 441.5,885 441,884 440.5,883 440,882 439.5,881 439,880 438.5,879 438,878 437.5,876 437,874 436.5,872 436.5,870 436.5,868 436.5,866 436.5,864.5 436.5,863 437,861 437,859 437,857 437.5,856 437.5,854.5 437.5,853 438,852 438.5,850 439,849 439.5,848 440,847 441,846 442.5,845 443.5,844.5 444.5,844 445.5,843.5 447.5,843Z" fill="#00d9ff"/>
<path d="M484,680.5 485.5,680.5 487.5,680.5 489.5,680.5 491.5,680.5 493.5,680.5 495.5,680.5 497.5,680.5 499.5,680.5 501.5,680.5 503.5,680.5 505.5,680.5 507.5,680.5 509.5,680.5 511.5,680.5 513.5,680.5 515.5,680.5 517.5,680.5 519.5,680.5 520.5,681.5 520.5,683.5 519.5,685.5 518.5,686 517.5,687 516.5,687.5 515.5,688 514.5,688.5 513.5,689 512.5,689.5 511.5,690 509.5,690.5 508.5,691 506.5,691 505.5,691.5 503.5,691.5 501.5,692 499.5,692 497.5,692 496.5,691.5 494.5,691 492.5,690.5 491.5,690 490.5,689.5 489.5,688.5 488.5,688 487.5,687 486.5,685.5 486,684.5 485,683.5 484.5,681.5 484,680.5ZM392,736.5 393.5,736 395.5,736 397.5,736 399.5,736 400.5,735.5 402.5,735.5 404.5,735.5 406.5,735.5 408.5,735.5 410.5,735.5 412.5,735.5 414.5,735.5 416.5,736 418.5,736 420.5,736 422.5,736 424.5,736 425.5,736.5 427.5,736.5 428.5,737 430.5,737.5 432.5,738 433.5,738.5 434.5,739 435.5,739.5 436.5,740.5 437.5,741 438.5,741.5 439.5,742.5 440.5,743.5 441.5,744.5 442.5,745.5 443.5,746.5 444.5,747.5 445,748.5 446,749.5 446.5,750.5 447,751.5 447.5,752.5 448,753.5 448.5,754.5 449,756.5 449.5,758.5 449.5,760.5 449.5,762.5 449.5,764.5 449.5,766.5 449.5,768.5 449,769.5 449,771.5 448.5,772.5 448,774.5 447.5,775.5 446.5,776.5 445.5,777.5 444.5,778 443.5,778.5 442.5,779.5 440.5,780 439.5,780.5 437.5,780.5 436.5,781 434.5,781 432.5,781 431.5,781.5 429.5,781.5 427.5,781.5 425.5,781.5 423.5,781.5 422.5,782 420.5,782 418.5,782 416.5,782 414.5,782 412.5,782 410.5,782 408.5,782 406.5,782 404.5,782 402.5,782 400.5,782 398.5,782 397.5,781.5 395.5,781.5 393.5,781.5 392.5,781 390.5,781 389.5,780.5 388,780.5 386.5,779.5 385,779.5 383.5,778.5 382.5,778 381.5,777.5 380.5,777 379.5,776.5 378.5,776 377.5,775.5 376.5,775 375.5,774.5 374.5,773.5 373.5,773 372.5,772.5 371.5,771.5 370.5,771 369.5,770 368.5,769 367.5,767.5 366.5,766.5 366,765.5 365.5,763.5 365.5,761.5 365,759.5 365,757.5 365.5,755.5 365.5,753.5 366,752.5 366.5,750.5 367,749.5 368,748.5 369,747.5 370,746.5 371.5,745.5 372.5,744.5 373.5,744 374.5,743.5 375.5,743 376.5,742.5 377.5,741.5 378.5,741 379.5,740.5 380.5,740 381.5,739.5 382.5,739 384.5,738.5 385.5,738 386.5,737.5 388.5,737 390.5,736.5 392,736.5ZM450.5,844 452.5,844 454.5,843.5 456.5,843.5 458.5,843.5 459.5,844 461.5,844 463.5,844.5 465.5,845 467.5,845.5 468.5,846 469.5,846.5 470.5,847 471.5,847.5 472.5,848.5 473.5,849.5 474.5,850.5 475.5,851 476.5,852 477.5,853 478.5,854 479.5,855 480.5,856 481.5,857 482.5,857.5 483.5,858.5 484.5,859.5 485.5,860.5 486.5,861.5 487.5,862.5 488.5,863.5 489.5,864.5 490.5,865.5 491.5,867 492.5,868 493,869 493.5,870 494.5,871 495,872 495.5,873 496,874 496.5,876 497,877 497.5,879 497.5,881 497.5,883 497.5,885 497,887 496.5,889 496,890 495.5,891 495,892 494.5,893 493.5,894 492.5,895 491.5,896 490.5,897 489.5,897.5 488.5,898 487.5,899 486.5,899.5 485,900 483.5,900 481.5,900 479.5,900 477.5,900 475.5,900 473.5,900 471.5,900 469.5,900 467.5,900 465.5,900 463.5,900 462.5,899.5 460.5,899 459.5,898.5 458.5,898 457.5,897.5 456.5,897 455.5,896.5 454.5,896 453.5,895 452.5,894.5 451.5,893.5 450.5,893 449.5,892 448.5,891 447.5,890 446.5,889 445.5,888 444.5,887 444,886 443.5,885 442.5,884 442,883 441.5,882 441,881 440.5,880 440,879 439.5,878 439,876 438.5,874 438.5,872 438,871 438,869 438,867 438,865 438.5,864 438.5,862.5 438.5,861 439,860 439,858 439.5,857 439.5,855 440,854 440.5,852 441,851 441.5,850 442,849 442.5,848 443.5,847 444.5,846.5 445.5,845.5 446.5,845 448.5,844.5 450.5,844Z" fill="#00bfff"/>
<path d="M488,680.5 489.5,680.5 491.5,680.5 493.5,680.5 495.5,680.5 497.5,680.5 499.5,680.5 501.5,680.5 503.5,680.5 505.5,680.5 507.5,680.5 509.5,680.5 511.5,680.5 513.5,680.5 515.5,680.5 517,680.5 516.5,681.5 515.5,682.5 514.5,683.5 513.5,684.5 512.5,685 511.5,685.5 510.5,686 509.5,686.5 508.5,687 507.5,687.5 505.5,688 503.5,688 502.5,688.5 500.5,688.5 498.5,688.5 496.5,688 494.5,687.5 493.5,687 492.5,686.5 491.5,685.5 490.5,684.5 489.5,683.5 489,682.5 488.5,681.5 488,680.5ZM392.5,737.5 393.5,737 395.5,737 397.5,737 399.5,737 400.5,736.5 402.5,736.5 404.5,736.5 406.5,736.5 408.5,736.5 410.5,736.5 412.5,736.5 414.5,736.5 416.5,736.5 417.5,737 419.5,737 421.5,737 423.5,737 425.5,737.5 427.5,737.5 428.5,738 430.5,738.5 431.5,739 433,739.5 434.5,740.5 435.5,741 436.5,741.5 437.5,742.5 438.5,743 439.5,744 440.5,745 441.5,746 442.5,747.5 443.5,748.5 444,749.5 444.5,750.5 445,751.5 445.5,752.5 446,753.5 446.5,754.5 447,756.5 447,758.5 447.5,759.5 447.5,761.5 447.5,763.5 447.5,765.5 447,767.5 447,769.5 446.5,771.5 446,772.5 445.5,774 444.5,775.5 443.5,776.5 442.5,777 441.5,777.5 440.5,778 439.5,778.5 438.5,779 437,779.5 435.5,779.5 433.5,780 431.5,780 429.5,780 428,780.5 426.5,780.5 424.5,780.5 422.5,780.5 420.5,781 418.5,781 416.5,781 414.5,781 412.5,781 410.5,781 408.5,781 406.5,781 404.5,781 402.5,781 400.5,781 399.5,780.5 397.5,780.5 395.5,780.5 394,780.5 392.5,780 390.5,779.5 389,779.5 387.5,779 386.5,778.5 385.5,778 384.5,777.5 383.5,777 382.5,776.5 381.5,776 380.5,775.5 379.5,775 378.5,774 377.5,773.5 376.5,772.5 375.5,771.5 374.5,770.5 373.5,769.5 372.5,768.5 371.5,767.5 371,766.5 370.5,765.5 370,764.5 370,762.5 369.5,761.5 369.5,759.5 369.5,757.5 369.5,755.5 370,753.5 370.5,751.5 371,750.5 371.5,749.5 372,748.5 373,747.5 374,746.5 375.5,745.5 376.5,744.5 377.5,743.5 378.5,743 379.5,742.5 380.5,741.5 381.5,741 382.5,740.5 383.5,740 384.5,739.5 386.5,739 387.5,738.5 389.5,738 391.5,737.5ZM450.5,846 452.5,845.5 454.5,845.5 456.5,845.5 458.5,845.5 460.5,845.5 461.5,846 463,846 464.5,846.5 465.5,847 466.5,847.5 467.5,848 468.5,848.5 469.5,849 470.5,849.5 471.5,850.5 472.5,851.5 473.5,852 474.5,853 475.5,854 476.5,854.5 477.5,855.5 478.5,856 479.5,857 480.5,858 481.5,859 482.5,859.5 483.5,860.5 484.5,861.5 485.5,862 486.5,863 487.5,864 488,865 489,866 490,867 490.5,868 491.5,869 492,870 492.5,871 493.5,872 494,873 494.5,874 495,876 495.5,877 496,879 496,881 496,883 496,885 495.5,886 495,888 494.5,889 494,890 493.5,891 493,892 492,893 491,894 490,895 489,896 487.5,897 486.5,897.5 485.5,898 484.5,898.5 483.5,899 481.5,899.5 479.5,900 477.5,900 475.5,900 473.5,900 471.5,900 469.5,900 467.5,899.5 465.5,899 463.5,898.5 462,898 460.5,897.5 459.5,897 458.5,896.5 457.5,896 456.5,895.5 455.5,895 454.5,894 453.5,893.5 452.5,892.5 451.5,892 450.5,891 449.5,890 448.5,889 447.5,888 446.5,887 445.5,886 445,885 444.5,884 443.5,883 443,882 442.5,881 442,880 441.5,879 441,877 440.5,876 440,874 440,872 439.5,870 439.5,868 440,867 440,865 440,863 440.5,862 441,860 441.5,858 442,856 442.5,854 443,853 443.5,852 444,851 444.5,850 445.5,849 446.5,848 447.5,847.5 448.5,847 449.5,846.5 450.5,846Z" fill="#00a6ff"/>
<path d="M493.5,680.5 495.5,680.5 497.5,680.5 499.5,680.5 501.5,680.5 503.5,680.5 505.5,680.5 507.5,680.5 506.5,682 505.5,682.5 504.5,683 502.5,683.5 500.5,683.5 498.5,683.5 496.5,683 495.5,682.5 494.5,681.5 493.5,680.5ZM393,738.5 394.5,738 396.5,738 398.5,738 400.5,737.5 402.5,737.5 404.5,737.5 406.5,737.5 408.5,737.5 410.5,737.5 412.5,737.5 414.5,737.5 416.5,737.5 418.5,738 420.5,738 422.5,738 424.5,738 425.5,738.5 427.5,738.5 428.5,739 430,739.5 431.5,740 432.5,740.5 433.5,741 434.5,741.5 435.5,742 436.5,743 437.5,744 438.5,745 439.5,746 440.5,747 441.5,748.5 442,749.5 443,750.5 443.5,751.5 444,752.5 444.5,754.5 445,756.5 445,758.5 445,760.5 445,762.5 445,764.5 445,766.5 445,768.5 444.5,769.5 444,771.5 443.5,773 442.5,774 441.5,775.5 440.5,776 439.5,776.5 438.5,777 437.5,777.5 436.5,778 434.5,778.5 432.5,778.5 430.5,779 428.5,779 426.5,779 425.5,779.5 423.5,779.5 421.5,779.5 419.5,779.5 418.5,780 416.5,780 414.5,780 412.5,780 410.5,780 408.5,780 406.5,780 404.5,780 402.5,780 401.5,779.5 399.5,779.5 397.5,779.5 395.5,779.5 394.5,779 392.5,779 391.5,778.5 390,778.5 388.5,778 387.5,777.5 386.5,777 385.5,776.5 384.5,776 383.5,775.5 382.5,775 381.5,774.5 380.5,773.5 379.5,772.5 378.5,771.5 377.5,770.5 376.5,769.5 376,768.5 375.5,767.5 375,766.5 374.5,765.5 374,764.5 373.5,762.5 373.5,760.5 373.5,758.5 373.5,756.5 373.5,754.5 374,753.5 374.5,751.5 375,749.5 376,748.5 376.5,747.5 377.5,746.5 378.5,745.5 379.5,744.5 380.5,743.5 381.5,743 382.5,742 383.5,741.5 384.5,741 385.5,740.5 386.5,740 388.5,739.5 389.5,739 391.5,738.5 393,738.5ZM452.5,848 454.5,847.5 456.5,847.5 458.5,847.5 460.5,848 462.5,848.5 464.5,849 465.5,849.5 466.5,850 467.5,850.5 468.5,851 469.5,851.5 470.5,852.5 471.5,853 472.5,853.5 473.5,854.5 474.5,855 475.5,856 476.5,856.5 477.5,857.5 478.5,858 479.5,859 480.5,859.5 481.5,860.5 482.5,861.5 483.5,862 484.5,863 485.5,864 486.5,865 487.5,866 488.5,867 489,868 490,869 490.5,870 491,871 491.5,872 492.5,873 493,875 493.5,876 494,877 494.5,879 494.5,881 494.5,883 494,885 493.5,887 493,889 492,890 491.5,891 490.5,892 490,893 488.5,894 487.5,895 486.5,895.5 485.5,896 484.5,896.5 483.5,897 482.5,897.5 481.5,898 479.5,898.5 477.5,898.5 476.5,899 474.5,899 472.5,899 470.5,899 469.5,898.5 467.5,898.5 466.5,898 464.5,897.5 463.5,897 461.5,896.5 460.5,896 459.5,895.5 458.5,895 457.5,894.5 456.5,894 455.5,893 454.5,892.5 453.5,892 452.5,891 451.5,890 450.5,889.5 449.5,888.5 448.5,887 447.5,886 446.5,885 446,884 445.5,883 444.5,882 444,881 443.5,880 443,878 442.5,877 442,876 442,874 441.5,873 441.5,871 441.5,869 441.5,867 441.5,865 442,864 442.5,862 443,860 443.5,858 444,857 444.5,856 445,855 445.5,854 446,853 446.5,852 447.5,851 448.5,850 449.5,849.5 450.5,849 451.5,848.5 452.5,848Z" fill="#008cff"/>
<path d="M394,739.5 395.5,739 397.5,739 399.5,739 401.5,738.5 403.5,738.5 405.5,738.5 407.5,738.5 409.5,738.5 411.5,738.5 413.5,738.5 415.5,738.5 417.5,738.5 418.5,739 420.5,739 422.5,739 424.5,739.5 426.5,739.5 428.5,740 429.5,740.5 431.5,741 432.5,741.5 433.5,742.5 434.5,743 435.5,743.5 436,744.5 437.5,745.5 438,746.5 439,747.5 440,748.5 440.5,749.5 441,750.5 441.5,751.5 442,752.5 442.5,754.5 443,756.5 443,758.5 443,760.5 443,762.5 443,764.5 443,766.5 442.5,768.5 442,770.5 441.5,772 440.5,773 439.5,774 438.5,775 437.5,775.5 436.5,776 435.5,776.5 433.5,777 432,777.5 430.5,777.5 428.5,778 426.5,778 424.5,778 423.5,778.5 421.5,778.5 419.5,778.5 417.5,778.5 415.5,779 413.5,779 411.5,779 409.5,779 407.5,779 405.5,779 404.5,778.5 402.5,778.5 400.5,778.5 398.5,778.5 396.5,778 394.5,778 392.5,777.5 390.5,777 389.5,776.5 387.5,776 386.5,775.5 385.5,775 384.5,774.5 383.5,773.5 382.5,772.5 381.5,772 380.5,770.5 379.5,769.5 378.5,768.5 378,767.5 377.5,765.5 377,764.5 377,762.5 376.5,760.5 376.5,758.5 376.5,756.5 377,754.5 377,752.5 377.5,751.5 378,749.5 378.5,748.5 379.5,747.5 380,746.5 381,745.5 382,744.5 383.5,743.5 384.5,742.5 385.5,742 386.5,741.5 387.5,741 389.5,740.5 390.5,740 392.5,739.5 394,739.5ZM453,851 454.5,850.5 456.5,850.5 458.5,850.5 460.5,850.5 461.5,851 463.5,851.5 465.5,852 466.5,852.5 467.5,853 468.5,853.5 469.5,854 470.5,854.5 471.5,855.5 472.5,856 473.5,856.5 474.5,857 475.5,858 476.5,858.5 477.5,859 478.5,860 479.5,860.5 480.5,861.5 481.5,862 482.5,863 483.5,864 484.5,865 485.5,866 486.5,867 487.5,868 488,869 489,870 489.5,871 490,872 490.5,873 491,874 491.5,875 492,876 492.5,878 493,880 493,882 492.5,884 492,886 491.5,887.5 491,889 490,890 489.5,891 488.5,892 487.5,893 486.5,893.5 485.5,894.5 484.5,895 483.5,895.5 482.5,896 480.5,896.5 479.5,897 477.5,897 476.5,897.5 474.5,897.5 472.5,897.5 470.5,897.5 468.5,897 466.5,896.5 464.5,896 462.5,895.5 461.5,895 460.5,894.5 459.5,894 458.5,893.5 457.5,893 456.5,892.5 455.5,891.5 454.5,891 453.5,890 452.5,889 451.5,888.5 450.5,887.5 449.5,886 448.5,885 448,884 447,883 446.5,882 446,881 445.5,880 445,879 444.5,878 444,877 443.5,875 443,873 443,871 443,869 443,867 443.5,866 444,864 444.5,862 445,860 445.5,859 446,858 446.5,857 447,856 448,855 448.5,854 449.5,853.5 450.5,852.5 451.5,852 452.5,851.5Z" fill="#0073ff"/>
<path d="M395,740.5 396.5,740 398.5,740 400.5,740 402.5,739.5 404.5,739.5 406.5,739.5 408.5,739.5 410.5,739.5 412.5,739.5 414.5,739.5 416.5,739.5 417.5,740 419.5,740 421.5,740 423.5,740.5 425.5,740.5 427.5,741 429,741.5 430.5,742 431.5,742.5 432.5,743 433.5,744 434.5,744.5 435.5,745.5 436.5,746.5 437,747.5 438,748.5 438.5,749.5 439,750.5 439.5,751.5 440,752.5 440.5,753.5 441,755.5 441,757.5 441,759.5 441,761.5 441,763.5 441,765.5 440.5,767.5 440,769.5 439.5,771 438.5,772 437.5,773 436.5,774 435.5,774.5 434.5,775 433.5,775.5 431.5,776 429.5,776.5 427.5,776.5 425.5,777 423.5,777 421.5,777 420.5,777.5 418.5,777.5 416.5,777.5 414.5,777.5 412.5,777.5 410.5,777.5 408.5,777.5 406.5,777.5 404.5,777.5 402.5,777.5 400.5,777.5 399.5,777 397.5,777 395.5,777 394.5,776.5 392.5,776.5 391.5,776 390.5,775.5 389.5,775 388.5,774.5 387.5,774 386.5,773.5 385.5,773 384.5,772.5 383.5,771.5 382.5,770.5 382,769.5 381.5,768.5 381,767.5 380.5,766.5 380,765.5 379.5,763.5 379.5,761.5 379.5,759.5 379.5,757.5 379.5,755.5 379.5,753.5 380,751.5 380.5,749.5 381,748.5 382,747.5 382.5,746.5 383.5,745.5 384.5,744.5 385.5,744 386.5,743.5 387.5,742.5 388.5,742 390.5,741.5 391.5,741 393.5,740.5 395,740.5ZM454,854 455.5,853.5 457.5,853 459.5,853 460.5,853.5 462.5,853.5 463.5,854 465.5,854.5 466.5,855 467.5,855.5 469.5,856 470.5,856.5 471.5,857 472.5,858 473.5,858.5 474.5,859 475.5,859.5 476.5,860.5 477.5,861 478.5,861.5 479.5,862.5 480.5,863 481.5,864 482.5,865 483.5,866 484.5,867 485.5,868 486.5,869 487,870 488,871 488.5,872 489,873 489.5,874 490,875 490.5,876 491,878 491,880 491,882 491,884 490.5,885 490,887 489.5,888 488.5,889 488,890 487,891 486,892 484.5,893 483.5,893.5 482.5,894 481.5,894.5 480.5,895 478.5,895.5 476.5,896 475,896 473.5,896 471.5,896 469.5,896 468.5,895.5 466.5,895 464.5,894.5 463,894 461.5,893.5 460.5,893 459.5,892.5 458.5,892 457.5,891.5 456.5,890.5 455.5,890 454.5,889 453.5,888 452.5,887.5 451.5,886.5 450.5,885 449.5,884 449,883 448,882 447.5,881 447,880 446.5,879 446,878 445.5,876 445,874 445,872 445,870 445,868 445.5,866 446,864 446.5,862 447,861 447.5,860 448,859 449,858 449.5,857 450.5,856.5 451.5,855.5 452.5,855 453.5,854.5Z" fill="#0059ff"/>
<path d="M397.5,741.5 399.5,741 401.5,741 403.5,741 405.5,740.5 407.5,740.5 409.5,740.5 411.5,740.5 413.5,740.5 414.5,741 416.5,741 418.5,741 420.5,741 421.5,741.5 423.5,741.5 425.5,741.5 426.5,742 428,742.5 429.5,743 430.5,743.5 431.5,744 432.5,744.5 433.5,745.5 434.5,746.5 435.5,747.5 436,748.5 436.5,749.5 437.5,750.5 438,752.5 438.5,753.5 439,755.5 439,757.5 439,759.5 439,761.5 439,763.5 439,765.5 438.5,766.5 438,768.5 437.5,769.5 437,770.5 436.5,771.5 435.5,772 434.5,773 433.5,773.5 432.5,774 431,774.5 429.5,774.5 428.5,775 426.5,775.5 424.5,775.5 422.5,775.5 421.5,776 419.5,776 417.5,776 416.5,776.5 414.5,776.5 412.5,776.5 410.5,776.5 408.5,776.5 406.5,776.5 404.5,776.5 403.5,776 401.5,776 399.5,776 398.5,775.5 396.5,775.5 395,775.5 393.5,775 392.5,774.5 391,774.5 389.5,773.5 388.5,773 387.5,772.5 386.5,771.5 385.5,770.5 384.5,769.5 384,768.5 383,767.5 382.5,765.5 382,764.5 382,762.5 381.5,760.5 381.5,758.5 381.5,756.5 382,754.5 382,752.5 382.5,751.5 383,749.5 383.5,748.5 384.5,747.5 385,746.5 386.5,745.5 387.5,744.5 388.5,744 389.5,743.5 390.5,743 391.5,742.5 392.5,742 394.5,741.5 396.5,741.5ZM457,856 458.5,856 460.5,856 462.5,856 464.5,856.5 466.5,857 467.5,857.5 469.5,858 470.5,858.5 471.5,859 472.5,859.5 473.5,860 474.5,860.5 475.5,861.5 476.5,862 477.5,862.5 478.5,863.5 479.5,864 480.5,865 481.5,866 482.5,867 483.5,868 484.5,869 485.5,870 486,871 487,872 487.5,873 488,874 488.5,875 489,877 489.5,879 489.5,881 489.5,883 489,884 488.5,885 488,887 487,888 486.5,889 485.5,890 484.5,890.5 483.5,891.5 482.5,892 481.5,892.5 480.5,893 479.5,893.5 478.5,894 476.5,894 475.5,894.5 473.5,894.5 471.5,894.5 469.5,894.5 468.5,894 466.5,893.5 464.5,893 463.5,892.5 462,892 460.5,891.5 459.5,891 458.5,890 457.5,889.5 456.5,889 455.5,888 454.5,887 453.5,886 452.5,885 451.5,884 450.5,883 450,882 449.5,881 449,880 448.5,879 448,878 447.5,877 447,875 446.5,873 446.5,871 446.5,869 447,868 447.5,866 448,864 448.5,863 449,862 449.5,861 450.5,860 451.5,859 452.5,858 453.5,857.5 454.5,857 455.5,856.5 456.5,856Z" fill="#0040ff"/>
<path d="M401,742.5 402.5,742 404.5,742 406.5,742 408.5,742 410.5,742 412.5,742 414.5,742 416.5,742 418.5,742.5 420.5,742.5 422.5,742.5 423.5,743 425.5,743 426.5,743.5 428.5,744 429.5,744.5 430.5,745 431.5,746 432.5,746.5 433,747.5 434,748.5 434.5,749.5 435,750.5 435.5,751.5 436,752.5 436.5,753.5 436.5,755.5 437,756.5 437,758.5 437,760.5 437,762.5 436.5,764.5 436.5,766.5 436,767.5 435.5,768.5 435,769.5 434,770.5 433,771.5 431.5,772 430.5,772.5 429.5,773 428,773.5 426.5,773.5 425.5,774 423.5,774 422,774.5 420.5,774.5 418.5,774.5 417.5,775 415.5,775 413.5,775 411.5,775 409.5,775 407.5,775 405.5,775 403.5,775 402.5,774.5 400.5,774.5 398.5,774.5 397.5,774 395.5,774 394.5,773.5 393,773.5 391.5,772.5 390.5,772 389.5,771.5 388.5,770.5 387.5,769.5 386.5,768.5 385.5,767.5 385,765.5 384.5,764.5 384.5,762.5 384,761.5 384,759.5 384,757.5 384,755.5 384.5,753.5 384.5,752 385,750.5 385.5,749.5 386,748.5 387,747.5 388,746.5 389,745.5 390.5,744.5 391.5,744 393.5,743.5 394.5,743 396.5,743 398.5,742.5 400.5,742.5ZM456,859 457.5,858.5 459.5,858 461.5,858 463.5,858.5 465.5,858.5 466.5,859 467.5,859.5 469.5,860 470.5,860.5 471.5,861 472.5,861.5 473.5,862 474.5,862.5 475.5,863 476.5,864 477.5,864.5 478.5,865 479.5,866 480.5,867 481.5,868 482.5,869 483.5,870 484.5,871 485,872 485.5,873 486,874 486.5,875 487,876 487.5,878 487.5,880 487.5,882 487,884 486.5,885 486,886 485.5,887 484.5,888 483.5,889 482.5,890 481.5,890.5 480.5,891 479.5,891.5 478.5,892 476.5,892.5 474.5,893 472.5,893 470.5,893 469.5,892.5 467.5,892.5 466.5,892 464.5,891.5 463.5,891 462.5,890.5 461.5,890 460.5,889.5 459.5,889 458.5,888.5 457.5,887.5 456.5,887 455.5,886 454.5,885 453.5,884 453,883 452,882 451.5,881 451,880 450.5,879 450,878 449.5,877 449,876 448.5,874 448.5,872 448.5,870 449,868 449.5,866 450,865 450.5,864 451,863 452,862 453,861 454,860 455.5,859.5Z" fill="#0026ff"/>
<path d="M406.5,743.5 408.5,743.5 410.5,743.5 412.5,743.5 414.5,743.5 416.5,743.5 418.5,744 420.5,744 422.5,744.5 424.5,744.5 425.5,745 427.5,745.5 428.5,746 429.5,746.5 430.5,747.5 431.5,748.5 432.5,749.5 433,750.5 433.5,751.5 434,752.5 434.5,754.5 434.5,756.5 434.5,758.5 434.5,760.5 434.5,762.5 434,764.5 433.5,766.5 433,767.5 432.5,768.5 431.5,769.5 430.5,770 429.5,770.5 428.5,771 427.5,771.5 426.5,772 424.5,772 423.5,772.5 421.5,772.5 420.5,773 418.5,773 416.5,773.5 414.5,773.5 412.5,773.5 410.5,773.5 408.5,773.5 406.5,773.5 404.5,773.5 403.5,773 401.5,773 399.5,772.5 397.5,772.5 396.5,772 394.5,771.5 393,771.5 391.5,770.5 390.5,769.5 389.5,768.5 388.5,767.5 388,766.5 387.5,765.5 387,764.5 386.5,762.5 386.5,760.5 386.5,758.5 386.5,756.5 386.5,754.5 387,752.5 387.5,750.5 388,749.5 389,748.5 389.5,747.5 390.5,747 391.5,746 392.5,745.5 393.5,745 395.5,744.5 397.5,744.5 398.5,744 400.5,744 402.5,743.5 404.5,743.5 406.5,743.5ZM458,861 459.5,860.5 461.5,860.5 463.5,860.5 465.5,861 467,861 468.5,861.5 469.5,862 470.5,862.5 471.5,863 472.5,863.5 473.5,864 474.5,864.5 475.5,865 476.5,865.5 477.5,866.5 478.5,867 479.5,868 480.5,869 481.5,870 482,871 483,872 483.5,873 484,874 484.5,875 485,876 485.5,878 485.5,880 485.5,881.5 485,883 484.5,884.5 483.5,886 482.5,887 481.5,888 480.5,889 479.5,889.5 478.5,890 477.5,890.5 475.5,891 474,891 472.5,891 470.5,891 468.5,891 467.5,890.5 465.5,890 464.5,889.5 463,889 461.5,888.5 460.5,887.5 459.5,887 458.5,886.5 457.5,885.5 456.5,884.5 455.5,883.5 454.5,882.5 453.5,881 453,880 452.5,879 452,878 451.5,877 451,876 450.5,874 450.5,872 451,870 451,868 451.5,867 452,866 452.5,865 453.5,864 454.5,863 455.5,862 456.5,861.5 457.5,861Z" fill="#000dff"/>
<path d="M403,745.5 404.5,745 406.5,745 408.5,745 410.5,745 412.5,745 414.5,745 416.5,745.5 418.5,745.5 420.5,746 422.5,746 423.5,746.5 425.5,747 427,747.5 428.5,748.5 429.5,749.5 430,750.5 431,751.5 431.5,753.5 432,755.5 432,757.5 432,759.5 432,761.5 431.5,762.5 431.5,764.5 431,765.5 430.5,766.5 429.5,767.5 428.5,768.5 427.5,769 426.5,769.5 424.5,770 423,770.5 421.5,770.5 420.5,771 418.5,771 417.5,771.5 415.5,771.5 413.5,771.5 411.5,771.5 410.5,772 408.5,771.5 406.5,771.5 404.5,771.5 402.5,771 400.5,771 399.5,770.5 398,770.5 396.5,770 395.5,769.5 393.5,769 392.5,768 391.5,767.5 391,766.5 390.5,765.5 390,764.5 389.5,763.5 389.5,761.5 389,759.5 389,757.5 389.5,755.5 389.5,753.5 390,751.5 390.5,750.5 391.5,749.5 392.5,748.5 393.5,747.5 394.5,747 396.5,746.5 398.5,746 400.5,746 401.5,745.5 403,745.5ZM460,863 461.5,863 462.5,862.5 464.5,863 466.5,863 467.5,863.5 469.5,864 470.5,864.5 471.5,865 472.5,865.5 473.5,866 474.5,866.5 475.5,867 476.5,868 477.5,868.5 478.5,869.5 479.5,870.5 480.5,872 481.5,873 482,874 482.5,875 483,876 483.5,878 483.5,880 483,882 482.5,883 482,884 481.5,885 480.5,886 479.5,887 478.5,887.5 477.5,888 476.5,888.5 474.5,889 472.5,889 470.5,889 469,889 467.5,888.5 465.5,888 464.5,887.5 463,887 461.5,886 460.5,885.5 459.5,885 458.5,884 457.5,883 456.5,882 456,881 455,880 454.5,879 454,878 453.5,877 453,875 453,873 453,871 453.5,869 454,868 454.5,867 455,866 456,865 457.5,864 458.5,863.5 459.5,863Z" fill="#0700ff"/>
<path d="M405,747.5 406.5,747 408.5,747 410.5,747 412.5,747 414.5,747 415.5,747.5 417.5,747.5 418.5,748 420.5,748.5 422.5,749 423.5,749.5 424.5,750 425.5,750.5 426.5,751 427.5,752.5 428,753.5 428.5,755.5 428.5,757.5 428.5,759.5 428.5,761.5 428,762.5 427.5,763.5 427,764.5 426.5,765.5 425.5,766 424.5,766.5 423.5,767 422.5,767.5 420.5,768 419.5,768.5 417.5,768.5 416.5,769 414.5,769 413.5,769.5 411.5,769.5 409.5,769.5 407.5,769.5 405.5,769 403.5,769 402.5,768.5 400.5,768 399.5,767.5 397.5,767 396.5,766.5 395.5,766 394.5,765.5 394,764.5 393.5,763.5 393,762.5 392.5,760.5 392.5,758.5 392.5,756.5 393,754.5 393.5,752.5 394,751.5 395.5,750.5 396.5,749.5 398.5,749 399.5,748.5 401.5,748 403.5,747.5 405,747.5ZM460,866 461.5,865.5 463.5,865.5 465.5,865.5 467.5,865.5 468.5,866 470.5,866.5 471.5,867 472.5,867.5 473.5,868 474.5,869 475.5,869.5 476.5,870.5 477.5,871.5 478.5,872.5 479.5,874 480,875 480.5,876 481,878 480.5,880 480,882 479.5,883 478.5,884 477.5,885 476.5,885.5 475.5,886 474.5,886.5 472.5,887 470.5,887 468.5,886.5 466.5,886 464.5,885.5 463.5,885 462.5,884.5 461.5,883.5 460.5,883 459.5,882 459,881 458,880 457.5,879 457,878 456.5,877 456,876 455.5,874 455.5,872 456,871 456.5,869.5 457.5,868 458.5,867 459.5,866.5Z" fill="#1500ff"/>
<path d="M409.5,750.5 411.5,750.5 413.5,750.5 414.5,751 416,751.5 417.5,752 418.5,753 419.5,754 420,755.5 420.5,756.5 420.5,758.5 420,760.5 419.5,762 418.5,763 417.5,764 416.5,764.5 415.5,765 414,765.5 412.5,765.5 410.5,766 408.5,765.5 406.5,765.5 405.5,765 404.5,764.5 403.5,764 402.5,763.5 401.5,762.5 401,761.5 400.5,760.5 400.5,758.5 400.5,756.5 401,754.5 401.5,753.5 402.5,752.5 403.5,752 404.5,751.5 405.5,751 407.5,750.5 409.5,750.5ZM462,869 463.5,868.5 465.5,868.5 467.5,868.5 468.5,869 470.5,869.5 471.5,870 472.5,870.5 473.5,871.5 474.5,872 475.5,873 476,874 476.5,875 477,876 477.5,877 477.5,879 477,880 476.5,881 475.5,882 474.5,883 473.5,883.5 471.5,884 469.5,884 468.5,883.5 466.5,883 465.5,882.5 464.5,882 463.5,881.5 462.5,880.5 461.5,879.5 460.5,878 460,877 459.5,876 459.5,874 459.5,872.5 460,871 461,870 462,869Z" fill="#2300ff"/>
</g>
<path d="M366.5,724.4 Q378.5,709.4 397.5,707.9 Q418.5,709.4 437.5,725.4 Q418.5,740.4 400.5,741.4 Q380.5,738.4 366.5,724.4Z" fill="#000"/>
<g font-family="'Liberation Sans',Arial,Helvetica,sans-serif" font-size="11.5" text-anchor="middle" clip-path="url(#cc)">
<g transform="translate(356.4 696.2) rotate(55)"><rect x="-9.5" y="-5.5" width="19" height="11" fill="#ffc100"/><text x="0" y="4" fill="#000">0.2</text></g>
<g transform="translate(386.4 718.0) rotate(0)"><rect x="-9.5" y="-5.5" width="19" height="11" fill="#66ff00"/><text x="0" y="4" fill="#000">0.4</text></g>
<g transform="translate(384.0 729.0) rotate(0)"><rect x="-9.5" y="-5.5" width="19" height="11" fill="#00ff80"/><text x="0" y="4" fill="#000">0.6</text></g>
<g transform="translate(413.0 728.6) rotate(0)"><rect x="-9.5" y="-5.5" width="19" height="11" fill="#00ff80"/><text x="0" y="4" fill="#000">0.6</text></g>
<g transform="translate(424.0 740.0) rotate(0)"><rect x="-9.5" y="-5.5" width="19" height="11" fill="#007fff"/><text x="0" y="4" fill="#000">0.8</text></g>
<g transform="translate(486.3 745.7) rotate(-50)"><rect x="-9.5" y="-5.5" width="19" height="11" fill="#66ff00"/><text x="0" y="4" fill="#000">0.4</text></g>
<g transform="translate(351.5 781.0) rotate(20)"><rect x="-9.5" y="-5.5" width="19" height="11" fill="#00ff80"/><text x="0" y="4" fill="#000">0.6</text></g>
<g transform="translate(389.0 778.0) rotate(5)"><rect x="-9.5" y="-5.5" width="19" height="11" fill="#007fff"/><text x="0" y="4" fill="#000">0.8</text></g>
<g transform="translate(446.5 781.0) rotate(-30)"><rect x="-9.5" y="-5.5" width="19" height="11" fill="#00ff80"/><text x="0" y="4" fill="#000">0.6</text></g>
<g transform="translate(508.0 784.0) rotate(-60)"><rect x="-9.5" y="-5.5" width="19" height="11" fill="#ffc100"/><text x="0" y="4" fill="#000">0.2</text></g>
<g transform="translate(424.2 819.5) rotate(30)"><rect x="-9.5" y="-5.5" width="19" height="11" fill="#66ff00"/><text x="0" y="4" fill="#000">0.4</text></g>
<g transform="translate(447.5 842.8) rotate(0)"><rect x="-9.5" y="-5.5" width="19" height="11" fill="#00ff80"/><text x="0" y="4" fill="#000">0.6</text></g>
<g transform="translate(487.7 860.5) rotate(45)"><rect x="-9.5" y="-5.5" width="19" height="11" fill="#007fff"/><text x="0" y="4" fill="#000">0.8</text></g>
<g transform="translate(414.3 884.5) rotate(35)"><rect x="-9.5" y="-5.5" width="19" height="11" fill="#66ff00"/><text x="0" y="4" fill="#000">0.4</text></g>
<g transform="translate(516.0 888.7) rotate(-90)"><rect x="-9.5" y="-5.5" width="19" height="11" fill="#00ff80"/><text x="0" y="4" fill="#000">0.6</text></g>
</g>
<polygon points="391.5,681.5 393.0,685.9 397.7,686.0 394.0,688.8 395.3,693.3 391.5,690.6 387.7,693.3 389.0,688.8 385.3,686.0 390.0,685.9" fill="#000"/>
<g shape-rendering="crispEdges" stroke="#000" fill="none">
<rect x="300.5" y="680.5" width="220.0" height="219.5" stroke-width="3"/>
<path d="M300.5,672V679M300.5,901.5V907M307.5,676V679M307.5,901.5V904.5M315.5,676V679M315.5,901.5V904.5M322.5,676V679M322.5,901.5V904.5M329.5,676V679M329.5,901.5V904.5M337.5,672V679M337.5,901.5V907M344.5,676V679M344.5,901.5V904.5M351.5,676V679M351.5,901.5V904.5M359.5,676V679M359.5,901.5V904.5M366.5,676V679M366.5,901.5V904.5M373.5,672V679M373.5,901.5V907M381.5,676V679M381.5,901.5V904.5M388.5,676V679M388.5,901.5V904.5M395.5,676V679M395.5,901.5V904.5M403.5,676V679M403.5,901.5V904.5M410.5,672V679M410.5,901.5V907M417.5,676V679M417.5,901.5V904.5M425.5,676V679M425.5,901.5V904.5M432.5,676V679M432.5,901.5V904.5M439.5,676V679M439.5,901.5V904.5M447.5,672V679M447.5,901.5V907M454.5,676V679M454.5,901.5V904.5M461.5,676V679M461.5,901.5V904.5M469.5,676V679M469.5,901.5V904.5M476.5,676V679M476.5,901.5V904.5M483.5,672V679M483.5,901.5V907M491.5,676V679M491.5,901.5V904.5M498.5,676V679M498.5,901.5V904.5M505.5,676V679M505.5,901.5V904.5M513.5,676V679M513.5,901.5V904.5M520.5,672V679M520.5,901.5V907M292,680.5H299M522,680.5H527M295.5,692.5H299M522,692.5H525M295.5,704.5H299M522,704.5H525M292,717.5H299M522,717.5H527M295.5,729.5H299M522,729.5H525M295.5,741.5H299M522,741.5H525M292,753.5H299M522,753.5H527M295.5,765.5H299M522,765.5H525M295.5,778.5H299M522,778.5H525M292,790.5H299M522,790.5H527M295.5,802.5H299M522,802.5H525M295.5,814.5H299M522,814.5H525M292,826.5H299M522,826.5H527M295.5,839.5H299M522,839.5H525M295.5,851.5H299M522,851.5H525M292,863.5H299M522,863.5H527M295.5,875.5H299M522,875.5H525M295.5,887.5H299M522,887.5H525M292,900.5H299M522,900.5H527" stroke-width="1"/>
</g>
<g font-family="'Liberation Sans',Arial,Helvetica,sans-serif" font-size="19.2" fill="#000" stroke="#000" stroke-width="0.25">
<text x="286" y="687.0" text-anchor="end">90</text>
<text x="286" y="723.6" text-anchor="end">60</text>
<text x="286" y="760.2" text-anchor="end">30</text>
<text x="286" y="796.8" text-anchor="end">0</text>
<text x="286" y="833.3" text-anchor="end">-30</text>
<text x="286" y="869.9" text-anchor="end">-60</text>
<text x="286" y="906.5" text-anchor="end">-90</text>
<text x="300.5" y="928" text-anchor="middle">0.0</text>
<text x="337.2" y="928" text-anchor="middle">0.5</text>
<text x="373.8" y="928" text-anchor="middle">1.0</text>
<text x="410.5" y="928" text-anchor="middle">1.5</text>
<text x="447.2" y="928" text-anchor="middle">2.0</text>
<text x="483.8" y="928" text-anchor="middle">2.5</text>
<text x="520.5" y="928" text-anchor="middle">3.0</text>
</g>
<g font-family="'Liberation Serif','Times New Roman',Times,serif" font-weight="bold" font-size="15.3" fill="#000" stroke="#000" stroke-width="0.3">
<text xml:space="preserve" x="297" y="667" textLength="226" lengthAdjust="spacingAndGlyphs">ϕ= 83.0 +/- 7.5<tspan font-size="10" dy="-5">o</tspan><tspan dy="5"> δt= 1.25 +/-0.22</tspan><tspan font-style="italic">s</tspan></text>
<text x="410" y="954.8" text-anchor="middle" textLength="118" lengthAdjust="spacingAndGlyphs">Splitting time (s)</text>
<text transform="translate(248 790) rotate(-90)" text-anchor="middle" textLength="160" lengthAdjust="spacingAndGlyphs">Fast direction (degree)</text>
</g>
<text x="207" y="979.5" font-family="'Liberation Sans',Arial,Helvetica,sans-serif" font-size="19.4" fill="#000" stroke="#000" stroke-width="0.25" textLength="406.5" lengthAdjust="spacingAndGlyphs">Ror= 1.22; Rot= 1.18; Rct= 1.12; Rct/Rot= 0.95</text>
</svg>
</body></html>
